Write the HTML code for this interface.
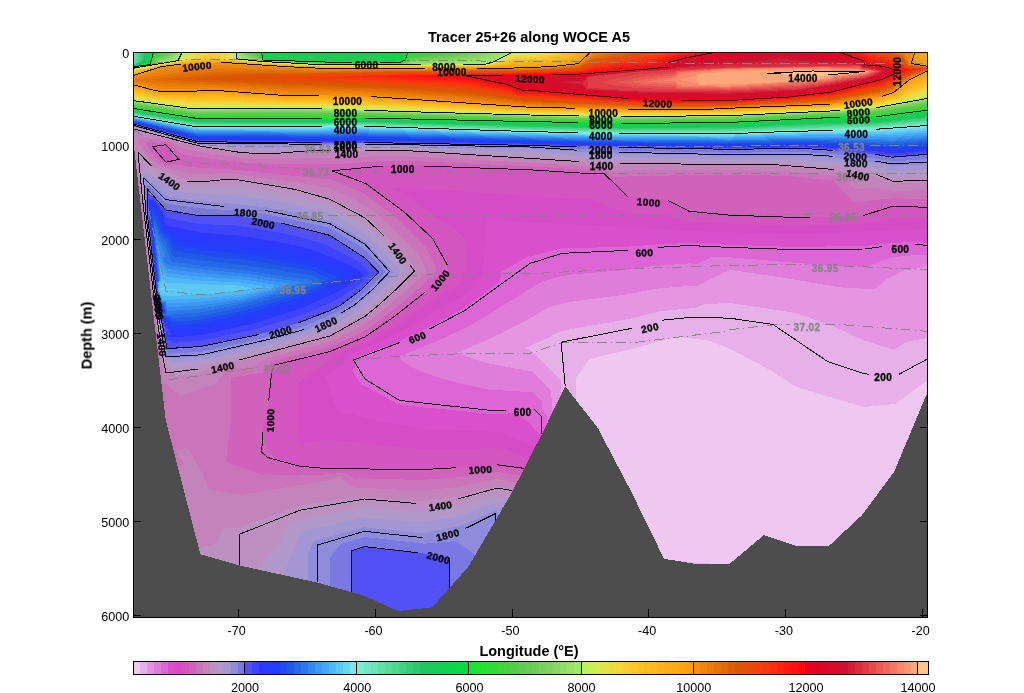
<!DOCTYPE html>
<html><head><meta charset="utf-8"><title>Tracer 25+26 along WOCE A5</title>
<style>html,body{margin:0;padding:0;background:#fff;width:1024px;height:693px;overflow:hidden}
text{font-family:"Liberation Sans",sans-serif}</style></head>
<body><svg width="1024" height="693" viewBox="0 0 1024 693" style="position:absolute;left:0;top:0;will-change:transform"><g shape-rendering="crispEdges" fill="none" stroke-width="1">
<rect x="134" y="53" width="793" height="564" fill="#4d4d4d"/>
<path stroke="#000" d="M238.5 617v-8M375.5 617v-8M512.5 617v-8M648.5 617v-8M785.5 617v-8M922.5 617v-8M134 146.5h7M927 146.5h-7M134 239.5h7M927 239.5h-7M134 333.5h7M927 333.5h-7M134 427.5h7M927 427.5h-7M134 521.5h7M927 521.5h-7M134 615.5h7M927 615.5h-7"/>
<path stroke="#eec8f0" d="M678 337.5h6M671 338.5h21M666 339.5h34M662 340.5h46M658 341.5h54M655 342.5h59M651 343.5h66M648 344.5h71M644 345.5h78M641 346.5h83M637 347.5h89M634 348.5h95M630 349.5h101M626 350.5h107M621 351.5h114M617 352.5h120M612 353.5h127M608 354.5h133M604 355.5h139M599 356.5h145M596 357.5h150M593 358.5h155M590 359.5h160M588 360.5h164M588 361.5h166M587 362.5h169M586 363.5h172M585 364.5h175M585 365.5h177M584 366.5h179M583 367.5h182M583 368.5h184M582 369.5h187M581 370.5h190M581 371.5h191M580 372.5h194M579 373.5h196M578 374.5h199M578 375.5h200M577 376.5h203M576 377.5h206M576 378.5h207M576 379.5h209M576 380.5h210M576 381.5h212M926 381.5h1M576 382.5h213M925 382.5h2M576 383.5h215M923 383.5h4M576 384.5h216M922 384.5h5M576 385.5h218M921 385.5h6M576 386.5h220M919 386.5h8M576 387.5h222M918 387.5h9M576 388.5h225M916 388.5h11M576 389.5h229M915 389.5h12M576 390.5h232M914 390.5h13M576 391.5h236M912 391.5h15M576 392.5h239M911 392.5h16M576 393.5h242M909 393.5h18M576 394.5h246M908 394.5h19M576 395.5h249M907 395.5h19M576 396.5h252M905 396.5h21M576 397.5h256M904 397.5h21M576 398.5h259M903 398.5h22M576 399.5h262M901 399.5h23M576 400.5h266M900 400.5h24M577 401.5h268M898 401.5h26M578 402.5h270M897 402.5h26M579 403.5h273M896 403.5h27M579 404.5h276M890 404.5h32M580 405.5h279M879 405.5h43M581 406.5h281M869 406.5h52M582 407.5h339M583 408.5h338M583 409.5h337M584 410.5h336M585 411.5h334M586 412.5h333M587 413.5h332M587 414.5h331M588 415.5h330M589 416.5h328M590 417.5h327M590 418.5h326M591 419.5h325M592 420.5h324M593 421.5h322M594 422.5h321M594 423.5h320M595 424.5h319M596 425.5h318M597 426.5h316M597 427.5h316M598 428.5h314M599 429.5h313M599 430.5h312M600 431.5h311M600 432.5h311M601 433.5h309M601 434.5h309M602 435.5h307M602 436.5h307M603 437.5h306M603 438.5h305M604 439.5h304M604 440.5h303M605 441.5h302M605 442.5h301M606 443.5h300M606 444.5h300M607 445.5h298M607 446.5h298M608 447.5h296M609 448.5h295M609 449.5h294M610 450.5h293M610 451.5h293M611 452.5h291M611 453.5h291M612 454.5h289M612 455.5h289M613 456.5h288M613 457.5h287M614 458.5h286M614 459.5h285M615 460.5h284M615 461.5h283M616 462.5h282M616 463.5h282M617 464.5h280M617 465.5h280M618 466.5h278M619 467.5h277M619 468.5h277M620 469.5h275M620 470.5h275M621 471.5h273M621 472.5h273M622 473.5h271M622 474.5h270M623 475.5h268M623 476.5h268M624 477.5h266M624 478.5h265M625 479.5h263M625 480.5h263M626 481.5h261M626 482.5h260M627 483.5h258M627 484.5h258M628 485.5h256M629 486.5h254M629 487.5h253M630 488.5h252M630 489.5h251M631 490.5h249M631 491.5h248M632 492.5h247M632 493.5h246M633 494.5h244M633 495.5h244M634 496.5h242M634 497.5h241M635 498.5h239M635 499.5h239M636 500.5h237M636 501.5h236M637 502.5h234M637 503.5h234M637 504.5h233M638 505.5h231M638 506.5h230M639 507.5h229M639 508.5h228M640 509.5h226M640 510.5h225M641 511.5h224M641 512.5h223M642 513.5h221M642 514.5h220M643 515.5h219M643 516.5h218M644 517.5h215M644 518.5h214M645 519.5h212M645 520.5h211M646 521.5h209M646 522.5h208M647 523.5h206M647 524.5h205M648 525.5h203M648 526.5h202M649 527.5h200M649 528.5h199M650 529.5h197M650 530.5h195M651 531.5h193M651 532.5h192M652 533.5h190M652 534.5h189M653 535.5h110M765 535.5h75M653 536.5h109M768 536.5h71M654 537.5h107M771 537.5h67M654 538.5h106M774 538.5h63M655 539.5h104M777 539.5h59M655 540.5h102M780 540.5h55M656 541.5h100M783 541.5h51M656 542.5h99M786 542.5h47M657 543.5h97M789 543.5h43M657 544.5h96M792 544.5h38M658 545.5h93M795 545.5h34M658 546.5h92M658 547.5h91M659 548.5h89M659 549.5h88M660 550.5h86M660 551.5h84M661 552.5h82M661 553.5h81M662 554.5h79M662 555.5h78M663 556.5h75M663 557.5h74M664 558.5h72M668 559.5h67M675 560.5h59M682 561.5h50M695 562.5h36M709 563.5h21"/>
<path stroke="#e8b0e8" d="M718 303.5h15M703 304.5h37M701 305.5h46M699 306.5h54M697 307.5h63M689 308.5h78M678 309.5h95M668 310.5h112M659 311.5h127M655 312.5h138M651 313.5h146M647 314.5h153M643 315.5h160M639 316.5h167M635 317.5h174M631 318.5h180M626 319.5h188M620 320.5h197M614 321.5h206M609 322.5h214M603 323.5h223M598 324.5h231M592 325.5h240M586 326.5h248M580 327.5h256M575 328.5h263M570 329.5h270M565 330.5h277M561 331.5h284M558 332.5h289M556 333.5h293M554 334.5h297M552 335.5h301M551 336.5h304M549 337.5h129M684 337.5h173M547 338.5h124M692 338.5h168M924 338.5h3M544 339.5h122M700 339.5h162M919 339.5h8M542 340.5h120M708 340.5h156M914 340.5h13M540 341.5h118M712 341.5h156M909 341.5h18M538 342.5h117M714 342.5h157M906 342.5h21M535 343.5h116M717 343.5h157M904 343.5h23M533 344.5h115M719 344.5h158M902 344.5h25M531 345.5h113M722 345.5h158M901 345.5h26M529 346.5h112M724 346.5h159M899 346.5h28M526 347.5h111M726 347.5h161M897 347.5h30M525 348.5h109M729 348.5h161M896 348.5h31M529 349.5h101M731 349.5h162M894 349.5h33M531 350.5h95M733 350.5h194M532 351.5h89M735 351.5h192M533 352.5h84M737 352.5h190M534 353.5h78M739 353.5h188M535 354.5h73M741 354.5h186M536 355.5h68M743 355.5h184M537 356.5h62M744 356.5h183M538 357.5h58M746 357.5h181M539 358.5h54M748 358.5h179M540 359.5h50M750 359.5h177M541 360.5h47M752 360.5h175M542 361.5h46M754 361.5h173M543 362.5h44M756 362.5h171M544 363.5h42M758 363.5h169M545 364.5h40M760 364.5h167M546 365.5h39M762 365.5h165M547 366.5h37M763 366.5h164M548 367.5h35M765 367.5h162M549 368.5h34M767 368.5h160M550 369.5h32M769 369.5h158M551 370.5h30M771 370.5h156M552 371.5h29M772 371.5h155M553 372.5h27M774 372.5h153M554 373.5h25M775 373.5h152M555 374.5h23M777 374.5h150M556 375.5h22M778 375.5h149M557 376.5h20M780 376.5h147M558 377.5h18M782 377.5h145M559 378.5h17M783 378.5h144M560 379.5h16M785 379.5h142M561 380.5h15M786 380.5h141M561 381.5h15M788 381.5h138M561 382.5h15M789 382.5h136M561 383.5h15M791 383.5h132M561 384.5h15M792 384.5h130M561 385.5h15M794 385.5h127M561 386.5h15M796 386.5h123M561 387.5h4M566 387.5h10M798 387.5h120M561 388.5h3M567 388.5h9M801 388.5h115M561 389.5h3M568 389.5h8M805 389.5h110M561 390.5h2M569 390.5h7M808 390.5h106M561 391.5h2M569 391.5h7M812 391.5h100M561 392.5h1M570 392.5h6M815 392.5h96M561 393.5h1M571 393.5h5M818 393.5h91M572 394.5h4M822 394.5h86M572 395.5h4M825 395.5h82M573 396.5h3M828 396.5h77M574 397.5h2M832 397.5h72M575 398.5h1M835 398.5h68M838 399.5h63M842 400.5h58M845 401.5h53M848 402.5h49M852 403.5h44M855 404.5h35M859 405.5h20M862 406.5h7M681 561.5h1M687 562.5h8M693 563.5h16"/>
<path stroke="#e496e2" d="M923 267.5h4M916 268.5h11M910 269.5h17M729 270.5h6M904 270.5h23M727 271.5h14M902 271.5h25M724 272.5h24M900 272.5h27M722 273.5h33M898 273.5h29M720 274.5h41M896 274.5h31M718 275.5h50M894 275.5h33M716 276.5h59M892 276.5h35M714 277.5h67M890 277.5h37M712 278.5h76M888 278.5h39M710 279.5h84M886 279.5h41M708 280.5h92M885 280.5h42M706 281.5h100M884 281.5h43M704 282.5h107M883 282.5h44M702 283.5h115M882 283.5h45M700 284.5h123M880 284.5h47M698 285.5h131M879 285.5h48M682 286.5h153M878 286.5h49M670 287.5h173M877 287.5h50M659 288.5h201M875 288.5h52M652 289.5h275M647 290.5h280M642 291.5h285M637 292.5h290M632 293.5h295M626 294.5h301M619 295.5h308M611 296.5h316M603 297.5h324M596 298.5h331M588 299.5h339M580 300.5h347M573 301.5h354M567 302.5h360M563 303.5h155M733 303.5h194M559 304.5h144M740 304.5h187M555 305.5h146M747 305.5h180M552 306.5h147M753 306.5h174M549 307.5h148M760 307.5h167M547 308.5h142M767 308.5h160M545 309.5h133M773 309.5h154M544 310.5h124M780 310.5h147M542 311.5h117M786 311.5h141M540 312.5h115M793 312.5h134M538 313.5h113M797 313.5h130M537 314.5h110M800 314.5h127M535 315.5h108M803 315.5h124M533 316.5h106M806 316.5h121M531 317.5h104M809 317.5h118M529 318.5h102M811 318.5h116M528 319.5h98M814 319.5h113M526 320.5h94M817 320.5h110M524 321.5h90M820 321.5h107M522 322.5h87M823 322.5h104M520 323.5h83M826 323.5h101M518 324.5h80M829 324.5h98M516 325.5h76M832 325.5h95M514 326.5h72M834 326.5h93M512 327.5h68M836 327.5h91M510 328.5h65M838 328.5h89M508 329.5h62M840 329.5h87M506 330.5h59M842 330.5h85M504 331.5h57M845 331.5h82M503 332.5h55M847 332.5h80M501 333.5h55M849 333.5h78M499 334.5h55M851 334.5h76M496 335.5h56M853 335.5h74M494 336.5h57M855 336.5h72M492 337.5h57M857 337.5h70M490 338.5h57M860 338.5h64M488 339.5h56M862 339.5h57M486 340.5h56M864 340.5h50M484 341.5h56M868 341.5h41M481 342.5h57M871 342.5h35M479 343.5h56M874 343.5h30M477 344.5h56M877 344.5h25M474 345.5h57M880 345.5h21M472 346.5h57M883 346.5h16M470 347.5h56M887 347.5h10M467 348.5h58M890 348.5h6M465 349.5h64M893 349.5h1M462 350.5h69M460 351.5h72M458 352.5h75M460 353.5h74M462 354.5h73M465 355.5h71M468 356.5h69M471 357.5h67M473 358.5h66M476 359.5h64M479 360.5h62M483 361.5h59M486 362.5h57M490 363.5h54M495 364.5h50M500 365.5h46M505 366.5h42M510 367.5h38M515 368.5h34M522 369.5h28M528 370.5h23M532 371.5h20M533 372.5h20M534 373.5h20M535 374.5h20M536 375.5h20M537 376.5h20M538 377.5h20M539 378.5h20M540 379.5h20M541 380.5h20M542 381.5h19M543 382.5h18M544 383.5h17M545 384.5h16M546 385.5h15M547 386.5h14M548 387.5h13M549 388.5h12M550 389.5h11M551 390.5h10M551 391.5h10M551 392.5h10M551 393.5h10M551 394.5h10M551 395.5h10M551 396.5h9M551 397.5h9M552 398.5h7M552 399.5h7M552 400.5h6M552 401.5h6M552 402.5h5M552 403.5h5M552 404.5h4M552 405.5h4M552 406.5h3M552 407.5h3M552 408.5h2M552 409.5h2"/>
<path stroke="#e07ddb" d="M910 255.5h17M901 256.5h26M711 257.5h21M891 257.5h36M709 258.5h35M888 258.5h39M707 259.5h49M885 259.5h42M705 260.5h62M882 260.5h45M702 261.5h77M880 261.5h47M700 262.5h92M877 262.5h50M688 263.5h3M698 263.5h107M875 263.5h52M674 264.5h146M872 264.5h55M660 265.5h173M870 265.5h57M651 266.5h207M867 266.5h60M644 267.5h279M637 268.5h279M629 269.5h281M620 270.5h109M735 270.5h169M607 271.5h120M741 271.5h161M595 272.5h129M748 272.5h152M583 273.5h139M755 273.5h143M571 274.5h149M761 274.5h135M565 275.5h153M768 275.5h126M560 276.5h156M775 276.5h117M557 277.5h157M781 277.5h109M553 278.5h159M788 278.5h100M550 279.5h160M794 279.5h92M546 280.5h162M800 280.5h85M543 281.5h163M806 281.5h78M541 282.5h163M811 282.5h72M539 283.5h163M817 283.5h65M537 284.5h163M823 284.5h57M535 285.5h163M829 285.5h50M533 286.5h149M835 286.5h43M532 287.5h138M843 287.5h34M530 288.5h129M860 288.5h15M528 289.5h124M527 290.5h120M525 291.5h117M524 292.5h113M522 293.5h110M521 294.5h105M519 295.5h100M518 296.5h93M516 297.5h87M514 298.5h82M513 299.5h75M511 300.5h69M509 301.5h64M508 302.5h59M506 303.5h57M505 304.5h54M503 305.5h52M501 306.5h51M500 307.5h49M498 308.5h49M497 309.5h48M495 310.5h49M493 311.5h49M492 312.5h48M490 313.5h48M489 314.5h48M487 315.5h48M485 316.5h48M484 317.5h47M482 318.5h47M480 319.5h48M479 320.5h47M477 321.5h47M475 322.5h47M474 323.5h46M472 324.5h46M470 325.5h46M468 326.5h46M466 327.5h46M464 328.5h46M462 329.5h46M460 330.5h46M458 331.5h46M456 332.5h47M453 333.5h48M451 334.5h48M449 335.5h47M447 336.5h47M445 337.5h47M443 338.5h47M440 339.5h48M438 340.5h48M436 341.5h48M434 342.5h47M431 343.5h48M429 344.5h48M426 345.5h48M424 346.5h48M421 347.5h49M418 348.5h49M416 349.5h49M414 350.5h48M411 351.5h49M409 352.5h49M406 353.5h54M404 354.5h58M401 355.5h64M398 356.5h70M399 357.5h72M400 358.5h73M401 359.5h75M402 360.5h77M403 361.5h80M405 362.5h81M407 363.5h83M408 364.5h87M410 365.5h90M411 366.5h94M413 367.5h97M415 368.5h100M417 369.5h105M419 370.5h109M421 371.5h111M424 372.5h109M426 373.5h108M429 374.5h106M432 375.5h104M435 376.5h102M438 377.5h100M442 378.5h97M445 379.5h95M449 380.5h92M453 381.5h89M457 382.5h86M461 383.5h83M465 384.5h80M469 385.5h77M474 386.5h73M479 387.5h69M484 388.5h65M489 389.5h61M503 390.5h1M505 390.5h46M520 391.5h31M533 392.5h18M534 393.5h17M535 394.5h16M536 395.5h15M537 396.5h14M538 397.5h13M539 398.5h13M540 399.5h12M541 400.5h11M542 401.5h10M542 402.5h10M542 403.5h10M542 404.5h10M542 405.5h10M542 406.5h10M542 407.5h10M542 408.5h10M543 409.5h9M544 410.5h9M544 411.5h9M545 412.5h7M545 413.5h7M546 414.5h5M546 415.5h5M547 416.5h3M547 417.5h3M547 418.5h2M547 419.5h2M547 420.5h1M547 421.5h1M547 422.5h1"/>
<path stroke="#dc66d4" d="M902 242.5h22M677 243.5h22M888 243.5h39M656 244.5h67M877 244.5h50M643 245.5h108M869 245.5h58M629 246.5h152M826 246.5h101M597 247.5h330M561 248.5h366M557 249.5h370M553 250.5h374M549 251.5h378M545 252.5h382M541 253.5h386M537 254.5h390M534 255.5h376M528 256.5h1M530 256.5h371M526 257.5h185M732 257.5h159M525 258.5h184M744 258.5h144M523 259.5h184M756 259.5h129M521 260.5h184M767 260.5h115M519 261.5h183M779 261.5h101M517 262.5h183M792 262.5h85M516 263.5h172M691 263.5h7M805 263.5h70M514 264.5h160M820 264.5h52M512 265.5h148M833 265.5h37M510 266.5h141M858 266.5h9M509 267.5h135M507 268.5h130M505 269.5h124M503 270.5h117M501 271.5h106M501 272.5h94M501 273.5h82M501 274.5h70M501 275.5h64M501 276.5h59M500 277.5h57M500 278.5h53M500 279.5h50M500 280.5h46M500 281.5h43M498 282.5h43M497 283.5h42M496 284.5h41M494 285.5h41M493 286.5h40M491 287.5h41M490 288.5h40M490 289.5h38M488 290.5h39M487 291.5h38M486 292.5h38M484 293.5h38M483 294.5h38M482 295.5h37M480 296.5h38M479 297.5h37M477 298.5h37M476 299.5h37M475 300.5h36M473 301.5h36M472 302.5h36M471 303.5h35M469 304.5h36M468 305.5h35M466 306.5h35M465 307.5h35M463 308.5h35M462 309.5h35M460 310.5h35M458 311.5h35M456 312.5h36M454 313.5h36M452 314.5h37M450 315.5h37M449 316.5h36M447 317.5h37M445 318.5h37M443 319.5h37M441 320.5h38M439 321.5h38M437 322.5h38M436 323.5h38M434 324.5h38M432 325.5h38M430 326.5h38M428 327.5h38M426 328.5h38M424 329.5h38M422 330.5h38M420 331.5h38M418 332.5h38M415 333.5h38M413 334.5h38M411 335.5h38M409 336.5h38M407 337.5h38M405 338.5h38M403 339.5h37M401 340.5h37M398 341.5h38M396 342.5h38M393 343.5h38M391 344.5h38M388 345.5h38M385 346.5h39M383 347.5h38M380 348.5h38M378 349.5h38M375 350.5h39M373 351.5h38M370 352.5h39M368 353.5h38M365 354.5h39M362 355.5h39M360 356.5h38M357 357.5h42M354 358.5h46M352 359.5h49M353 360.5h49M353 361.5h50M354 362.5h51M354 363.5h53M355 364.5h53M355 365.5h55M356 366.5h55M355 367.5h58M353 368.5h62M353 369.5h64M353 370.5h66M354 371.5h67M354 372.5h70M354 373.5h72M355 374.5h74M355 375.5h77M356 376.5h79M356 377.5h82M357 378.5h85M358 379.5h87M358 380.5h91M359 381.5h94M360 382.5h97M361 383.5h100M361 384.5h104M364 385.5h105M366 386.5h108M368 387.5h111M370 388.5h114M371 389.5h118M373 390.5h130M504 390.5h1M375 391.5h145M377 392.5h156M379 393.5h155M380 394.5h155M382 395.5h154M384 396.5h153M386 397.5h152M387 398.5h152M389 399.5h151M391 400.5h150M393 401.5h149M395 402.5h147M397 403.5h145M400 404.5h142M408 405.5h134M416 406.5h126M425 407.5h117M436 408.5h106M446 409.5h97M456 410.5h88M466 411.5h78M476 412.5h69M486 413.5h22M517 413.5h28M518 414.5h28M519 415.5h27M521 416.5h26M522 417.5h25M523 418.5h24M524 419.5h23M526 420.5h21M527 421.5h20M529 422.5h18M530 423.5h17M531 424.5h16M531 425.5h15M532 426.5h14M533 427.5h12M534 428.5h11M535 429.5h9M536 430.5h8M537 431.5h6M538 432.5h5M540 433.5h2M541 434.5h1"/>
<path stroke="#da50cc" d="M487 220.5h12M500 220.5h1M487 221.5h31M487 222.5h42M487 223.5h69M487 224.5h87M486 225.5h105M486 226.5h116M486 227.5h133M486 228.5h157M486 229.5h179M914 229.5h13M486 230.5h197M889 230.5h38M486 231.5h222M864 231.5h63M486 232.5h253M841 232.5h86M486 233.5h286M819 233.5h108M486 234.5h441M486 235.5h441M486 236.5h441M486 237.5h441M485 238.5h442M485 239.5h442M485 240.5h442M485 241.5h442M485 242.5h417M924 242.5h3M485 243.5h192M699 243.5h189M485 244.5h171M723 244.5h154M485 245.5h158M751 245.5h118M485 246.5h144M781 246.5h45M485 247.5h112M485 248.5h76M485 249.5h72M485 250.5h68M484 251.5h65M484 252.5h61M484 253.5h57M484 254.5h53M484 255.5h50M484 256.5h44M529 256.5h1M484 257.5h42M484 258.5h41M484 259.5h39M484 260.5h37M484 261.5h35M484 262.5h33M483 263.5h33M483 264.5h31M483 265.5h29M483 266.5h27M483 267.5h26M483 268.5h24M483 269.5h22M483 270.5h20M483 271.5h18M483 272.5h18M483 273.5h18M483 274.5h18M483 275.5h18M481 276.5h20M480 277.5h20M479 278.5h21M477 279.5h23M476 280.5h24M476 281.5h24M476 282.5h22M476 283.5h21M476 284.5h20M476 285.5h18M475 286.5h18M473 287.5h18M472 288.5h18M470 289.5h20M469 290.5h19M468 291.5h19M466 292.5h20M465 293.5h19M464 294.5h19M462 295.5h20M461 296.5h19M459 297.5h20M458 298.5h19M456 299.5h20M454 300.5h21M452 301.5h21M449 302.5h23M447 303.5h24M445 304.5h24M444 305.5h24M443 306.5h23M442 307.5h23M440 308.5h23M439 309.5h23M437 310.5h23M435 311.5h23M434 312.5h22M432 313.5h22M430 314.5h22M429 315.5h21M427 316.5h22M426 317.5h21M424 318.5h21M422 319.5h21M420 320.5h21M419 321.5h20M417 322.5h20M415 323.5h21M413 324.5h21M411 325.5h21M410 326.5h20M408 327.5h20M406 328.5h20M405 329.5h19M403 330.5h19M401 331.5h19M399 332.5h19M397 333.5h18M395 334.5h18M393 335.5h18M391 336.5h18M389 337.5h18M387 338.5h18M385 339.5h18M383 340.5h18M381 341.5h17M379 342.5h17M377 343.5h16M375 344.5h16M372 345.5h16M371 346.5h14M368 347.5h15M365 348.5h15M363 349.5h15M360 350.5h15M358 351.5h15M355 352.5h15M353 353.5h15M350 354.5h15M348 355.5h14M345 356.5h15M345 357.5h12M345 358.5h9M345 359.5h7M345 360.5h8M345 361.5h8M344 362.5h10M343 363.5h11M342 364.5h13M340 365.5h15M339 366.5h17M337 367.5h18M336 368.5h17M335 369.5h18M333 370.5h20M332 371.5h22M330 372.5h24M329 373.5h25M328 374.5h27M326 375.5h29M325 376.5h31M325 377.5h31M326 378.5h31M326 379.5h32M326 380.5h32M327 381.5h32M327 382.5h33M327 383.5h34M328 384.5h33M328 385.5h36M328 386.5h38M329 387.5h39M329 388.5h41M329 389.5h42M330 390.5h43M330 391.5h45M330 392.5h47M331 393.5h48M331 394.5h49M331 395.5h51M332 396.5h52M332 397.5h54M332 398.5h55M333 399.5h56M333 400.5h58M333 401.5h60M334 402.5h61M334 403.5h63M334 404.5h66M335 405.5h73M335 406.5h81M335 407.5h90M336 408.5h100M336 409.5h110M338 410.5h118M340 411.5h126M343 412.5h133M348 413.5h138M508 413.5h9M354 414.5h164M357 415.5h162M361 416.5h160M365 417.5h157M369 418.5h154M373 419.5h151M378 420.5h148M382 421.5h145M386 422.5h143M391 423.5h139M397 424.5h134M403 425.5h128M409 426.5h123M415 427.5h118M425 428.5h109M450 429.5h85M471 430.5h65M492 431.5h45M504 432.5h34M506 433.5h34M507 434.5h34M508 435.5h33M509 436.5h32M512 437.5h28M514 438.5h26M517 439.5h22M519 440.5h20M522 441.5h16M524 442.5h14M527 443.5h10M529 444.5h7M532 445.5h4M534 446.5h1"/>
<path stroke="#d64bc6" d="M398 187.5h3M395 188.5h26M396 189.5h46M398 190.5h57M399 191.5h69M401 192.5h81M403 193.5h92M404 194.5h106M406 195.5h119M407 196.5h132M409 197.5h147M410 198.5h163M412 199.5h181M413 200.5h182M415 201.5h182M416 202.5h184M418 203.5h184M419 204.5h185M421 205.5h184M422 206.5h186M423 207.5h188M425 208.5h188M426 209.5h190M427 210.5h191M429 211.5h192M430 212.5h202M431 213.5h215M432 214.5h230M434 215.5h233M435 216.5h235M437 217.5h237M439 218.5h239M893 218.5h34M441 219.5h240M887 219.5h40M442 220.5h45M499 220.5h1M501 220.5h184M882 220.5h45M445 221.5h42M518 221.5h177M876 221.5h51M446 222.5h41M529 222.5h182M870 222.5h57M448 223.5h39M556 223.5h170M864 223.5h63M449 224.5h38M574 224.5h181M838 224.5h89M450 225.5h36M591 225.5h195M808 225.5h119M451 226.5h35M602 226.5h325M452 227.5h34M619 227.5h308M454 228.5h32M643 228.5h284M455 229.5h31M665 229.5h249M456 230.5h30M683 230.5h206M457 231.5h29M708 231.5h156M458 232.5h28M739 232.5h102M459 233.5h27M772 233.5h47M461 234.5h25M462 235.5h24M463 236.5h23M464 237.5h22M464 238.5h21M467 239.5h18M467 240.5h18M467 241.5h18M467 242.5h18M467 243.5h18M467 244.5h18M467 245.5h18M467 246.5h18M467 247.5h18M467 248.5h18M466 249.5h19M466 250.5h19M466 251.5h18M466 252.5h18M466 253.5h18M466 254.5h18M466 255.5h18M466 256.5h18M466 257.5h18M466 258.5h18M466 259.5h18M466 260.5h18M466 261.5h18M465 262.5h19M465 263.5h18M465 264.5h18M465 265.5h18M465 266.5h18M465 267.5h18M465 268.5h18M465 269.5h18M464 270.5h19M463 271.5h20M462 272.5h21M462 273.5h21M462 274.5h21M462 275.5h21M462 276.5h19M462 277.5h18M462 278.5h17M463 279.5h14M463 280.5h13M462 281.5h14M461 282.5h15M459 283.5h17M458 284.5h18M457 285.5h19M455 286.5h20M454 287.5h19M452 288.5h20M450 289.5h20M447 290.5h22M445 291.5h23M443 292.5h23M440 293.5h25M439 294.5h25M437 295.5h25M436 296.5h25M435 297.5h24M434 298.5h24M433 299.5h23M432 300.5h22M431 301.5h21M429 302.5h20M428 303.5h19M426 304.5h19M425 305.5h19M424 306.5h19M422 307.5h20M421 308.5h19M419 309.5h20M418 310.5h19M416 311.5h19M415 312.5h19M413 313.5h19M412 314.5h18M411 315.5h18M409 316.5h18M407 317.5h19M406 318.5h18M404 319.5h18M403 320.5h17M402 321.5h17M400 322.5h17M399 323.5h16M397 324.5h16M395 325.5h16M394 326.5h16M392 327.5h16M390 328.5h16M389 329.5h16M387 330.5h16M385 331.5h16M383 332.5h16M382 333.5h15M380 334.5h15M378 335.5h15M377 336.5h14M375 337.5h14M373 338.5h14M371 339.5h14M370 340.5h13M368 341.5h13M366 342.5h13M363 343.5h14M361 344.5h14M358 345.5h14M356 346.5h15M353 347.5h15M351 348.5h14M348 349.5h15M346 350.5h14M344 351.5h14M341 352.5h14M339 353.5h14M338 354.5h12M337 355.5h11M335 356.5h10M335 357.5h10M333 358.5h12M331 359.5h14M330 360.5h15M329 361.5h16M327 362.5h17M326 363.5h17M324 364.5h18M323 365.5h17M322 366.5h17M320 367.5h17M319 368.5h17M317 369.5h18M316 370.5h17M315 371.5h17M313 372.5h17M312 373.5h17M310 374.5h18M309 375.5h17M308 376.5h17M306 377.5h19M305 378.5h21M303 379.5h23M302 380.5h24M301 381.5h26M299 382.5h28M298 383.5h29M298 384.5h30M298 385.5h30M298 386.5h30M298 387.5h31M298 388.5h31M298 389.5h31M298 390.5h32M298 391.5h32M298 392.5h32M298 393.5h33M298 394.5h33M298 395.5h33M297 396.5h35M297 397.5h35M297 398.5h35M297 399.5h36M297 400.5h36M297 401.5h36M297 402.5h37M297 403.5h37M297 404.5h37M297 405.5h38M297 406.5h38M297 407.5h38M297 408.5h39M297 409.5h39M297 410.5h41M297 411.5h43M297 412.5h46M297 413.5h51M297 414.5h57M297 415.5h60M297 416.5h64M297 417.5h68M297 418.5h72M297 419.5h76M297 420.5h81M297 421.5h85M297 422.5h89M297 423.5h94M298 424.5h99M298 425.5h105M298 426.5h111M298 427.5h117M298 428.5h127M298 429.5h152M298 430.5h173M299 431.5h193M299 432.5h205M299 433.5h207M299 434.5h208M299 435.5h209M299 436.5h210M299 437.5h213M300 438.5h214M300 439.5h217M300 440.5h21M337 440.5h182M300 441.5h16M346 441.5h176M300 442.5h10M355 442.5h169M300 443.5h5M363 443.5h164M373 444.5h156M382 445.5h150M393 446.5h141M404 447.5h131M416 448.5h61M478 448.5h4M483 448.5h1M499 448.5h35M506 449.5h28M509 450.5h24M511 451.5h22M514 452.5h18M517 453.5h15M520 454.5h11M523 455.5h8M526 456.5h4M529 457.5h1"/>
<path stroke="#d455c0" d="M161 145.5h4M160 146.5h8M160 147.5h8M160 148.5h9M159 149.5h11M159 150.5h12M159 151.5h13M159 152.5h14M158 153.5h15M159 154.5h13M160 155.5h12M161 156.5h11M162 157.5h9M163 158.5h8M164 159.5h7M165 160.5h6M168 161.5h1M377 166.5h61M367 167.5h99M356 168.5h138M347 169.5h175M347 170.5h194M347 171.5h209M346 172.5h226M346 173.5h248M346 174.5h251M346 175.5h253M347 176.5h254M350 177.5h254M352 178.5h254M355 179.5h253M358 180.5h253M360 181.5h252M363 182.5h250M365 183.5h249M367 184.5h248M368 185.5h248M370 186.5h247M371 187.5h27M401 187.5h217M372 188.5h23M421 188.5h198M374 189.5h22M442 189.5h178M375 190.5h23M455 190.5h166M377 191.5h22M468 191.5h154M378 192.5h23M482 192.5h142M379 193.5h24M495 193.5h130M381 194.5h23M510 194.5h116M382 195.5h24M525 195.5h102M383 196.5h24M539 196.5h89M385 197.5h24M556 197.5h82M386 198.5h24M573 198.5h76M387 199.5h25M593 199.5h67M389 200.5h24M595 200.5h72M390 201.5h25M597 201.5h73M391 202.5h25M600 202.5h72M393 203.5h25M602 203.5h72M394 204.5h25M604 204.5h72M395 205.5h26M605 205.5h73M397 206.5h25M608 206.5h72M891 206.5h14M398 207.5h25M611 207.5h71M888 207.5h39M399 208.5h26M613 208.5h71M885 208.5h42M401 209.5h25M616 209.5h70M882 209.5h45M402 210.5h25M618 210.5h70M879 210.5h48M404 211.5h25M621 211.5h70M876 211.5h51M405 212.5h25M632 212.5h70M873 212.5h54M406 213.5h25M646 213.5h66M870 213.5h57M407 214.5h25M662 214.5h61M867 214.5h60M408 215.5h26M667 215.5h72M864 215.5h63M409 216.5h26M670 216.5h98M833 216.5h94M410 217.5h27M674 217.5h253M411 218.5h28M678 218.5h215M412 219.5h29M681 219.5h206M413 220.5h29M685 220.5h197M414 221.5h31M695 221.5h181M415 222.5h31M711 222.5h159M417 223.5h31M726 223.5h138M418 224.5h31M755 224.5h83M419 225.5h31M786 225.5h22M420 226.5h31M421 227.5h31M422 228.5h32M423 229.5h32M424 230.5h32M425 231.5h32M426 232.5h32M427 233.5h32M428 234.5h33M429 235.5h33M430 236.5h33M432 237.5h32M433 238.5h31M433 239.5h34M434 240.5h33M434 241.5h33M435 242.5h32M435 243.5h32M436 244.5h31M436 245.5h31M437 246.5h30M438 247.5h29M438 248.5h29M439 249.5h27M439 250.5h27M440 251.5h26M440 252.5h26M441 253.5h25M442 254.5h24M442 255.5h24M443 256.5h23M443 257.5h23M444 258.5h22M444 259.5h22M445 260.5h21M445 261.5h21M446 262.5h19M447 263.5h18M447 264.5h18M447 265.5h18M447 266.5h18M448 267.5h17M448 268.5h17M448 269.5h17M448 270.5h16M448 271.5h15M448 272.5h14M448 273.5h14M449 274.5h13M449 275.5h13M449 276.5h13M448 277.5h14M445 278.5h17M443 279.5h20M441 280.5h22M438 281.5h24M436 282.5h25M433 283.5h26M431 284.5h27M430 285.5h27M430 286.5h25M429 287.5h25M428 288.5h24M427 289.5h23M426 290.5h21M426 291.5h19M425 292.5h18M423 293.5h17M422 294.5h17M421 295.5h16M420 296.5h16M418 297.5h17M417 298.5h17M416 299.5h17M415 300.5h17M413 301.5h18M412 302.5h17M411 303.5h17M410 304.5h16M408 305.5h17M407 306.5h17M406 307.5h16M404 308.5h17M403 309.5h16M402 310.5h16M401 311.5h15M399 312.5h16M398 313.5h15M397 314.5h15M396 315.5h15M394 316.5h15M393 317.5h14M391 318.5h15M390 319.5h14M389 320.5h14M387 321.5h15M386 322.5h14M384 323.5h15M383 324.5h14M381 325.5h14M380 326.5h14M379 327.5h13M377 328.5h13M376 329.5h13M374 330.5h13M373 331.5h12M371 332.5h12M370 333.5h12M368 334.5h12M367 335.5h11M366 336.5h11M364 337.5h11M361 338.5h12M359 339.5h12M356 340.5h14M354 341.5h14M352 342.5h14M349 343.5h14M347 344.5h14M344 345.5h14M342 346.5h14M340 347.5h13M337 348.5h14M335 349.5h13M332 350.5h14M330 351.5h14M326 352.5h15M322 353.5h17M318 354.5h20M314 355.5h23M310 356.5h25M306 357.5h29M302 358.5h31M298 359.5h33M294 360.5h36M289 361.5h40M285 362.5h42M282 363.5h44M281 364.5h43M280 365.5h43M279 366.5h43M278 367.5h42M277 368.5h42M276 369.5h41M275 370.5h41M274 371.5h41M273 372.5h40M273 373.5h39M272 374.5h38M271 375.5h38M271 376.5h37M271 377.5h35M271 378.5h34M271 379.5h32M271 380.5h31M271 381.5h30M271 382.5h28M270 383.5h28M270 384.5h28M270 385.5h28M270 386.5h28M270 387.5h28M270 388.5h28M270 389.5h28M270 390.5h28M270 391.5h28M270 392.5h28M269 393.5h29M269 394.5h29M269 395.5h29M269 396.5h28M269 397.5h28M269 398.5h28M269 399.5h28M269 400.5h28M269 401.5h28M268 402.5h29M268 403.5h29M268 404.5h29M268 405.5h29M268 406.5h29M267 407.5h30M267 408.5h30M267 409.5h30M267 410.5h30M267 411.5h30M266 412.5h31M266 413.5h31M266 414.5h31M266 415.5h31M266 416.5h31M265 417.5h32M265 418.5h32M265 419.5h32M265 420.5h32M265 421.5h32M264 422.5h33M264 423.5h33M264 424.5h34M264 425.5h34M264 426.5h34M263 427.5h35M263 428.5h35M263 429.5h35M263 430.5h35M263 431.5h36M263 432.5h36M262 433.5h37M262 434.5h37M262 435.5h37M262 436.5h37M262 437.5h37M262 438.5h38M262 439.5h38M262 440.5h38M321 440.5h16M263 441.5h37M316 441.5h30M264 442.5h36M310 442.5h45M264 443.5h36M305 443.5h58M265 444.5h108M266 445.5h116M266 446.5h127M267 447.5h137M268 448.5h148M477 448.5h1M482 448.5h1M484 448.5h15M269 449.5h237M269 450.5h240M270 451.5h241M271 452.5h243M272 453.5h245M272 454.5h248M273 455.5h250M274 456.5h252M274 457.5h255M275 458.5h254M276 459.5h253M279 460.5h249M282 461.5h246M286 462.5h241M289 463.5h238M293 464.5h233M297 465.5h190M503 465.5h23M304 466.5h169M510 466.5h15M315 467.5h144M518 467.5h7M337 468.5h105"/>
<path stroke="#d062bc" d="M146 142.5h4M161 142.5h5M147 143.5h21M147 144.5h23M147 145.5h14M165 145.5h6M148 146.5h12M168 146.5h4M148 147.5h12M168 147.5h5M149 148.5h11M169 148.5h6M149 149.5h10M170 149.5h6M150 150.5h9M171 150.5h6M151 151.5h8M172 151.5h6M152 152.5h7M173 152.5h7M153 153.5h5M173 153.5h9M154 154.5h5M172 154.5h12M154 155.5h6M172 155.5h17M155 156.5h6M172 156.5h23M156 157.5h6M171 157.5h31M157 158.5h6M171 158.5h39M158 159.5h6M171 159.5h47M159 160.5h6M171 160.5h56M161 161.5h7M169 161.5h67M376 161.5h46M162 162.5h83M359 162.5h86M163 163.5h99M345 163.5h123M164 164.5h327M183 165.5h330M187 166.5h190M438 166.5h96M197 167.5h170M466 167.5h84M214 168.5h142M494 168.5h71M232 169.5h115M522 169.5h59M243 170.5h104M541 170.5h65M252 171.5h95M556 171.5h51M261 172.5h85M572 172.5h36M270 173.5h76M594 173.5h15M280 174.5h66M597 174.5h13M289 175.5h57M599 175.5h12M670 175.5h100M301 176.5h46M601 176.5h11M626 176.5h168M310 177.5h40M604 177.5h199M321 178.5h31M606 178.5h206M330 179.5h25M608 179.5h213M333 180.5h25M611 180.5h219M336 181.5h24M612 181.5h222M339 182.5h24M613 182.5h222M341 183.5h24M614 183.5h222M343 184.5h24M615 184.5h222M346 185.5h22M616 185.5h222M348 186.5h22M617 186.5h222M350 187.5h21M618 187.5h222M353 188.5h19M619 188.5h222M355 189.5h19M620 189.5h222M357 190.5h18M621 190.5h222M360 191.5h17M622 191.5h221M362 192.5h16M624 192.5h220M363 193.5h16M625 193.5h220M365 194.5h16M626 194.5h220M366 195.5h16M627 195.5h220M368 196.5h15M628 196.5h220M369 197.5h16M638 197.5h211M371 198.5h15M649 198.5h201M891 198.5h14M372 199.5h15M660 199.5h191M876 199.5h1M881 199.5h46M374 200.5h15M667 200.5h185M871 200.5h56M375 201.5h15M670 201.5h182M865 201.5h62M140 202.5h1M377 202.5h14M672 202.5h255M378 203.5h15M674 203.5h253M379 204.5h15M676 204.5h251M380 205.5h15M678 205.5h249M382 206.5h15M680 206.5h211M905 206.5h22M383 207.5h15M682 207.5h206M384 208.5h15M684 208.5h201M385 209.5h16M686 209.5h196M387 210.5h15M688 210.5h191M141 211.5h1M388 211.5h16M691 211.5h185M389 212.5h16M702 212.5h171M390 213.5h16M712 213.5h158M392 214.5h15M723 214.5h144M393 215.5h15M739 215.5h125M394 216.5h15M768 216.5h65M396 217.5h14M397 218.5h14M398 219.5h14M399 220.5h14M400 221.5h14M401 222.5h14M402 223.5h15M403 224.5h15M404 225.5h15M405 226.5h15M406 227.5h15M407 228.5h15M408 229.5h15M409 230.5h15M410 231.5h15M411 232.5h15M412 233.5h15M413 234.5h15M414 235.5h15M415 236.5h15M416 237.5h16M417 238.5h16M418 239.5h15M419 240.5h15M420 241.5h14M421 242.5h14M422 243.5h13M423 244.5h13M424 245.5h12M425 246.5h12M426 247.5h12M426 248.5h12M427 249.5h12M427 250.5h12M428 251.5h12M429 252.5h11M429 253.5h12M430 254.5h12M430 255.5h12M431 256.5h12M431 257.5h12M432 258.5h12M432 259.5h12M433 260.5h12M433 261.5h12M434 262.5h12M434 263.5h13M435 264.5h12M435 265.5h12M436 266.5h11M436 267.5h12M436 268.5h12M436 269.5h12M436 270.5h12M436 271.5h12M436 272.5h12M436 273.5h12M436 274.5h13M436 275.5h13M433 276.5h16M431 277.5h17M430 278.5h15M428 279.5h15M427 280.5h14M426 281.5h12M425 282.5h11M424 283.5h9M423 284.5h8M422 285.5h8M421 286.5h9M420 287.5h9M419 288.5h9M417 289.5h10M416 290.5h10M415 291.5h11M414 292.5h11M413 293.5h10M412 294.5h10M410 295.5h11M409 296.5h11M408 297.5h10M407 298.5h10M406 299.5h10M404 300.5h11M403 301.5h10M402 302.5h10M401 303.5h10M400 304.5h10M398 305.5h10M397 306.5h10M396 307.5h10M395 308.5h9M394 309.5h9M392 310.5h10M391 311.5h10M390 312.5h9M388 313.5h10M387 314.5h10M386 315.5h10M384 316.5h10M383 317.5h10M382 318.5h9M380 319.5h10M379 320.5h10M378 321.5h9M376 322.5h10M375 323.5h9M374 324.5h9M372 325.5h9M371 326.5h9M369 327.5h10M368 328.5h9M366 329.5h10M365 330.5h9M363 331.5h10M361 332.5h10M359 333.5h11M357 334.5h11M355 335.5h12M352 336.5h14M350 337.5h14M348 338.5h13M346 339.5h13M344 340.5h12M342 341.5h12M339 342.5h13M337 343.5h12M335 344.5h12M333 345.5h11M330 346.5h12M327 347.5h13M323 348.5h14M319 349.5h16M315 350.5h17M311 351.5h19M307 352.5h19M303 353.5h19M299 354.5h19M295 355.5h19M291 356.5h19M287 357.5h19M283 358.5h19M279 359.5h19M275 360.5h19M271 361.5h18M271 362.5h14M270 363.5h12M269 364.5h12M268 365.5h12M267 366.5h12M266 367.5h12M265 368.5h12M264 369.5h12M264 370.5h11M264 371.5h10M263 372.5h10M258 373.5h15M252 374.5h20M246 375.5h25M239 376.5h32M233 377.5h38M231 378.5h40M231 379.5h40M231 380.5h40M231 381.5h40M231 382.5h40M231 383.5h39M231 384.5h39M231 385.5h39M231 386.5h39M231 387.5h39M231 388.5h39M231 389.5h39M231 390.5h39M231 391.5h39M231 392.5h39M231 393.5h38M231 394.5h38M231 395.5h38M231 396.5h38M231 397.5h38M231 398.5h38M231 399.5h38M231 400.5h38M231 401.5h38M231 402.5h37M231 403.5h37M231 404.5h37M231 405.5h37M231 406.5h37M231 407.5h36M231 408.5h36M231 409.5h36M231 410.5h36M231 411.5h36M231 412.5h35M231 413.5h35M231 414.5h35M231 415.5h35M231 416.5h35M231 417.5h34M231 418.5h34M231 419.5h34M231 420.5h34M231 421.5h34M231 422.5h33M231 423.5h33M230 424.5h34M230 425.5h34M230 426.5h34M230 427.5h33M230 428.5h33M230 429.5h33M230 430.5h33M230 431.5h33M230 432.5h33M229 433.5h33M229 434.5h33M229 435.5h33M229 436.5h33M229 437.5h33M229 438.5h33M229 439.5h33M229 440.5h33M228 441.5h35M228 442.5h36M228 443.5h36M228 444.5h37M228 445.5h38M228 446.5h38M228 447.5h39M228 448.5h40M227 449.5h42M227 450.5h42M227 451.5h43M227 452.5h44M227 453.5h45M227 454.5h45M227 455.5h46M227 456.5h47M227 457.5h47M226 458.5h49M226 459.5h50M226 460.5h53M226 461.5h56M227 462.5h59M230 463.5h59M233 464.5h60M236 465.5h61M487 465.5h16M239 466.5h65M473 466.5h37M242 467.5h73M459 467.5h59M244 468.5h93M442 468.5h82M247 469.5h277M250 470.5h273M253 471.5h270M256 472.5h237M501 472.5h21M259 473.5h77M347 473.5h138M507 473.5h15M262 474.5h2M273 474.5h1M276 474.5h48M349 474.5h129M512 474.5h9M293 475.5h1M295 475.5h5M350 475.5h120M520 475.5h1M352 476.5h111M353 477.5h103M355 478.5h3M370 478.5h72M403 479.5h23"/>
<path stroke="#ca74ba" d="M140 138.5h10M140 139.5h20M139 140.5h29M139 141.5h31M139 142.5h7M150 142.5h11M166 142.5h6M138 143.5h9M168 143.5h6M138 144.5h9M170 144.5h6M142 145.5h5M171 145.5h7M142 146.5h6M172 146.5h8M143 147.5h5M173 147.5h9M143 148.5h6M175 148.5h9M144 149.5h5M176 149.5h11M145 150.5h5M177 150.5h15M145 151.5h6M178 151.5h18M146 152.5h6M180 152.5h23M147 153.5h6M182 153.5h28M148 154.5h6M184 154.5h33M149 155.5h5M189 155.5h35M150 156.5h5M195 156.5h36M370 156.5h39M150 157.5h6M202 157.5h37M344 157.5h88M151 158.5h6M210 158.5h43M299 158.5h152M152 159.5h6M218 159.5h252M153 160.5h6M227 160.5h262M154 161.5h7M236 161.5h140M422 161.5h86M156 162.5h6M245 162.5h114M445 162.5h82M157 163.5h6M262 163.5h83M468 163.5h75M158 164.5h6M491 164.5h68M160 165.5h23M513 165.5h61M136 166.5h1M162 166.5h25M534 166.5h63M136 167.5h1M163 167.5h34M550 167.5h59M136 168.5h1M166 168.5h48M565 168.5h45M171 169.5h61M581 169.5h30M178 170.5h65M606 170.5h5M631 170.5h129M182 171.5h70M607 171.5h184M137 172.5h1M185 172.5h76M608 172.5h193M137 173.5h1M190 173.5h80M609 173.5h202M137 174.5h1M238 174.5h42M610 174.5h211M137 175.5h1M246 175.5h43M611 175.5h59M770 175.5h61M137 176.5h1M253 176.5h48M612 176.5h14M794 176.5h46M261 177.5h49M803 177.5h41M268 178.5h53M812 178.5h33M138 179.5h1M275 179.5h55M821 179.5h25M138 180.5h1M283 180.5h50M830 180.5h17M138 181.5h1M290 181.5h46M834 181.5h14M138 182.5h1M298 182.5h41M835 182.5h14M138 183.5h1M304 183.5h37M836 183.5h13M138 184.5h1M309 184.5h34M837 184.5h13M138 185.5h1M315 185.5h31M838 185.5h13M139 186.5h1M320 186.5h28M839 186.5h13M139 187.5h1M326 187.5h24M840 187.5h13M139 188.5h1M330 188.5h23M841 188.5h14M863 188.5h15M139 189.5h1M333 189.5h22M842 189.5h43M139 190.5h1M335 190.5h22M843 190.5h49M908 190.5h1M911 190.5h16M139 191.5h1M338 191.5h22M843 191.5h84M139 192.5h1M340 192.5h22M844 192.5h83M139 193.5h2M342 193.5h21M845 193.5h82M140 194.5h1M344 194.5h21M846 194.5h81M140 195.5h1M346 195.5h20M847 195.5h80M140 196.5h1M348 196.5h20M848 196.5h79M140 197.5h1M350 197.5h19M849 197.5h78M140 198.5h1M352 198.5h19M850 198.5h41M905 198.5h22M140 199.5h1M355 199.5h17M851 199.5h25M877 199.5h4M140 200.5h1M357 200.5h17M852 200.5h19M140 201.5h1M358 201.5h17M852 201.5h13M141 202.5h1M360 202.5h17M141 203.5h1M362 203.5h16M141 204.5h1M363 204.5h16M141 205.5h1M365 205.5h15M141 206.5h1M367 206.5h15M141 207.5h1M368 207.5h15M141 208.5h1M370 208.5h14M141 209.5h1M371 209.5h14M141 210.5h2M373 210.5h14M142 211.5h1M374 211.5h14M142 212.5h1M375 212.5h14M142 213.5h1M376 213.5h14M142 214.5h1M377 214.5h15M142 215.5h1M378 215.5h15M142 216.5h1M380 216.5h14M142 217.5h1M381 217.5h15M142 218.5h1M382 218.5h15M142 219.5h2M383 219.5h15M143 220.5h1M384 220.5h15M143 221.5h1M385 221.5h15M143 222.5h1M387 222.5h14M143 223.5h1M388 223.5h14M143 224.5h1M389 224.5h14M143 225.5h1M390 225.5h14M143 226.5h1M391 226.5h14M143 227.5h1M392 227.5h14M143 228.5h2M393 228.5h14M144 229.5h1M394 229.5h14M144 230.5h1M395 230.5h14M144 231.5h1M396 231.5h14M144 232.5h1M397 232.5h14M144 233.5h1M398 233.5h14M144 234.5h1M399 234.5h14M144 235.5h1M400 235.5h14M144 236.5h2M401 236.5h14M145 237.5h1M402 237.5h14M145 238.5h1M403 238.5h14M145 239.5h1M404 239.5h14M145 240.5h1M405 240.5h14M145 241.5h1M406 241.5h14M145 242.5h1M407 242.5h14M145 243.5h1M408 243.5h14M145 244.5h1M409 244.5h14M145 245.5h2M409 245.5h15M146 246.5h1M410 246.5h15M146 247.5h1M411 247.5h15M146 248.5h1M412 248.5h14M146 249.5h1M413 249.5h14M146 250.5h1M414 250.5h13M146 251.5h1M415 251.5h13M146 252.5h1M416 252.5h13M146 253.5h1M417 253.5h12M146 254.5h2M417 254.5h13M147 255.5h1M418 255.5h12M147 256.5h1M419 256.5h12M147 257.5h1M420 257.5h11M147 258.5h1M420 258.5h12M147 259.5h1M421 259.5h11M147 260.5h1M422 260.5h11M147 261.5h1M422 261.5h11M147 262.5h1M423 262.5h11M148 263.5h1M423 263.5h11M148 264.5h1M424 264.5h11M148 265.5h1M424 265.5h11M148 266.5h1M425 266.5h11M148 267.5h1M425 267.5h11M148 268.5h1M426 268.5h10M148 269.5h1M426 269.5h10M148 270.5h1M426 270.5h10M148 271.5h2M427 271.5h9M149 272.5h1M427 272.5h9M149 273.5h1M427 273.5h9M149 274.5h1M425 274.5h11M149 275.5h1M423 275.5h13M149 276.5h1M422 276.5h11M149 277.5h1M421 277.5h10M149 278.5h1M419 278.5h11M149 279.5h1M418 279.5h10M150 280.5h1M417 280.5h10M150 281.5h1M416 281.5h10M150 282.5h1M415 282.5h10M150 283.5h1M414 283.5h10M150 284.5h1M413 284.5h10M150 285.5h1M412 285.5h10M150 286.5h1M411 286.5h10M150 287.5h1M409 287.5h11M150 288.5h1M408 288.5h11M151 289.5h1M407 289.5h10M151 290.5h1M406 290.5h10M151 291.5h1M405 291.5h10M151 292.5h1M404 292.5h10M151 293.5h1M403 293.5h10M151 294.5h1M402 294.5h10M151 295.5h1M401 295.5h9M151 296.5h1M399 296.5h10M151 297.5h2M398 297.5h10M152 298.5h1M397 298.5h10M152 299.5h1M396 299.5h10M152 300.5h1M395 300.5h9M152 301.5h1M394 301.5h9M152 302.5h1M392 302.5h10M152 303.5h1M391 303.5h10M152 304.5h1M390 304.5h10M152 305.5h2M389 305.5h9M153 306.5h1M388 306.5h9M153 307.5h1M387 307.5h9M153 308.5h1M385 308.5h10M153 309.5h1M384 309.5h10M153 310.5h1M383 310.5h9M153 311.5h1M382 311.5h9M153 312.5h1M380 312.5h10M153 313.5h2M379 313.5h9M153 314.5h2M378 314.5h9M154 315.5h1M376 315.5h10M154 316.5h1M375 316.5h9M154 317.5h1M374 317.5h9M154 318.5h1M373 318.5h9M154 319.5h1M371 319.5h9M154 320.5h1M370 320.5h9M154 321.5h2M369 321.5h9M154 322.5h2M367 322.5h9M154 323.5h2M365 323.5h10M155 324.5h1M364 324.5h10M155 325.5h1M362 325.5h10M155 326.5h1M361 326.5h10M155 327.5h1M359 327.5h10M155 328.5h1M357 328.5h11M155 329.5h2M355 329.5h11M155 330.5h2M353 330.5h12M155 331.5h2M351 331.5h12M156 332.5h1M349 332.5h12M156 333.5h1M347 333.5h12M156 334.5h1M345 334.5h12M156 335.5h1M343 335.5h12M156 336.5h1M341 336.5h11M156 337.5h2M339 337.5h11M156 338.5h2M337 338.5h11M156 339.5h2M335 339.5h11M156 340.5h2M333 340.5h11M157 341.5h1M330 341.5h12M157 342.5h1M327 342.5h12M157 343.5h1M324 343.5h13M157 344.5h1M320 344.5h15M157 345.5h2M316 345.5h17M157 346.5h2M312 346.5h18M157 347.5h2M308 347.5h19M157 348.5h2M304 348.5h19M158 349.5h1M300 349.5h19M158 350.5h1M296 350.5h19M158 351.5h1M293 351.5h18M158 352.5h1M289 352.5h18M158 353.5h1M285 353.5h18M158 354.5h2M281 354.5h18M158 355.5h2M277 355.5h18M158 356.5h2M273 356.5h18M158 357.5h2M269 357.5h18M159 358.5h1M267 358.5h16M159 359.5h1M266 359.5h13M159 360.5h1M264 360.5h11M159 361.5h1M263 361.5h8M159 362.5h2M260 362.5h11M159 363.5h2M259 363.5h11M159 364.5h2M258 364.5h11M159 365.5h2M256 365.5h12M159 366.5h2M235 366.5h1M253 366.5h14M160 367.5h1M231 367.5h6M247 367.5h19M160 368.5h1M226 368.5h12M240 368.5h25M160 369.5h2M226 369.5h38M160 370.5h2M226 370.5h38M160 371.5h2M225 371.5h39M160 372.5h2M224 372.5h39M160 373.5h2M223 373.5h35M160 374.5h2M223 374.5h29M161 375.5h1M222 375.5h24M161 376.5h1M221 376.5h18M161 377.5h1M220 377.5h13M161 378.5h2M220 378.5h11M161 379.5h2M219 379.5h12M161 380.5h3M219 380.5h12M161 381.5h4M218 381.5h13M161 382.5h4M217 382.5h14M161 383.5h5M216 383.5h15M162 384.5h5M213 384.5h18M162 385.5h6M210 385.5h21M162 386.5h7M207 386.5h24M162 387.5h8M204 387.5h27M162 388.5h9M201 388.5h30M162 389.5h11M198 389.5h33M162 390.5h12M196 390.5h35M162 391.5h13M193 391.5h38M163 392.5h13M190 392.5h41M163 393.5h14M187 393.5h44M163 394.5h15M184 394.5h47M163 395.5h68M163 396.5h68M163 397.5h68M163 398.5h68M163 399.5h68M163 400.5h68M164 401.5h67M164 402.5h67M164 403.5h67M164 404.5h67M164 405.5h67M164 406.5h67M164 407.5h67M164 408.5h67M164 409.5h67M165 410.5h66M165 411.5h66M165 412.5h66M165 413.5h66M165 414.5h66M165 415.5h66M165 416.5h66M165 417.5h66M166 418.5h65M166 419.5h65M166 420.5h65M166 421.5h65M166 422.5h65M167 423.5h64M167 424.5h63M167 425.5h63M167 426.5h63M168 427.5h62M168 428.5h62M168 429.5h62M168 430.5h62M169 431.5h61M169 432.5h61M169 433.5h60M169 434.5h60M170 435.5h59M170 436.5h59M170 437.5h59M170 438.5h59M171 439.5h58M171 440.5h58M171 441.5h57M172 442.5h56M172 443.5h56M172 444.5h56M172 445.5h56M173 446.5h55M173 447.5h55M173 448.5h11M188 448.5h40M173 449.5h8M189 449.5h38M174 450.5h4M189 450.5h38M174 451.5h2M190 451.5h37M174 452.5h3M191 452.5h36M174 453.5h4M191 453.5h36M175 454.5h3M192 454.5h35M175 455.5h4M192 455.5h35M175 456.5h4M193 456.5h34M175 457.5h5M193 457.5h34M176 458.5h5M194 458.5h32M176 459.5h5M195 459.5h31M176 460.5h6M195 460.5h31M176 461.5h7M196 461.5h30M177 462.5h6M196 462.5h31M177 463.5h7M197 463.5h33M177 464.5h8M197 464.5h36M177 465.5h6M198 465.5h38M178 466.5h3M198 466.5h41M178 467.5h1M199 467.5h43M200 468.5h44M200 469.5h47M201 470.5h49M201 471.5h52M202 472.5h54M493 472.5h8M203 473.5h56M336 473.5h11M485 473.5h22M203 474.5h59M264 474.5h9M274 474.5h2M324 474.5h25M478 474.5h34M203 475.5h90M294 475.5h1M300 475.5h50M470 475.5h50M204 476.5h148M463 476.5h57M204 477.5h149M456 477.5h64M204 478.5h133M341 478.5h14M358 478.5h12M442 478.5h77M205 479.5h126M342 479.5h61M426 479.5h69M499 479.5h20M205 480.5h121M344 480.5h147M505 480.5h13M206 481.5h114M345 481.5h140M510 481.5h7M206 482.5h108M347 482.5h133M515 482.5h2M206 483.5h103M348 483.5h127M207 484.5h96M350 484.5h120M207 485.5h90M351 485.5h114M207 486.5h84M353 486.5h107M208 487.5h77M355 487.5h99M208 488.5h71M378 488.5h65M209 489.5h64M396 489.5h35M214 490.5h53M220 491.5h41M226 492.5h29M231 493.5h18M238 494.5h5"/>
<path stroke="#c483bb" d="M134 131.5h4M134 132.5h9M134 133.5h13M134 134.5h18M134 135.5h22M134 136.5h26M134 137.5h31M134 138.5h6M150 138.5h19M134 139.5h6M160 139.5h12M134 140.5h5M168 140.5h8M134 141.5h5M170 141.5h9M134 142.5h5M172 142.5h10M134 143.5h4M174 143.5h12M134 144.5h4M176 144.5h13M134 145.5h8M178 145.5h15M134 146.5h8M180 146.5h17M134 147.5h9M182 147.5h21M134 148.5h9M184 148.5h25M134 149.5h10M187 149.5h29M134 150.5h11M192 150.5h30M135 151.5h2M139 151.5h6M196 151.5h32M341 151.5h56M135 152.5h2M140 152.5h6M203 152.5h32M301 152.5h121M135 153.5h2M141 153.5h6M210 153.5h32M288 153.5h151M135 154.5h3M142 154.5h6M217 154.5h238M135 155.5h3M143 155.5h6M224 155.5h247M135 156.5h3M143 156.5h7M231 156.5h139M409 156.5h78M135 157.5h3M144 157.5h6M239 157.5h105M432 157.5h72M135 158.5h3M145 158.5h6M253 158.5h46M451 158.5h69M135 159.5h3M146 159.5h6M470 159.5h66M136 160.5h2M147 160.5h6M489 160.5h63M136 161.5h2M148 161.5h6M508 161.5h60M136 162.5h2M149 162.5h7M527 162.5h58M136 163.5h3M150 163.5h7M543 163.5h64M136 164.5h3M151 164.5h7M559 164.5h58M136 165.5h3M152 165.5h8M574 165.5h164M137 166.5h2M154 166.5h8M597 166.5h189M137 167.5h2M156 167.5h7M609 167.5h189M137 168.5h2M159 168.5h7M610 168.5h200M137 169.5h2M161 169.5h10M611 169.5h211M137 170.5h2M163 170.5h15M611 170.5h20M760 170.5h74M137 171.5h2M165 171.5h17M791 171.5h52M138 172.5h2M168 172.5h17M801 172.5h50M138 173.5h2M171 173.5h19M811 173.5h43M138 174.5h2M173 174.5h65M821 174.5h34M138 175.5h2M176 175.5h70M831 175.5h33M138 176.5h2M179 176.5h74M840 176.5h34M138 177.5h2M181 177.5h80M844 177.5h34M138 178.5h2M183 178.5h85M845 178.5h36M139 179.5h1M186 179.5h28M242 179.5h33M846 179.5h38M139 180.5h1M248 180.5h35M847 180.5h40M139 181.5h2M254 181.5h36M848 181.5h41M139 182.5h2M260 182.5h38M849 182.5h43M907 182.5h20M139 183.5h2M266 183.5h38M849 183.5h78M139 184.5h2M272 184.5h37M850 184.5h77M139 185.5h2M278 185.5h37M851 185.5h76M140 186.5h1M285 186.5h35M852 186.5h75M140 187.5h1M291 187.5h35M853 187.5h74M140 188.5h1M297 188.5h33M855 188.5h8M878 188.5h49M140 189.5h1M300 189.5h33M885 189.5h42M140 190.5h1M304 190.5h31M892 190.5h16M909 190.5h2M140 191.5h2M308 191.5h30M140 192.5h2M312 192.5h28M141 193.5h1M315 193.5h27M141 194.5h1M319 194.5h25M141 195.5h1M323 195.5h23M141 196.5h1M327 196.5h21M141 197.5h1M330 197.5h20M141 198.5h1M332 198.5h20M141 199.5h1M334 199.5h21M141 200.5h1M336 200.5h21M141 201.5h2M338 201.5h20M142 202.5h1M340 202.5h20M142 203.5h1M342 203.5h20M142 204.5h1M344 204.5h19M142 205.5h1M346 205.5h19M142 206.5h1M347 206.5h20M142 207.5h1M349 207.5h19M142 208.5h1M351 208.5h19M142 209.5h1M353 209.5h18M143 210.5h1M355 210.5h18M143 211.5h1M357 211.5h17M143 212.5h1M359 212.5h16M143 213.5h1M361 213.5h15M143 214.5h1M362 214.5h15M143 215.5h1M364 215.5h14M143 216.5h1M366 216.5h14M143 217.5h1M367 217.5h14M143 218.5h2M368 218.5h14M144 219.5h1M369 219.5h14M144 220.5h1M370 220.5h14M144 221.5h1M372 221.5h13M144 222.5h1M373 222.5h14M144 223.5h1M374 223.5h14M144 224.5h1M375 224.5h14M144 225.5h1M376 225.5h14M144 226.5h1M377 226.5h14M144 227.5h2M378 227.5h14M145 228.5h1M379 228.5h14M145 229.5h1M380 229.5h14M145 230.5h1M381 230.5h14M145 231.5h1M382 231.5h14M145 232.5h1M383 232.5h14M145 233.5h1M384 233.5h14M145 234.5h1M386 234.5h13M145 235.5h1M386 235.5h14M146 236.5h1M387 236.5h14M146 237.5h1M388 237.5h14M146 238.5h1M389 238.5h14M146 239.5h1M390 239.5h14M146 240.5h1M391 240.5h14M146 241.5h1M392 241.5h14M146 242.5h1M393 242.5h14M146 243.5h1M394 243.5h14M146 244.5h2M394 244.5h15M147 245.5h1M395 245.5h14M147 246.5h1M396 246.5h14M147 247.5h1M397 247.5h14M147 248.5h1M398 248.5h14M147 249.5h1M399 249.5h14M147 250.5h1M400 250.5h14M147 251.5h1M401 251.5h14M147 252.5h1M402 252.5h14M147 253.5h2M403 253.5h14M148 254.5h1M403 254.5h14M148 255.5h1M404 255.5h14M148 256.5h1M405 256.5h14M148 257.5h1M406 257.5h14M148 258.5h1M407 258.5h13M148 259.5h1M408 259.5h13M148 260.5h1M409 260.5h13M148 261.5h2M410 261.5h12M148 262.5h2M411 262.5h12M149 263.5h1M411 263.5h12M149 264.5h1M412 264.5h12M149 265.5h1M413 265.5h11M149 266.5h1M413 266.5h12M149 267.5h1M414 267.5h11M149 268.5h1M414 268.5h12M149 269.5h1M415 269.5h11M149 270.5h2M416 270.5h10M150 271.5h1M417 271.5h10M150 272.5h1M416 272.5h11M150 273.5h1M415 273.5h12M150 274.5h1M414 274.5h11M150 275.5h1M412 275.5h11M150 276.5h1M411 276.5h11M150 277.5h1M410 277.5h11M150 278.5h1M409 278.5h10M150 279.5h2M408 279.5h10M151 280.5h1M407 280.5h10M151 281.5h1M406 281.5h10M151 282.5h1M405 282.5h10M151 283.5h1M404 283.5h10M151 284.5h1M403 284.5h10M151 285.5h1M402 285.5h10M151 286.5h1M401 286.5h10M151 287.5h2M400 287.5h9M151 288.5h2M399 288.5h9M152 289.5h1M398 289.5h9M152 290.5h1M397 290.5h9M152 291.5h1M396 291.5h9M152 292.5h1M394 292.5h10M152 293.5h1M393 293.5h10M152 294.5h1M392 294.5h10M152 295.5h1M391 295.5h10M152 296.5h2M390 296.5h9M153 297.5h1M389 297.5h9M153 298.5h1M388 298.5h9M153 299.5h1M387 299.5h9M153 300.5h1M386 300.5h9M153 301.5h1M384 301.5h10M153 302.5h1M383 302.5h9M153 303.5h1M382 303.5h9M153 304.5h2M381 304.5h9M154 305.5h1M380 305.5h9M154 306.5h1M379 306.5h9M154 307.5h1M378 307.5h9M154 308.5h1M376 308.5h9M154 309.5h1M375 309.5h9M154 310.5h2M374 310.5h9M154 311.5h2M373 311.5h9M154 312.5h2M371 312.5h9M155 313.5h1M370 313.5h9M155 314.5h1M369 314.5h9M155 315.5h1M368 315.5h8M155 316.5h1M367 316.5h8M155 317.5h2M365 317.5h9M155 318.5h2M363 318.5h10M155 319.5h2M362 319.5h9M155 320.5h2M360 320.5h10M156 321.5h1M358 321.5h11M156 322.5h1M356 322.5h11M156 323.5h1M355 323.5h10M156 324.5h2M353 324.5h11M156 325.5h2M351 325.5h11M156 326.5h2M349 326.5h12M156 327.5h2M347 327.5h12M156 328.5h2M345 328.5h12M157 329.5h1M344 329.5h11M157 330.5h1M342 330.5h11M157 331.5h2M340 331.5h11M157 332.5h2M338 332.5h11M157 333.5h2M336 333.5h11M157 334.5h2M335 334.5h10M157 335.5h2M333 335.5h10M157 336.5h2M331 336.5h10M158 337.5h2M328 337.5h11M158 338.5h2M324 338.5h13M158 339.5h2M320 339.5h15M158 340.5h2M317 340.5h16M158 341.5h2M313 341.5h17M158 342.5h2M309 342.5h18M158 343.5h2M305 343.5h19M158 344.5h3M301 344.5h19M159 345.5h2M298 345.5h18M159 346.5h2M294 346.5h18M159 347.5h2M290 347.5h18M159 348.5h2M286 348.5h18M159 349.5h2M283 349.5h17M159 350.5h2M279 350.5h17M159 351.5h3M275 351.5h18M159 352.5h3M271 352.5h18M159 353.5h3M267 353.5h18M160 354.5h2M264 354.5h17M160 355.5h2M261 355.5h16M160 356.5h2M257 356.5h16M160 357.5h2M254 357.5h15M160 358.5h3M251 358.5h16M160 359.5h3M248 359.5h18M160 360.5h3M242 360.5h22M160 361.5h3M237 361.5h26M161 362.5h2M232 362.5h28M161 363.5h3M228 363.5h31M161 364.5h3M223 364.5h35M161 365.5h3M220 365.5h36M161 366.5h3M216 366.5h19M236 366.5h17M161 367.5h3M213 367.5h18M237 367.5h10M161 368.5h3M210 368.5h16M238 368.5h2M162 369.5h3M208 369.5h18M162 370.5h3M204 370.5h22M162 371.5h3M202 371.5h23M162 372.5h3M199 372.5h25M162 373.5h3M194 373.5h29M162 374.5h12M186 374.5h37M162 375.5h13M178 375.5h44M162 376.5h59M162 377.5h58M163 378.5h57M163 379.5h56M164 380.5h55M165 381.5h53M165 382.5h52M166 383.5h50M167 384.5h46M168 385.5h42M169 386.5h38M170 387.5h34M171 388.5h30M173 389.5h25M174 390.5h22M175 391.5h18M176 392.5h14M177 393.5h10M178 394.5h6M184 448.5h4M181 449.5h8M178 450.5h11M176 451.5h14M177 452.5h14M178 453.5h13M178 454.5h14M179 455.5h13M179 456.5h14M180 457.5h13M181 458.5h13M181 459.5h14M182 460.5h13M183 461.5h13M183 462.5h13M184 463.5h13M185 464.5h12M183 465.5h15M181 466.5h17M179 467.5h20M178 468.5h22M178 469.5h22M179 470.5h22M179 471.5h22M179 472.5h23M179 473.5h24M180 474.5h23M180 475.5h23M180 476.5h24M181 477.5h23M181 478.5h23M337 478.5h4M181 479.5h24M331 479.5h11M495 479.5h4M181 480.5h24M326 480.5h18M491 480.5h14M182 481.5h24M320 481.5h25M485 481.5h25M182 482.5h24M314 482.5h33M480 482.5h35M182 483.5h24M309 483.5h39M475 483.5h41M182 484.5h25M303 484.5h47M470 484.5h46M183 485.5h24M297 485.5h54M465 485.5h50M183 486.5h24M291 486.5h62M460 486.5h55M183 487.5h25M285 487.5h70M454 487.5h40M503 487.5h11M183 488.5h25M279 488.5h99M443 488.5h47M508 488.5h6M184 489.5h25M273 489.5h123M431 489.5h55M512 489.5h1M184 490.5h30M267 490.5h215M184 491.5h36M261 491.5h217M184 492.5h42M255 492.5h220M185 493.5h46M249 493.5h222M185 494.5h53M243 494.5h224M185 495.5h278M185 496.5h274M186 497.5h163M356 497.5h6M369 497.5h84M186 498.5h157M381 498.5h62M186 499.5h151M394 499.5h40M186 500.5h146M407 500.5h17M187 501.5h139M187 502.5h133M187 503.5h127M187 504.5h122M188 505.5h115M188 506.5h110M188 507.5h107M189 508.5h103M189 509.5h101M189 510.5h98M189 511.5h95M190 512.5h91M190 513.5h88M190 514.5h86M190 515.5h83M191 516.5h79M191 517.5h76M191 518.5h73M191 519.5h71M192 520.5h67M192 521.5h64M192 522.5h61M192 523.5h58M193 524.5h55M193 525.5h52M193 526.5h49M193 527.5h46M194 528.5h30M194 529.5h29M194 530.5h28M194 531.5h28M195 532.5h26M195 533.5h26M195 534.5h25M195 535.5h25M196 536.5h24M196 537.5h24M196 538.5h24M197 539.5h22M197 540.5h22M197 541.5h22M197 542.5h21M198 543.5h17M198 544.5h15M198 545.5h12M198 546.5h8M199 547.5h4M199 548.5h1"/>
<path stroke="#bc91c1" d="M134 128.5h1M134 129.5h5M134 130.5h9M138 131.5h9M143 132.5h8M147 133.5h7M152 134.5h6M156 135.5h6M160 136.5h6M165 137.5h4M169 138.5h4M172 139.5h5M176 140.5h5M179 141.5h6M182 142.5h6M186 143.5h6M189 144.5h7M193 145.5h8M197 146.5h13M203 147.5h14M209 148.5h17M216 149.5h18M301 149.5h112M222 150.5h21M284 150.5h149M137 151.5h2M228 151.5h113M397 151.5h55M137 152.5h3M235 152.5h66M422 152.5h49M137 153.5h4M242 153.5h46M439 153.5h52M138 154.5h4M455 154.5h55M138 155.5h5M471 155.5h58M138 156.5h5M487 156.5h58M138 157.5h6M504 157.5h56M138 158.5h7M520 158.5h56M138 159.5h8M536 159.5h60M138 160.5h9M552 160.5h65M138 161.5h10M568 161.5h119M138 162.5h11M585 162.5h196M139 163.5h11M607 163.5h191M139 164.5h12M617 164.5h195M139 165.5h13M738 165.5h87M139 166.5h15M786 166.5h51M139 167.5h17M798 167.5h48M139 168.5h20M810 168.5h44M139 169.5h10M150 169.5h11M822 169.5h41M139 170.5h8M152 170.5h11M834 170.5h38M139 171.5h6M154 171.5h11M843 171.5h35M140 172.5h3M156 172.5h12M851 172.5h30M140 173.5h1M157 173.5h14M854 173.5h30M140 174.5h1M159 174.5h14M855 174.5h31M140 175.5h1M161 175.5h15M864 175.5h25M140 176.5h1M163 176.5h16M874 176.5h18M906 176.5h21M140 177.5h1M165 177.5h16M878 177.5h49M140 178.5h1M167 178.5h16M881 178.5h46M140 179.5h1M169 179.5h17M214 179.5h28M884 179.5h43M140 180.5h1M171 180.5h77M887 180.5h40M141 181.5h1M172 181.5h82M889 181.5h38M141 182.5h1M174 182.5h86M892 182.5h15M141 183.5h1M177 183.5h89M141 184.5h1M180 184.5h92M141 185.5h1M183 185.5h95M141 186.5h1M190 186.5h32M230 186.5h55M141 187.5h1M242 187.5h49M141 188.5h1M249 188.5h48M141 189.5h1M256 189.5h44M141 190.5h1M262 190.5h42M269 191.5h39M142 192.5h1M274 192.5h38M142 193.5h1M280 193.5h35M142 194.5h1M286 194.5h33M142 195.5h1M291 195.5h32M142 196.5h1M296 196.5h31M142 197.5h1M300 197.5h30M142 198.5h1M304 198.5h28M142 199.5h1M307 199.5h27M142 200.5h1M311 200.5h25M315 201.5h23M319 202.5h21M143 203.5h1M323 203.5h19M143 204.5h1M326 204.5h18M143 205.5h1M329 205.5h17M143 206.5h1M331 206.5h16M143 207.5h1M334 207.5h15M143 208.5h1M336 208.5h15M143 209.5h1M338 209.5h15M340 210.5h15M341 211.5h16M144 212.5h1M343 212.5h16M144 213.5h1M345 213.5h16M144 214.5h1M347 214.5h15M144 215.5h1M349 215.5h15M144 216.5h1M351 216.5h15M144 217.5h1M352 217.5h15M354 218.5h14M356 219.5h13M358 220.5h12M145 221.5h1M360 221.5h12M145 222.5h1M361 222.5h12M145 223.5h1M363 223.5h11M145 224.5h1M364 224.5h11M145 225.5h1M365 225.5h11M145 226.5h1M366 226.5h11M368 227.5h10M369 228.5h10M370 229.5h10M146 230.5h1M371 230.5h10M146 231.5h1M372 231.5h10M146 232.5h1M374 232.5h9M146 233.5h1M375 233.5h9M146 234.5h1M376 234.5h10M146 235.5h1M377 235.5h9M378 236.5h9M379 237.5h9M380 238.5h9M147 239.5h1M381 239.5h9M147 240.5h1M382 240.5h9M147 241.5h1M383 241.5h9M147 242.5h1M383 242.5h10M147 243.5h1M384 243.5h10M385 244.5h9M386 245.5h9M387 246.5h9M148 247.5h1M388 247.5h9M148 248.5h1M389 248.5h9M148 249.5h1M390 249.5h9M148 250.5h1M391 250.5h9M148 251.5h1M391 251.5h10M148 252.5h1M392 252.5h10M393 253.5h10M394 254.5h9M395 255.5h9M149 256.5h1M396 256.5h9M149 257.5h1M397 257.5h9M149 258.5h1M398 258.5h9M149 259.5h1M399 259.5h9M149 260.5h1M399 260.5h10M400 261.5h10M401 262.5h10M402 263.5h9M403 264.5h9M150 265.5h1M404 265.5h9M150 266.5h1M404 266.5h9M150 267.5h1M405 267.5h9M150 268.5h1M406 268.5h8M150 269.5h1M407 269.5h8M408 270.5h8M408 271.5h9M407 272.5h9M151 273.5h1M406 273.5h9M151 274.5h1M405 274.5h9M151 275.5h1M404 275.5h8M151 276.5h1M403 276.5h8M151 277.5h1M402 277.5h8M151 278.5h1M401 278.5h8M400 279.5h8M399 280.5h8M398 281.5h8M152 282.5h1M397 282.5h8M152 283.5h1M396 283.5h8M152 284.5h1M395 284.5h8M152 285.5h1M394 285.5h8M152 286.5h1M393 286.5h8M392 287.5h8M391 288.5h8M390 289.5h8M389 290.5h8M153 291.5h1M388 291.5h8M153 292.5h1M387 292.5h7M153 293.5h1M385 293.5h8M153 294.5h1M384 294.5h8M153 295.5h1M383 295.5h8M382 296.5h8M381 297.5h8M380 298.5h8M154 299.5h1M379 299.5h8M154 300.5h1M378 300.5h8M154 301.5h1M377 301.5h7M154 302.5h1M376 302.5h7M154 303.5h1M374 303.5h8M373 304.5h8M372 305.5h8M155 306.5h1M371 306.5h8M155 307.5h1M370 307.5h8M155 308.5h1M368 308.5h8M155 309.5h1M367 309.5h8M366 310.5h8M365 311.5h8M156 312.5h1M364 312.5h7M156 313.5h1M362 313.5h8M156 314.5h1M361 314.5h8M156 315.5h1M359 315.5h9M156 316.5h1M357 316.5h10M355 317.5h10M157 318.5h1M354 318.5h9M157 319.5h1M352 319.5h10M157 320.5h1M350 320.5h10M157 321.5h1M348 321.5h10M157 322.5h1M347 322.5h9M157 323.5h1M345 323.5h10M343 324.5h10M158 325.5h1M341 325.5h10M158 326.5h1M339 326.5h10M158 327.5h1M337 327.5h10M158 328.5h1M335 328.5h10M158 329.5h1M334 329.5h10M158 330.5h1M332 330.5h10M159 331.5h1M330 331.5h10M159 332.5h1M327 332.5h11M159 333.5h1M324 333.5h12M159 334.5h1M321 334.5h14M159 335.5h1M318 335.5h15M159 336.5h1M314 336.5h17M311 337.5h17M160 338.5h1M308 338.5h16M160 339.5h1M304 339.5h16M160 340.5h1M300 340.5h17M160 341.5h1M297 341.5h16M160 342.5h1M293 342.5h16M160 343.5h1M289 343.5h16M161 344.5h1M286 344.5h15M161 345.5h1M282 345.5h16M161 346.5h1M278 346.5h16M161 347.5h1M274 347.5h16M161 348.5h1M271 348.5h15M161 349.5h1M267 349.5h16M161 350.5h2M263 350.5h16M162 351.5h1M259 351.5h16M162 352.5h1M255 352.5h16M162 353.5h1M251 353.5h16M162 354.5h1M247 354.5h17M162 355.5h1M243 355.5h18M162 356.5h2M239 356.5h18M162 357.5h2M235 357.5h19M163 358.5h1M231 358.5h20M163 359.5h1M226 359.5h22M163 360.5h2M222 360.5h20M163 361.5h2M217 361.5h20M163 362.5h3M213 362.5h19M164 363.5h2M208 363.5h20M164 364.5h4M204 364.5h19M164 365.5h5M198 365.5h22M164 366.5h6M189 366.5h27M164 367.5h8M180 367.5h33M164 368.5h46M165 369.5h43M165 370.5h39M165 371.5h37M165 372.5h34M165 373.5h29M174 374.5h12M175 375.5h3M494 487.5h9M490 488.5h18M486 489.5h26M482 490.5h31M478 491.5h34M475 492.5h37M471 493.5h40M467 494.5h44M463 495.5h47M459 496.5h30M493 496.5h17M349 497.5h7M362 497.5h7M453 497.5h33M495 497.5h14M343 498.5h38M443 498.5h40M337 499.5h57M434 499.5h46M332 500.5h75M424 500.5h53M326 501.5h148M320 502.5h151M314 503.5h154M309 504.5h156M303 505.5h159M298 506.5h161M295 507.5h67M369 507.5h83M292 508.5h65M380 508.5h64M290 509.5h62M391 509.5h46M287 510.5h60M402 510.5h27M284 511.5h58M413 511.5h8M281 512.5h56M278 513.5h54M276 514.5h51M273 515.5h49M270 516.5h47M267 517.5h45M264 518.5h43M262 519.5h41M259 520.5h41M256 521.5h42M253 522.5h42M250 523.5h43M248 524.5h42M245 525.5h43M242 526.5h46M239 527.5h48M224 528.5h63M223 529.5h63M222 530.5h64M222 531.5h63M221 532.5h64M221 533.5h64M220 534.5h64M220 535.5h64M220 536.5h63M220 537.5h63M220 538.5h63M219 539.5h63M219 540.5h63M219 541.5h62M218 542.5h63M215 543.5h65M213 544.5h67M210 545.5h69M206 546.5h71M203 547.5h73M200 548.5h75M199 549.5h75M199 550.5h74M200 551.5h72M200 552.5h71M200 553.5h70M201 554.5h68M205 555.5h63M208 556.5h59M212 557.5h55M215 558.5h51M219 559.5h46M222 560.5h43M226 561.5h38M229 562.5h34M233 563.5h29M236 564.5h26M240 565.5h21M244 566.5h17M249 567.5h11M253 568.5h7M258 569.5h2"/>
<path stroke="#b098c9" d="M134 127.5h2M135 128.5h4M139 129.5h4M143 130.5h4M147 131.5h3M151 132.5h3M154 133.5h4M158 134.5h4M162 135.5h3M166 136.5h3M169 137.5h4M173 138.5h3M177 139.5h3M181 140.5h3M185 141.5h2M188 142.5h3M192 143.5h3M196 144.5h3M201 145.5h12M210 146.5h16M217 147.5h23M293 147.5h118M226 148.5h212M234 149.5h67M413 149.5h51M243 150.5h41M433 150.5h58M452 151.5h65M471 152.5h67M491 153.5h62M510 154.5h58M529 155.5h56M545 156.5h61M560 157.5h80M576 158.5h125M596 159.5h197M617 160.5h195M687 161.5h139M781 162.5h57M798 163.5h48M812 164.5h43M825 165.5h39M837 166.5h36M846 167.5h33M854 168.5h29M149 169.5h1M863 169.5h23M147 170.5h5M872 170.5h18M916 170.5h11M145 171.5h9M878 171.5h49M143 172.5h13M881 172.5h46M141 173.5h5M148 173.5h9M884 173.5h43M141 174.5h3M149 174.5h10M886 174.5h41M141 175.5h1M151 175.5h10M889 175.5h38M141 176.5h1M152 176.5h11M892 176.5h14M141 177.5h1M154 177.5h11M141 178.5h1M155 178.5h12M141 179.5h1M157 179.5h12M141 180.5h1M158 180.5h13M160 181.5h12M142 182.5h1M161 182.5h13M142 183.5h1M162 183.5h15M142 184.5h1M164 184.5h16M142 185.5h1M165 185.5h18M142 186.5h1M167 186.5h23M222 186.5h8M142 187.5h1M168 187.5h74M142 188.5h1M170 188.5h79M142 189.5h1M172 189.5h84M142 190.5h1M175 190.5h87M142 191.5h1M179 191.5h90M183 192.5h91M195 193.5h85M143 194.5h1M211 194.5h75M143 195.5h1M236 195.5h55M143 196.5h1M245 196.5h51M143 197.5h1M253 197.5h47M143 198.5h1M260 198.5h44M143 199.5h1M268 199.5h39M143 200.5h1M273 200.5h38M143 201.5h1M278 201.5h37M143 202.5h1M284 202.5h35M289 203.5h34M294 204.5h32M298 205.5h31M144 206.5h1M302 206.5h29M144 207.5h1M306 207.5h28M144 208.5h1M311 208.5h25M144 209.5h1M315 209.5h23M144 210.5h1M319 210.5h21M144 211.5h1M323 211.5h18M327 212.5h16M330 213.5h15M333 214.5h14M335 215.5h14M336 216.5h15M145 217.5h1M338 217.5h14M145 218.5h1M340 218.5h14M145 219.5h1M342 219.5h14M145 220.5h1M344 220.5h14M345 221.5h15M347 222.5h14M349 223.5h14M351 224.5h13M352 225.5h13M146 226.5h1M354 226.5h12M146 227.5h1M356 227.5h12M146 228.5h1M358 228.5h11M146 229.5h1M359 229.5h11M361 230.5h10M362 231.5h10M363 232.5h11M365 233.5h10M147 234.5h1M366 234.5h10M147 235.5h1M367 235.5h10M147 236.5h1M369 236.5h9M147 237.5h1M370 237.5h9M147 238.5h1M371 238.5h9M372 239.5h9M373 240.5h9M374 241.5h9M375 242.5h8M148 243.5h1M376 243.5h8M148 244.5h1M377 244.5h8M148 245.5h1M378 245.5h8M148 246.5h1M379 246.5h8M380 247.5h8M380 248.5h9M381 249.5h9M382 250.5h9M383 251.5h8M149 252.5h1M384 252.5h8M149 253.5h1M385 253.5h8M149 254.5h1M386 254.5h8M149 255.5h1M387 255.5h8M388 256.5h8M389 257.5h8M389 258.5h9M390 259.5h9M150 260.5h1M391 260.5h8M150 261.5h1M392 261.5h8M150 262.5h1M393 262.5h8M150 263.5h1M394 263.5h8M150 264.5h1M395 264.5h8M396 265.5h8M396 266.5h8M397 267.5h8M398 268.5h8M151 269.5h1M399 269.5h8M151 270.5h1M400 270.5h8M151 271.5h1M400 271.5h8M151 272.5h1M399 272.5h8M398 273.5h8M397 274.5h8M396 275.5h8M395 276.5h8M394 277.5h8M152 278.5h1M393 278.5h8M152 279.5h1M392 279.5h8M152 280.5h1M391 280.5h8M152 281.5h1M390 281.5h8M389 282.5h8M388 283.5h8M387 284.5h8M386 285.5h8M153 286.5h1M385 286.5h8M153 287.5h1M384 287.5h8M153 288.5h1M383 288.5h8M153 289.5h1M382 289.5h8M153 290.5h1M381 290.5h8M380 291.5h8M379 292.5h8M378 293.5h7M377 294.5h7M154 295.5h1M376 295.5h7M154 296.5h1M375 296.5h7M154 297.5h1M374 297.5h7M154 298.5h1M373 298.5h7M372 299.5h7M370 300.5h8M369 301.5h8M155 302.5h1M368 302.5h8M155 303.5h1M367 303.5h7M155 304.5h1M366 304.5h7M155 305.5h1M364 305.5h8M363 306.5h8M362 307.5h8M361 308.5h7M156 309.5h1M360 309.5h7M156 310.5h1M358 310.5h8M156 311.5h1M356 311.5h9M355 312.5h9M353 313.5h9M351 314.5h10M157 315.5h1M350 315.5h9M157 316.5h1M348 316.5h9M157 317.5h1M346 317.5h9M345 318.5h9M343 319.5h9M341 320.5h9M158 321.5h1M339 321.5h9M158 322.5h1M337 322.5h10M158 323.5h1M334 323.5h11M158 324.5h1M332 324.5h11M330 325.5h11M328 326.5h11M159 327.5h1M326 327.5h11M159 328.5h1M323 328.5h12M159 329.5h1M321 329.5h13M159 330.5h1M318 330.5h14M315 331.5h15M312 332.5h15M160 333.5h1M310 333.5h14M160 334.5h1M307 334.5h14M160 335.5h1M304 335.5h14M160 336.5h1M300 336.5h14M160 337.5h1M296 337.5h15M293 338.5h15M161 339.5h1M289 339.5h15M161 340.5h1M285 340.5h15M161 341.5h1M281 341.5h16M161 342.5h1M278 342.5h15M161 343.5h1M274 343.5h15M270 344.5h16M162 345.5h1M266 345.5h16M162 346.5h1M262 346.5h16M162 347.5h1M258 347.5h16M162 348.5h1M254 348.5h17M162 349.5h1M250 349.5h17M246 350.5h17M163 351.5h1M242 351.5h17M163 352.5h1M238 352.5h17M163 353.5h1M234 353.5h17M163 354.5h1M229 354.5h18M163 355.5h1M225 355.5h18M164 356.5h1M220 356.5h19M164 357.5h1M216 357.5h19M164 358.5h2M212 358.5h19M164 359.5h3M207 359.5h19M165 360.5h4M203 360.5h19M165 361.5h5M194 361.5h23M166 362.5h5M182 362.5h31M166 363.5h42M168 364.5h36M169 365.5h29M170 366.5h19M172 367.5h8M489 496.5h4M486 497.5h9M483 498.5h25M480 499.5h28M477 500.5h30M474 501.5h33M471 502.5h35M468 503.5h24M494 503.5h11M465 504.5h25M496 504.5h9M462 505.5h25M498 505.5h6M459 506.5h25M500 506.5h4M362 507.5h7M452 507.5h30M502 507.5h1M357 508.5h23M444 508.5h36M352 509.5h39M437 509.5h40M347 510.5h55M429 510.5h45M342 511.5h71M421 511.5h51M337 512.5h132M332 513.5h135M327 514.5h137M322 515.5h140M317 516.5h140M312 517.5h50M368 517.5h84M307 518.5h51M378 518.5h67M303 519.5h51M388 519.5h52M300 520.5h50M399 520.5h35M298 521.5h47M409 521.5h19M295 522.5h46M293 523.5h44M290 524.5h43M288 525.5h41M288 526.5h37M287 527.5h33M287 528.5h29M286 529.5h25M286 530.5h22M285 531.5h20M285 532.5h18M285 533.5h15M284 534.5h16M284 535.5h16M283 536.5h16M283 537.5h16M283 538.5h15M282 539.5h16M282 540.5h16M281 541.5h16M281 542.5h16M280 543.5h16M280 544.5h16M279 545.5h17M277 546.5h18M276 547.5h19M275 548.5h19M274 549.5h20M273 550.5h20M272 551.5h21M271 552.5h22M270 553.5h22M269 554.5h23M268 555.5h23M267 556.5h24M267 557.5h24M266 558.5h24M265 559.5h25M265 560.5h24M264 561.5h25M263 562.5h25M262 563.5h26M262 564.5h26M261 565.5h26M261 566.5h26M260 567.5h26M260 568.5h26M260 569.5h26M262 570.5h23M267 571.5h18M271 572.5h13M276 573.5h8M281 574.5h3"/>
<path stroke="#a296d3" d="M134 126.5h2M136 127.5h4M139 128.5h4M143 129.5h4M147 130.5h3M150 131.5h4M154 132.5h4M158 133.5h3M162 134.5h3M165 135.5h4M169 136.5h3M173 137.5h3M176 138.5h3M180 139.5h3M184 140.5h3M187 141.5h3M191 142.5h3M195 143.5h2M199 144.5h29M213 145.5h193M226 146.5h223M240 147.5h53M411 147.5h80M438 148.5h93M464 149.5h82M491 150.5h70M517 151.5h59M538 152.5h57M553 153.5h62M568 154.5h91M585 155.5h124M606 156.5h206M640 157.5h187M701 158.5h138M793 159.5h54M812 160.5h44M826 161.5h39M838 162.5h36M846 163.5h34M855 164.5h30M923 164.5h4M864 165.5h26M904 165.5h23M873 166.5h54M879 167.5h48M883 168.5h44M886 169.5h41M890 170.5h26M146 173.5h2M144 174.5h5M142 175.5h9M142 176.5h2M145 176.5h7M142 177.5h1M146 177.5h8M142 178.5h1M147 178.5h8M142 179.5h1M148 179.5h9M142 180.5h1M149 180.5h9M142 181.5h1M150 181.5h10M151 182.5h10M143 183.5h1M153 183.5h9M143 184.5h1M154 184.5h10M143 185.5h1M155 185.5h10M143 186.5h1M156 186.5h11M143 187.5h1M157 187.5h11M143 188.5h1M158 188.5h12M143 189.5h1M159 189.5h13M143 190.5h1M160 190.5h15M143 191.5h1M162 191.5h17M143 192.5h1M163 192.5h20M143 193.5h1M164 193.5h31M165 194.5h46M167 195.5h69M169 196.5h76M144 197.5h1M173 197.5h80M144 198.5h1M179 198.5h81M144 199.5h1M187 199.5h81M144 200.5h1M196 200.5h77M144 201.5h1M206 201.5h72M144 202.5h1M217 202.5h67M144 203.5h1M228 203.5h61M144 204.5h1M239 204.5h55M144 205.5h1M249 205.5h49M258 206.5h44M267 207.5h39M272 208.5h39M277 209.5h38M282 210.5h37M145 211.5h1M287 211.5h36M145 212.5h1M292 212.5h35M145 213.5h1M296 213.5h34M145 214.5h1M301 214.5h32M145 215.5h1M306 215.5h29M145 216.5h1M310 216.5h26M315 217.5h23M320 218.5h20M324 219.5h18M328 220.5h16M146 221.5h1M332 221.5h13M146 222.5h1M333 222.5h14M146 223.5h1M335 223.5h14M146 224.5h1M337 224.5h14M146 225.5h1M338 225.5h14M340 226.5h14M342 227.5h14M344 228.5h14M345 229.5h14M147 230.5h1M347 230.5h14M147 231.5h1M349 231.5h13M147 232.5h1M351 232.5h12M147 233.5h1M352 233.5h13M354 234.5h12M356 235.5h11M357 236.5h12M359 237.5h11M148 238.5h1M360 238.5h11M148 239.5h1M362 239.5h10M148 240.5h1M364 240.5h9M148 241.5h1M365 241.5h9M148 242.5h1M367 242.5h8M368 243.5h8M369 244.5h8M369 245.5h9M370 246.5h9M149 247.5h1M371 247.5h9M149 248.5h1M372 248.5h8M149 249.5h1M373 249.5h8M149 250.5h1M374 250.5h8M149 251.5h1M375 251.5h8M376 252.5h8M377 253.5h8M378 254.5h8M378 255.5h9M150 256.5h1M379 256.5h9M150 257.5h1M380 257.5h9M150 258.5h1M381 258.5h8M150 259.5h1M382 259.5h8M383 260.5h8M384 261.5h8M385 262.5h8M386 263.5h8M151 264.5h1M387 264.5h8M151 265.5h1M387 265.5h9M151 266.5h1M388 266.5h8M151 267.5h1M389 267.5h8M151 268.5h1M390 268.5h8M391 269.5h8M392 270.5h8M393 271.5h7M392 272.5h7M152 273.5h1M391 273.5h7M152 274.5h1M390 274.5h7M152 275.5h1M389 275.5h7M152 276.5h1M388 276.5h7M152 277.5h1M387 277.5h7M386 278.5h7M385 279.5h7M384 280.5h7M383 281.5h7M153 282.5h1M382 282.5h7M153 283.5h1M381 283.5h7M153 284.5h1M380 284.5h7M153 285.5h1M379 285.5h7M378 286.5h7M377 287.5h7M376 288.5h7M375 289.5h7M154 290.5h1M374 290.5h7M154 291.5h1M373 291.5h7M154 292.5h1M372 292.5h7M154 293.5h1M371 293.5h7M154 294.5h1M370 294.5h7M369 295.5h7M367 296.5h8M366 297.5h8M365 298.5h8M155 299.5h1M364 299.5h8M155 300.5h1M363 300.5h7M155 301.5h1M362 301.5h7M360 302.5h8M359 303.5h8M358 304.5h8M156 305.5h1M357 305.5h7M156 306.5h1M356 306.5h7M156 307.5h1M354 307.5h8M156 308.5h1M352 308.5h9M351 309.5h9M349 310.5h9M157 311.5h1M347 311.5h9M157 312.5h1M346 312.5h9M157 313.5h1M344 313.5h9M157 314.5h1M342 314.5h9M340 315.5h10M338 316.5h10M158 317.5h1M336 317.5h10M158 318.5h1M334 318.5h11M158 319.5h1M332 319.5h11M158 320.5h1M329 320.5h12M327 321.5h12M325 322.5h12M159 323.5h1M323 323.5h11M159 324.5h1M320 324.5h12M159 325.5h1M318 325.5h12M159 326.5h1M315 326.5h13M313 327.5h13M311 328.5h12M160 329.5h1M308 329.5h13M160 330.5h1M306 330.5h12M160 331.5h1M303 331.5h12M160 332.5h1M299 332.5h13M296 333.5h14M161 334.5h1M292 334.5h15M161 335.5h1M288 335.5h16M161 336.5h1M285 336.5h15M161 337.5h1M281 337.5h15M161 338.5h1M277 338.5h16M274 339.5h15M162 340.5h1M270 340.5h15M162 341.5h1M266 341.5h15M162 342.5h1M262 342.5h16M162 343.5h1M258 343.5h16M162 344.5h1M254 344.5h16M249 345.5h17M163 346.5h1M245 346.5h17M163 347.5h1M241 347.5h17M163 348.5h1M237 348.5h17M163 349.5h1M232 349.5h18M163 350.5h1M228 350.5h18M224 351.5h18M164 352.5h1M219 352.5h19M164 353.5h1M215 353.5h19M164 354.5h1M211 354.5h18M164 355.5h1M206 355.5h19M165 356.5h1M201 356.5h19M165 357.5h5M186 357.5h30M166 358.5h46M167 359.5h40M169 360.5h34M170 361.5h24M171 362.5h11M492 503.5h2M490 504.5h6M487 505.5h11M484 506.5h16M482 507.5h20M480 508.5h22M477 509.5h25M474 510.5h27M472 511.5h21M497 511.5h4M469 512.5h22M498 512.5h2M467 513.5h21M498 513.5h2M464 514.5h22M498 514.5h1M462 515.5h22M457 516.5h25M362 517.5h6M452 517.5h28M358 518.5h20M445 518.5h33M354 519.5h34M440 519.5h36M350 520.5h49M434 520.5h40M345 521.5h64M428 521.5h43M341 522.5h128M337 523.5h130M333 524.5h132M329 525.5h133M325 526.5h132M320 527.5h43M367 527.5h85M316 528.5h44M376 528.5h71M311 529.5h45M386 529.5h56M308 530.5h44M395 530.5h42M305 531.5h44M405 531.5h27M303 532.5h42M414 532.5h13M300 533.5h42M300 534.5h38M300 535.5h34M299 536.5h32M299 537.5h28M298 538.5h25M298 539.5h22M298 540.5h18M297 541.5h16M297 542.5h16M296 543.5h16M296 544.5h16M296 545.5h16M295 546.5h16M295 547.5h16M294 548.5h16M294 549.5h16M293 550.5h16M293 551.5h16M293 552.5h16M292 553.5h16M292 554.5h16M291 555.5h17M291 556.5h17M291 557.5h17M290 558.5h18M290 559.5h18M289 560.5h19M289 561.5h19M288 562.5h20M288 563.5h20M288 564.5h20M287 565.5h21M287 566.5h21M286 567.5h22M286 568.5h22M286 569.5h22M285 570.5h23M285 571.5h23M284 572.5h24M284 573.5h24M284 574.5h24M285 575.5h23M290 576.5h18M294 577.5h14M299 578.5h9M303 579.5h5"/>
<path stroke="#8f8cdc" d="M134 125.5h2M136 126.5h3M140 127.5h3M143 128.5h4M147 129.5h3M150 130.5h4M154 131.5h3M158 132.5h3M161 133.5h4M165 134.5h3M169 135.5h3M172 136.5h3M176 137.5h3M179 138.5h4M183 139.5h3M187 140.5h3M190 141.5h3M194 142.5h3M197 143.5h103M351 143.5h17M228 144.5h196M406 145.5h74M449 146.5h83M491 147.5h59M531 148.5h38M546 149.5h47M561 150.5h60M576 151.5h95M595 152.5h126M752 152.5h57M615 153.5h209M659 154.5h178M709 155.5h138M812 156.5h45M827 157.5h39M839 158.5h37M847 159.5h34M921 159.5h6M856 160.5h31M906 160.5h21M865 161.5h62M874 162.5h53M880 163.5h47M885 164.5h38M890 165.5h14M144 176.5h1M143 177.5h3M143 178.5h4M143 179.5h5M143 180.5h6M143 181.5h7M143 182.5h8M144 183.5h9M144 184.5h10M144 185.5h3M149 185.5h6M144 186.5h1M150 186.5h6M144 187.5h1M151 187.5h6M144 188.5h1M152 188.5h6M144 189.5h1M153 189.5h6M144 190.5h1M154 190.5h6M144 191.5h1M154 191.5h8M144 192.5h1M155 192.5h8M144 193.5h2M156 193.5h8M144 194.5h2M157 194.5h8M144 195.5h2M158 195.5h9M144 196.5h2M159 196.5h10M145 197.5h1M160 197.5h13M145 198.5h1M161 198.5h18M145 199.5h1M162 199.5h25M145 200.5h1M163 200.5h33M145 201.5h1M164 201.5h42M145 202.5h1M166 202.5h51M145 203.5h1M168 203.5h60M145 204.5h1M173 204.5h66M145 205.5h1M180 205.5h69M145 206.5h1M187 206.5h71M145 207.5h1M194 207.5h73M145 208.5h1M206 208.5h66M145 209.5h1M219 209.5h58M145 210.5h1M234 210.5h48M146 211.5h1M243 211.5h44M146 212.5h1M252 212.5h40M146 213.5h1M260 213.5h36M146 214.5h1M267 214.5h34M146 215.5h1M272 215.5h34M146 216.5h1M277 216.5h33M146 217.5h1M283 217.5h32M146 218.5h1M287 218.5h33M146 219.5h1M292 219.5h32M146 220.5h1M296 220.5h32M301 221.5h31M305 222.5h28M147 223.5h1M310 223.5h25M147 224.5h1M314 224.5h23M147 225.5h1M319 225.5h19M147 226.5h1M323 226.5h17M147 227.5h1M328 227.5h14M147 228.5h1M330 228.5h14M147 229.5h1M332 229.5h13M334 230.5h13M336 231.5h13M148 232.5h1M337 232.5h14M148 233.5h1M339 233.5h13M148 234.5h1M341 234.5h13M148 235.5h1M342 235.5h14M148 236.5h1M344 236.5h13M148 237.5h1M346 237.5h13M347 238.5h13M349 239.5h13M351 240.5h13M149 241.5h1M352 241.5h13M149 242.5h1M354 242.5h13M149 243.5h1M355 243.5h13M149 244.5h1M357 244.5h12M149 245.5h1M359 245.5h10M149 246.5h1M360 246.5h10M362 247.5h9M363 248.5h9M150 249.5h1M364 249.5h9M150 250.5h1M365 250.5h9M150 251.5h1M367 251.5h8M150 252.5h1M368 252.5h8M150 253.5h1M369 253.5h8M150 254.5h1M370 254.5h8M150 255.5h1M371 255.5h7M371 256.5h8M372 257.5h8M151 258.5h1M373 258.5h8M151 259.5h1M374 259.5h8M151 260.5h1M375 260.5h8M151 261.5h1M376 261.5h8M151 262.5h1M377 262.5h8M151 263.5h1M378 263.5h8M379 264.5h8M380 265.5h7M381 266.5h7M152 267.5h1M382 267.5h7M152 268.5h1M382 268.5h8M152 269.5h1M383 269.5h8M152 270.5h1M384 270.5h8M152 271.5h1M385 271.5h8M152 272.5h1M385 272.5h7M384 273.5h7M383 274.5h7M153 275.5h1M382 275.5h7M153 276.5h1M381 276.5h7M153 277.5h1M380 277.5h7M153 278.5h1M379 278.5h7M153 279.5h1M378 279.5h7M153 280.5h1M377 280.5h7M153 281.5h1M376 281.5h7M375 282.5h7M374 283.5h7M154 284.5h1M373 284.5h7M154 285.5h1M372 285.5h7M154 286.5h1M371 286.5h7M154 287.5h1M370 287.5h7M154 288.5h1M369 288.5h7M154 289.5h1M368 289.5h7M367 290.5h7M366 291.5h7M365 292.5h7M155 293.5h1M364 293.5h7M155 294.5h1M363 294.5h7M155 295.5h1M361 295.5h8M155 296.5h1M360 296.5h7M155 297.5h1M359 297.5h7M155 298.5h1M358 298.5h7M356 299.5h8M355 300.5h8M156 301.5h1M354 301.5h8M156 302.5h1M353 302.5h7M156 303.5h1M351 303.5h8M156 304.5h1M350 304.5h8M348 305.5h9M157 306.5h1M347 306.5h9M157 307.5h1M345 307.5h9M157 308.5h1M344 308.5h8M157 309.5h1M342 309.5h9M157 310.5h1M340 310.5h9M338 311.5h9M158 312.5h1M336 312.5h10M158 313.5h1M334 313.5h10M158 314.5h1M332 314.5h10M158 315.5h1M329 315.5h11M158 316.5h1M327 316.5h11M159 317.5h1M325 317.5h11M159 318.5h1M322 318.5h12M159 319.5h1M320 319.5h12M159 320.5h1M317 320.5h12M159 321.5h1M315 321.5h12M159 322.5h2M313 322.5h12M160 323.5h1M310 323.5h13M160 324.5h1M308 324.5h12M160 325.5h1M306 325.5h12M160 326.5h1M303 326.5h12M160 327.5h1M300 327.5h13M160 328.5h2M297 328.5h14M161 329.5h1M293 329.5h15M161 330.5h1M290 330.5h16M161 331.5h1M286 331.5h17M161 332.5h1M283 332.5h16M161 333.5h2M279 333.5h17M162 334.5h1M275 334.5h17M162 335.5h1M272 335.5h16M162 336.5h1M268 336.5h17M162 337.5h1M265 337.5h16M162 338.5h1M261 338.5h16M162 339.5h2M256 339.5h18M163 340.5h1M252 340.5h18M163 341.5h1M247 341.5h19M163 342.5h1M243 342.5h19M163 343.5h1M238 343.5h20M163 344.5h2M234 344.5h20M163 345.5h2M229 345.5h20M164 346.5h1M225 346.5h20M164 347.5h1M220 347.5h21M164 348.5h1M216 348.5h21M164 349.5h1M211 349.5h21M164 350.5h2M207 350.5h21M164 351.5h3M202 351.5h22M165 352.5h3M188 352.5h31M165 353.5h4M170 353.5h45M165 354.5h46M165 355.5h41M166 356.5h35M170 357.5h16M493 511.5h4M491 512.5h7M488 513.5h10M486 514.5h12M484 515.5h14M482 516.5h16M480 517.5h17M478 518.5h19M476 519.5h20M474 520.5h21M471 521.5h24M469 522.5h25M467 523.5h27M465 524.5h28M462 525.5h31M457 526.5h35M363 527.5h4M452 527.5h39M360 528.5h16M447 528.5h44M356 529.5h30M442 529.5h48M352 530.5h43M437 530.5h53M349 531.5h56M432 531.5h57M345 532.5h69M427 532.5h61M342 533.5h146M338 534.5h149M334 535.5h153M331 536.5h155M327 537.5h36M369 537.5h116M323 538.5h37M378 538.5h107M320 539.5h36M387 539.5h97M316 540.5h37M396 540.5h88M313 541.5h37M405 541.5h45M456 541.5h27M313 542.5h33M414 542.5h25M458 542.5h25M312 543.5h31M422 543.5h4M459 543.5h23M312 544.5h29M460 544.5h21M312 545.5h28M462 545.5h19M311 546.5h28M463 546.5h17M311 547.5h27M465 547.5h15M310 548.5h27M466 548.5h13M310 549.5h26M468 549.5h10M309 550.5h27M469 550.5h9M309 551.5h26M471 551.5h6M309 552.5h25M472 552.5h5M308 553.5h25M473 553.5h3M308 554.5h25M475 554.5h1M308 555.5h24M308 556.5h23M308 557.5h22M308 558.5h22M308 559.5h22M308 560.5h22M308 561.5h22M308 562.5h22M308 563.5h22M308 564.5h22M308 565.5h22M308 566.5h22M308 567.5h22M308 568.5h22M308 569.5h22M308 570.5h22M308 571.5h22M308 572.5h22M308 573.5h22M308 574.5h22M308 575.5h22M308 576.5h22M308 577.5h22M308 578.5h22M308 579.5h22M308 580.5h22M312 581.5h18M317 582.5h13M321 583.5h9M324 584.5h6M328 585.5h2"/>
<path stroke="#7a79e4" d="M134 124.5h1M136 125.5h3M139 126.5h3M143 127.5h3M147 128.5h3M150 129.5h3M154 130.5h3M157 131.5h4M161 132.5h3M165 133.5h3M168 134.5h4M172 135.5h3M175 136.5h4M179 137.5h4M183 138.5h3M186 139.5h4M190 140.5h4M193 141.5h4M197 142.5h98M300 143.5h51M368 143.5h53M424 144.5h54M480 145.5h53M532 146.5h35M550 147.5h75M569 148.5h114M794 148.5h10M593 149.5h226M621 150.5h214M671 151.5h174M721 152.5h31M809 152.5h47M824 153.5h43M837 154.5h40M925 154.5h2M847 155.5h35M913 155.5h14M857 156.5h31M900 156.5h27M866 157.5h61M876 158.5h51M881 159.5h40M887 160.5h19M147 185.5h2M145 186.5h5M145 187.5h6M145 188.5h7M145 189.5h2M148 189.5h5M145 190.5h2M149 190.5h5M145 191.5h2M150 191.5h4M145 192.5h2M151 192.5h4M146 193.5h1M151 193.5h5M146 194.5h1M152 194.5h5M146 195.5h1M153 195.5h5M146 196.5h1M154 196.5h5M146 197.5h1M155 197.5h5M146 198.5h1M156 198.5h5M146 199.5h1M157 199.5h5M146 200.5h1M158 200.5h5M146 201.5h1M158 201.5h6M146 202.5h1M159 202.5h7M146 203.5h1M160 203.5h8M146 204.5h2M161 204.5h12M146 205.5h2M162 205.5h18M146 206.5h2M163 206.5h24M146 207.5h2M164 207.5h30M146 208.5h2M165 208.5h41M146 209.5h2M166 209.5h53M146 210.5h2M169 210.5h65M147 211.5h1M175 211.5h68M147 212.5h1M180 212.5h72M147 213.5h1M186 213.5h74M147 214.5h1M192 214.5h75M147 215.5h1M236 215.5h36M147 216.5h1M242 216.5h35M147 217.5h1M248 217.5h35M147 218.5h1M254 218.5h33M147 219.5h1M260 219.5h32M147 220.5h1M266 220.5h30M147 221.5h1M272 221.5h29M147 222.5h1M278 222.5h27M283 223.5h27M148 224.5h1M287 224.5h27M148 225.5h1M291 225.5h28M148 226.5h1M295 226.5h28M148 227.5h1M299 227.5h29M148 228.5h1M303 228.5h27M148 229.5h1M307 229.5h25M148 230.5h1M311 230.5h23M148 231.5h1M315 231.5h21M319 232.5h18M149 233.5h1M323 233.5h16M149 234.5h1M326 234.5h15M149 235.5h1M330 235.5h12M149 236.5h1M332 236.5h12M149 237.5h1M333 237.5h13M149 238.5h1M335 238.5h12M149 239.5h1M336 239.5h13M149 240.5h1M338 240.5h13M339 241.5h13M150 242.5h1M341 242.5h13M150 243.5h1M343 243.5h12M150 244.5h1M344 244.5h13M150 245.5h1M346 245.5h13M150 246.5h1M347 246.5h13M150 247.5h1M349 247.5h13M150 248.5h1M350 248.5h13M352 249.5h12M151 250.5h1M353 250.5h12M151 251.5h1M355 251.5h12M151 252.5h1M356 252.5h12M151 253.5h1M358 253.5h11M151 254.5h1M360 254.5h10M151 255.5h1M361 255.5h10M151 256.5h1M363 256.5h8M151 257.5h1M364 257.5h8M365 258.5h8M152 259.5h1M366 259.5h8M152 260.5h1M367 260.5h8M152 261.5h1M368 261.5h8M152 262.5h1M369 262.5h8M152 263.5h1M370 263.5h8M152 264.5h1M371 264.5h8M152 265.5h1M372 265.5h8M152 266.5h1M373 266.5h8M153 267.5h1M374 267.5h8M153 268.5h1M375 268.5h7M153 269.5h1M376 269.5h7M153 270.5h1M377 270.5h7M153 271.5h1M378 271.5h7M153 272.5h1M379 272.5h6M153 273.5h1M378 273.5h6M153 274.5h1M377 274.5h6M376 275.5h6M154 276.5h1M375 276.5h6M154 277.5h1M374 277.5h6M154 278.5h1M373 278.5h6M154 279.5h1M372 279.5h6M154 280.5h1M371 280.5h6M154 281.5h1M370 281.5h6M154 282.5h1M369 282.5h6M154 283.5h1M368 283.5h6M367 284.5h6M155 285.5h1M366 285.5h6M155 286.5h1M365 286.5h6M155 287.5h1M364 287.5h6M155 288.5h1M363 288.5h6M155 289.5h1M362 289.5h6M155 290.5h1M360 290.5h7M155 291.5h1M359 291.5h7M155 292.5h1M358 292.5h7M156 293.5h1M356 293.5h8M156 294.5h1M355 294.5h8M156 295.5h1M354 295.5h7M156 296.5h1M352 296.5h8M156 297.5h1M351 297.5h8M156 298.5h1M349 298.5h9M156 299.5h1M348 299.5h8M156 300.5h1M347 300.5h8M157 301.5h1M345 301.5h9M157 302.5h1M344 302.5h9M157 303.5h1M343 303.5h8M157 304.5h1M341 304.5h9M157 305.5h1M340 305.5h8M158 306.5h1M338 306.5h9M158 307.5h1M336 307.5h9M158 308.5h1M334 308.5h10M158 309.5h1M332 309.5h10M158 310.5h1M330 310.5h10M158 311.5h2M327 311.5h11M159 312.5h1M325 312.5h11M159 313.5h1M322 313.5h12M159 314.5h1M320 314.5h12M159 315.5h1M317 315.5h12M159 316.5h2M315 316.5h12M160 317.5h1M312 317.5h13M160 318.5h1M310 318.5h12M160 319.5h1M307 319.5h13M160 320.5h1M304 320.5h13M160 321.5h2M302 321.5h13M161 322.5h1M299 322.5h14M161 323.5h1M296 323.5h14M161 324.5h1M293 324.5h15M161 325.5h1M290 325.5h16M161 326.5h2M286 326.5h17M161 327.5h2M283 327.5h17M162 328.5h1M279 328.5h18M162 329.5h1M276 329.5h17M162 330.5h1M273 330.5h17M162 331.5h2M269 331.5h17M162 332.5h2M266 332.5h17M163 333.5h1M262 333.5h17M163 334.5h1M259 334.5h16M163 335.5h1M254 335.5h18M163 336.5h2M249 336.5h19M163 337.5h2M244 337.5h21M163 338.5h2M240 338.5h21M164 339.5h1M235 339.5h21M164 340.5h1M230 340.5h22M164 341.5h2M225 341.5h22M164 342.5h2M220 342.5h23M164 343.5h2M215 343.5h23M165 344.5h1M210 344.5h24M165 345.5h1M206 345.5h23M165 346.5h1M201 346.5h24M165 347.5h1M185 347.5h35M165 348.5h1M168 348.5h48M165 349.5h46M166 350.5h41M167 351.5h35M168 352.5h20M169 353.5h1M363 537.5h6M360 538.5h18M356 539.5h31M353 540.5h43M350 541.5h55M450 541.5h6M346 542.5h68M439 542.5h19M343 543.5h79M426 543.5h33M341 544.5h119M340 545.5h122M339 546.5h124M338 547.5h24M372 547.5h93M337 548.5h22M381 548.5h85M336 549.5h20M389 549.5h79M336 550.5h17M398 550.5h71M335 551.5h16M407 551.5h64M334 552.5h17M415 552.5h57M333 553.5h18M423 553.5h50M333 554.5h18M429 554.5h46M332 555.5h19M436 555.5h39M331 556.5h20M443 556.5h31M330 557.5h21M449 557.5h25M330 558.5h21M449 558.5h24M330 559.5h21M449 559.5h24M330 560.5h21M449 560.5h23M330 561.5h21M449 561.5h22M330 562.5h21M449 562.5h22M330 563.5h21M449 563.5h21M330 564.5h21M449 564.5h21M330 565.5h21M449 565.5h20M330 566.5h21M449 566.5h19M330 567.5h21M449 567.5h19M330 568.5h21M449 568.5h18M330 569.5h21M449 569.5h17M330 570.5h21M449 570.5h16M330 571.5h21M449 571.5h15M330 572.5h21M449 572.5h14M330 573.5h21M449 573.5h13M330 574.5h21M449 574.5h12M330 575.5h21M449 575.5h12M330 576.5h21M449 576.5h11M330 577.5h21M449 577.5h10M330 578.5h21M449 578.5h9M330 579.5h21M449 579.5h8M330 580.5h21M449 580.5h7M330 581.5h21M449 581.5h6M330 582.5h21M449 582.5h5M330 583.5h21M449 583.5h4M330 584.5h21M449 584.5h4M330 585.5h21M449 585.5h3M331 586.5h20M449 586.5h2M335 587.5h16M449 587.5h1M338 588.5h13M342 589.5h9M346 590.5h5M349 591.5h2"/>
<path stroke="#5251f6" d="M135 124.5h2M139 125.5h2M142 126.5h3M146 127.5h2M150 128.5h2M153 129.5h3M157 130.5h3M161 131.5h2M164 132.5h3M168 133.5h3M172 134.5h3M175 135.5h3M179 136.5h3M183 137.5h3M186 138.5h4M190 139.5h3M194 140.5h3M197 141.5h97M361 141.5h4M295 142.5h124M421 143.5h52M478 144.5h50M533 145.5h30M567 146.5h49M625 147.5h54M789 147.5h16M683 148.5h111M804 148.5h19M819 149.5h19M835 150.5h14M845 151.5h16M856 152.5h17M867 153.5h13M915 153.5h12M877 154.5h10M903 154.5h22M882 155.5h31M888 156.5h12M147 189.5h1M147 190.5h2M147 191.5h3M147 192.5h4M147 193.5h4M147 194.5h5M147 195.5h6M147 196.5h7M147 197.5h8M147 198.5h4M154 198.5h2M147 199.5h2M155 199.5h2M147 200.5h1M156 200.5h2M147 201.5h1M156 201.5h2M147 202.5h1M157 202.5h2M147 203.5h1M158 203.5h2M159 204.5h2M148 205.5h1M160 205.5h2M148 206.5h1M160 206.5h3M148 207.5h1M161 207.5h3M148 208.5h1M162 208.5h3M148 209.5h1M163 209.5h3M148 210.5h1M164 210.5h5M148 211.5h1M164 211.5h11M148 212.5h1M165 212.5h15M148 213.5h1M165 213.5h21M148 214.5h1M165 214.5h27M148 215.5h1M165 215.5h71M148 216.5h1M166 216.5h76M148 217.5h1M166 217.5h82M148 218.5h1M171 218.5h83M148 219.5h1M176 219.5h84M148 220.5h1M181 220.5h85M148 221.5h1M186 221.5h86M148 222.5h1M191 222.5h87M148 223.5h1M197 223.5h86M213 224.5h74M235 225.5h56M242 226.5h53M149 227.5h1M249 227.5h50M149 228.5h1M256 228.5h47M149 229.5h1M262 229.5h45M149 230.5h1M268 230.5h43M149 231.5h1M274 231.5h41M149 232.5h1M279 232.5h40M284 233.5h39M288 234.5h38M293 235.5h37M150 236.5h1M297 236.5h35M150 237.5h1M302 237.5h31M150 238.5h1M306 238.5h29M150 239.5h1M309 239.5h27M150 240.5h1M312 240.5h26M150 241.5h1M316 241.5h23M319 242.5h22M323 243.5h20M326 244.5h18M151 245.5h1M328 245.5h18M151 246.5h1M330 246.5h17M151 247.5h1M332 247.5h17M151 248.5h1M334 248.5h16M151 249.5h1M336 249.5h16M338 250.5h15M340 251.5h15M342 252.5h14M343 253.5h15M152 254.5h1M345 254.5h15M152 255.5h1M347 255.5h14M152 256.5h1M349 256.5h14M152 257.5h1M351 257.5h13M152 258.5h1M352 258.5h13M354 259.5h12M356 260.5h11M358 261.5h10M153 262.5h1M359 262.5h10M153 263.5h1M361 263.5h9M153 264.5h1M362 264.5h9M153 265.5h1M363 265.5h9M153 266.5h1M365 266.5h8M365 267.5h9M366 268.5h9M367 269.5h9M368 270.5h9M154 271.5h1M368 271.5h10M154 272.5h1M369 272.5h10M154 273.5h1M370 273.5h8M154 274.5h1M369 274.5h8M154 275.5h1M368 275.5h8M367 276.5h8M366 277.5h8M366 278.5h7M365 279.5h7M155 280.5h1M364 280.5h7M363 281.5h7M362 282.5h7M155 283.5h1M361 283.5h7M155 284.5h1M359 284.5h8M358 285.5h8M357 286.5h8M355 287.5h9M354 288.5h9M352 289.5h10M351 290.5h9M156 291.5h1M349 291.5h10M156 292.5h1M348 292.5h10M347 293.5h9M345 294.5h10M344 295.5h10M342 296.5h10M340 297.5h11M339 298.5h10M157 299.5h1M337 299.5h11M157 300.5h1M335 300.5h12M333 301.5h12M331 302.5h13M329 303.5h14M158 304.5h1M327 304.5h14M158 305.5h1M324 305.5h16M322 306.5h16M319 307.5h17M159 308.5h1M317 308.5h17M159 309.5h1M315 309.5h17M159 310.5h1M312 310.5h18M310 311.5h17M307 312.5h18M305 313.5h17M160 314.5h1M302 314.5h18M160 315.5h1M300 315.5h17M297 316.5h18M294 317.5h18M161 318.5h1M291 318.5h19M161 319.5h1M287 319.5h20M161 320.5h1M284 320.5h20M162 321.5h1M281 321.5h21M162 322.5h1M277 322.5h22M162 323.5h1M274 323.5h22M162 324.5h2M271 324.5h22M162 325.5h2M268 325.5h22M163 326.5h2M264 326.5h22M163 327.5h2M261 327.5h22M163 328.5h3M258 328.5h21M163 329.5h4M254 329.5h22M163 330.5h4M249 330.5h24M164 331.5h2M245 331.5h24M164 332.5h2M240 332.5h26M164 333.5h1M235 333.5h27M164 334.5h1M231 334.5h28M164 335.5h1M226 335.5h28M221 336.5h28M165 337.5h1M216 337.5h28M165 338.5h2M212 338.5h28M165 339.5h3M207 339.5h28M165 340.5h4M202 340.5h28M166 341.5h5M192 341.5h33M166 342.5h6M178 342.5h42M166 343.5h49M166 344.5h44M166 345.5h40M166 346.5h35M166 347.5h19M166 348.5h2M362 547.5h10M359 548.5h22M356 549.5h33M353 550.5h45M351 551.5h56M351 552.5h64M351 553.5h72M351 554.5h78M351 555.5h85M351 556.5h92M351 557.5h98M351 558.5h98M351 559.5h98M351 560.5h98M351 561.5h98M351 562.5h98M351 563.5h98M351 564.5h98M351 565.5h98M351 566.5h98M351 567.5h98M351 568.5h98M351 569.5h98M351 570.5h98M351 571.5h98M351 572.5h98M351 573.5h98M351 574.5h98M351 575.5h98M351 576.5h98M351 577.5h98M351 578.5h98M351 579.5h98M351 580.5h98M351 581.5h98M351 582.5h98M351 583.5h98M351 584.5h98M351 585.5h98M351 586.5h98M351 587.5h98M351 588.5h98M351 589.5h97M351 590.5h96M351 591.5h95M353 592.5h93M356 593.5h89M360 594.5h84M363 595.5h80M366 596.5h76M368 597.5h73M370 598.5h70M373 599.5h66M375 600.5h63M377 601.5h61M379 602.5h58M381 603.5h55M384 604.5h51M386 605.5h48M388 606.5h45M390 607.5h41M392 608.5h29M395 609.5h17M397 610.5h6"/>
<path stroke="#3e44fb" d="M134 123.5h1M137 124.5h2M141 125.5h2M145 126.5h2M148 127.5h3M152 128.5h2M156 129.5h2M160 130.5h2M163 131.5h3M167 132.5h3M171 133.5h3M175 134.5h3M178 135.5h3M182 136.5h3M186 137.5h3M190 138.5h3M193 139.5h4M197 140.5h97M359 140.5h6M294 141.5h67M365 141.5h52M419 142.5h50M473 143.5h48M528 144.5h31M563 145.5h44M616 146.5h58M785 146.5h22M679 147.5h110M805 147.5h21M823 148.5h18M838 149.5h16M849 150.5h18M861 151.5h17M917 151.5h10M873 152.5h12M905 152.5h22M880 153.5h35M887 154.5h16M151 198.5h3M149 199.5h6M148 200.5h2M153 200.5h3M148 201.5h1M154 201.5h2M148 202.5h1M155 202.5h2M148 203.5h1M156 203.5h2M148 204.5h1M156 204.5h3M157 205.5h3M158 206.5h2M159 207.5h2M160 208.5h2M160 209.5h3M161 210.5h3M162 211.5h2M163 212.5h2M163 213.5h2M163 214.5h2M149 215.5h1M163 215.5h2M149 216.5h1M164 216.5h2M149 217.5h1M164 217.5h2M149 218.5h1M164 218.5h7M149 219.5h1M165 219.5h11M149 220.5h1M165 220.5h16M149 221.5h1M165 221.5h21M149 222.5h1M165 222.5h26M149 223.5h1M166 223.5h31M149 224.5h1M166 224.5h47M149 225.5h1M168 225.5h67M149 226.5h1M173 226.5h69M177 227.5h72M182 228.5h74M186 229.5h76M150 230.5h1M191 230.5h77M150 231.5h1M195 231.5h79M150 232.5h1M200 232.5h79M150 233.5h1M211 233.5h73M150 234.5h1M223 234.5h65M150 235.5h1M235 235.5h58M244 236.5h53M252 237.5h50M258 238.5h48M151 239.5h1M263 239.5h46M151 240.5h1M269 240.5h43M151 241.5h1M275 241.5h41M151 242.5h1M280 242.5h39M151 243.5h1M285 243.5h38M151 244.5h1M290 244.5h36M296 245.5h32M301 246.5h29M304 247.5h28M152 248.5h1M307 248.5h27M152 249.5h1M310 249.5h26M152 250.5h1M313 250.5h25M152 251.5h1M316 251.5h24M152 252.5h1M319 252.5h23M152 253.5h1M322 253.5h21M324 254.5h21M327 255.5h20M329 256.5h20M153 257.5h1M332 257.5h19M153 258.5h1M335 258.5h17M153 259.5h1M337 259.5h17M153 260.5h1M340 260.5h16M153 261.5h1M342 261.5h16M344 262.5h15M346 263.5h15M348 264.5h14M350 265.5h13M352 266.5h13M154 267.5h1M354 267.5h11M154 268.5h1M356 268.5h10M154 269.5h1M358 269.5h9M154 270.5h1M359 270.5h9M361 271.5h7M361 272.5h8M362 273.5h8M363 274.5h6M363 275.5h5M155 276.5h1M362 276.5h5M155 277.5h1M361 277.5h5M155 278.5h1M359 278.5h7M155 279.5h1M358 279.5h7M356 280.5h8M155 281.5h1M355 281.5h8M155 282.5h1M353 282.5h9M351 283.5h10M350 284.5h9M348 285.5h10M347 286.5h10M345 287.5h10M344 288.5h10M342 289.5h10M340 290.5h11M338 291.5h11M336 292.5h12M334 293.5h13M332 294.5h13M330 295.5h14M157 296.5h1M328 296.5h14M157 297.5h1M326 297.5h14M157 298.5h1M323 298.5h16M321 299.5h16M319 300.5h16M316 301.5h17M158 302.5h1M314 302.5h17M158 303.5h1M312 303.5h17M310 304.5h17M307 305.5h17M159 306.5h1M305 306.5h17M159 307.5h1M303 307.5h16M160 308.5h1M300 308.5h17M160 309.5h1M297 309.5h18M160 310.5h1M294 310.5h18M160 311.5h1M291 311.5h19M288 312.5h19M160 313.5h1M285 313.5h20M282 314.5h20M279 315.5h21M275 316.5h22M161 317.5h1M272 317.5h22M269 318.5h22M162 319.5h1M266 319.5h21M162 320.5h1M263 320.5h21M163 321.5h1M260 321.5h21M163 322.5h1M256 322.5h21M163 323.5h2M253 323.5h21M164 324.5h1M250 324.5h21M164 325.5h2M245 325.5h23M165 326.5h2M240 326.5h24M165 327.5h2M236 327.5h25M166 328.5h2M231 328.5h27M167 329.5h2M227 329.5h27M167 330.5h3M222 330.5h27M166 331.5h4M217 331.5h28M166 332.5h5M213 332.5h27M165 333.5h7M208 333.5h27M165 334.5h5M204 334.5h27M165 335.5h1M197 335.5h29M165 336.5h4M185 336.5h36M166 337.5h6M173 337.5h43M167 338.5h45M168 339.5h39M169 340.5h33M171 341.5h21M172 342.5h6"/>
<path stroke="#2c38ff" d="M135 123.5h2M139 124.5h2M143 125.5h2M147 126.5h2M151 127.5h2M154 128.5h3M158 129.5h3M162 130.5h3M166 131.5h3M170 132.5h3M174 133.5h3M178 134.5h3M181 135.5h4M185 136.5h4M189 137.5h4M193 138.5h4M197 139.5h96M356 139.5h10M294 140.5h65M365 140.5h50M417 141.5h48M469 142.5h45M521 143.5h33M559 144.5h40M607 145.5h61M780 145.5h30M674 146.5h111M807 146.5h24M826 147.5h20M841 148.5h19M854 149.5h20M920 149.5h7M867 150.5h16M907 150.5h20M878 151.5h13M895 151.5h22M885 152.5h20M150 200.5h3M149 201.5h2M152 201.5h2M149 202.5h1M153 202.5h2M149 203.5h1M154 203.5h2M149 204.5h1M154 204.5h2M149 205.5h1M155 205.5h2M149 206.5h1M156 206.5h2M149 207.5h1M156 207.5h3M149 208.5h1M157 208.5h3M149 209.5h1M158 209.5h2M149 210.5h1M159 210.5h2M149 211.5h1M159 211.5h3M149 212.5h1M160 212.5h3M149 213.5h1M161 213.5h2M149 214.5h1M161 214.5h2M161 215.5h2M162 216.5h2M162 217.5h2M162 218.5h2M162 219.5h3M163 220.5h2M163 221.5h2M150 222.5h1M163 222.5h2M150 223.5h1M164 223.5h2M150 224.5h1M164 224.5h2M150 225.5h1M164 225.5h4M150 226.5h1M164 226.5h9M150 227.5h1M165 227.5h12M150 228.5h1M165 228.5h17M150 229.5h1M168 229.5h18M170 230.5h21M174 231.5h21M176 232.5h24M151 233.5h1M177 233.5h34M151 234.5h1M179 234.5h44M151 235.5h1M183 235.5h52M151 236.5h1M188 236.5h56M151 237.5h1M192 237.5h60M151 238.5h1M197 238.5h61M203 239.5h60M213 240.5h56M223 241.5h52M152 242.5h1M233 242.5h47M152 243.5h1M243 243.5h42M152 244.5h1M252 244.5h38M152 245.5h1M257 245.5h39M152 246.5h1M263 246.5h38M152 247.5h1M268 247.5h36M274 248.5h33M280 249.5h30M285 250.5h28M291 251.5h25M153 252.5h1M297 252.5h22M153 253.5h1M301 253.5h21M153 254.5h1M304 254.5h20M153 255.5h1M307 255.5h20M153 256.5h1M310 256.5h19M313 257.5h19M316 258.5h19M319 259.5h18M322 260.5h18M154 261.5h1M324 261.5h18M154 262.5h1M327 262.5h17M154 263.5h1M330 263.5h16M154 264.5h1M333 264.5h15M154 265.5h1M335 265.5h15M154 266.5h1M338 266.5h14M340 267.5h14M342 268.5h14M344 269.5h14M346 270.5h13M155 271.5h1M348 271.5h13M155 272.5h1M350 272.5h11M155 273.5h1M351 273.5h11M155 274.5h1M353 274.5h10M155 275.5h1M353 275.5h10M352 276.5h10M351 277.5h10M350 278.5h9M349 279.5h9M156 280.5h1M347 280.5h9M346 281.5h9M344 282.5h9M343 283.5h8M341 284.5h9M340 285.5h8M156 286.5h1M338 286.5h9M336 287.5h9M156 288.5h1M334 288.5h10M332 289.5h10M329 290.5h11M327 291.5h11M325 292.5h11M157 293.5h1M324 293.5h10M157 294.5h1M321 294.5h11M157 295.5h1M319 295.5h11M317 296.5h11M315 297.5h11M312 298.5h11M310 299.5h11M158 300.5h1M308 300.5h11M158 301.5h1M305 301.5h11M303 302.5h11M301 303.5h11M159 304.5h1M298 304.5h12M159 305.5h1M295 305.5h12M160 306.5h1M292 306.5h13M160 307.5h1M289 307.5h14M286 308.5h14M161 309.5h1M283 309.5h14M161 310.5h1M280 310.5h14M161 311.5h1M276 311.5h15M160 312.5h1M273 312.5h15M270 313.5h15M267 314.5h15M264 315.5h15M161 316.5h1M261 316.5h14M257 317.5h15M162 318.5h1M254 318.5h15M163 319.5h1M251 319.5h15M163 320.5h2M247 320.5h16M164 321.5h1M242 321.5h18M164 322.5h2M238 322.5h18M165 323.5h2M233 323.5h20M165 324.5h3M229 324.5h21M166 325.5h2M224 325.5h21M167 326.5h2M220 326.5h20M167 327.5h3M215 327.5h21M168 328.5h2M211 328.5h20M169 329.5h2M206 329.5h21M170 330.5h2M201 330.5h21M170 331.5h2M192 331.5h25M171 332.5h2M180 332.5h33M172 333.5h36M170 334.5h34M166 335.5h31M169 336.5h16M172 337.5h1"/>
<path stroke="#263cfc" d="M134 122.5h1M137 123.5h2M141 124.5h2M145 125.5h2M149 126.5h2M153 127.5h3M157 128.5h3M161 129.5h3M165 130.5h3M169 131.5h3M173 132.5h3M177 133.5h3M181 134.5h3M185 135.5h3M189 136.5h3M193 137.5h3M197 138.5h96M354 138.5h12M293 139.5h63M366 139.5h48M415 140.5h46M465 141.5h44M514 142.5h36M554 143.5h37M599 144.5h62M777 144.5h35M668 145.5h112M810 145.5h26M831 146.5h21M846 147.5h21M922 147.5h5M860 148.5h20M910 148.5h17M874 149.5h15M897 149.5h23M883 150.5h24M891 151.5h4M151 201.5h1M150 202.5h3M150 203.5h1M152 203.5h2M150 204.5h1M152 204.5h2M150 205.5h1M153 205.5h2M150 206.5h1M153 206.5h3M150 207.5h1M154 207.5h2M150 208.5h1M155 208.5h2M150 209.5h1M155 209.5h3M150 210.5h1M156 210.5h3M150 211.5h1M157 211.5h2M150 212.5h1M157 212.5h3M150 213.5h1M158 213.5h3M150 214.5h1M159 214.5h2M150 215.5h1M159 215.5h2M150 216.5h1M160 216.5h2M150 217.5h1M160 217.5h2M150 218.5h1M160 218.5h2M150 219.5h1M160 219.5h2M150 220.5h1M161 220.5h2M150 221.5h1M161 221.5h2M161 222.5h2M162 223.5h2M162 224.5h2M162 225.5h2M151 226.5h1M163 226.5h1M151 227.5h1M163 227.5h2M151 228.5h1M163 228.5h2M151 229.5h1M164 229.5h4M151 230.5h1M164 230.5h6M151 231.5h1M167 231.5h7M151 232.5h1M169 232.5h7M172 233.5h5M173 234.5h6M174 235.5h9M152 236.5h1M174 236.5h14M152 237.5h1M175 237.5h17M152 238.5h1M175 238.5h22M152 239.5h1M176 239.5h27M152 240.5h1M180 240.5h33M152 241.5h1M185 241.5h38M190 242.5h43M195 243.5h48M201 244.5h51M211 245.5h46M153 246.5h1M220 246.5h43M153 247.5h1M230 247.5h38M153 248.5h1M240 248.5h34M153 249.5h1M249 249.5h31M153 250.5h1M255 250.5h30M153 251.5h1M261 251.5h30M267 252.5h30M272 253.5h29M278 254.5h26M284 255.5h23M154 256.5h1M289 256.5h21M154 257.5h1M295 257.5h18M154 258.5h1M300 258.5h16M154 259.5h1M304 259.5h15M154 260.5h1M307 260.5h15M311 261.5h13M315 262.5h12M318 263.5h12M319 264.5h14M322 265.5h13M155 266.5h1M325 266.5h13M155 267.5h1M327 267.5h13M155 268.5h1M330 268.5h12M155 269.5h1M332 269.5h12M155 270.5h1M335 270.5h11M337 271.5h11M339 272.5h11M341 273.5h10M343 274.5h10M156 275.5h1M344 275.5h9M156 276.5h1M345 276.5h7M156 277.5h1M344 277.5h7M156 278.5h1M343 278.5h7M156 279.5h1M342 279.5h7M340 280.5h7M339 281.5h7M337 282.5h7M335 283.5h8M334 284.5h7M332 285.5h8M330 286.5h8M156 287.5h1M328 287.5h8M326 288.5h8M324 289.5h8M323 290.5h6M321 291.5h6M319 292.5h6M316 293.5h8M314 294.5h7M312 295.5h7M309 296.5h8M307 297.5h8M158 298.5h1M305 298.5h7M158 299.5h1M302 299.5h8M300 300.5h8M297 301.5h8M294 302.5h9M159 303.5h1M291 303.5h10M288 304.5h10M160 305.5h1M285 305.5h10M161 306.5h1M282 306.5h10M161 307.5h1M278 307.5h11M161 308.5h1M275 308.5h11M162 309.5h1M272 309.5h11M162 310.5h1M269 310.5h11M162 311.5h1M265 311.5h11M161 312.5h1M262 312.5h11M259 313.5h11M161 314.5h1M256 314.5h11M161 315.5h1M252 315.5h12M249 316.5h12M162 317.5h2M244 317.5h13M163 318.5h2M240 318.5h14M164 319.5h2M235 319.5h16M165 320.5h2M231 320.5h16M165 321.5h3M226 321.5h16M166 322.5h3M221 322.5h17M167 323.5h2M217 323.5h16M168 324.5h2M212 324.5h17M168 325.5h3M208 325.5h16M169 326.5h2M203 326.5h17M170 327.5h2M195 327.5h20M170 328.5h3M183 328.5h28M171 329.5h35M172 330.5h29M172 331.5h20M173 332.5h7"/>
<path stroke="#223ff9" d="M135 122.5h2M139 123.5h2M143 124.5h3M147 125.5h3M151 126.5h3M156 127.5h2M160 128.5h2M164 129.5h3M168 130.5h3M172 131.5h3M176 132.5h3M180 133.5h3M184 134.5h3M188 135.5h4M192 136.5h4M196 137.5h96M351 137.5h16M293 138.5h61M366 138.5h46M414 139.5h44M461 140.5h42M509 141.5h36M550 142.5h34M591 143.5h63M775 143.5h42M661 144.5h116M812 144.5h28M836 145.5h23M924 145.5h3M852 146.5h24M912 146.5h15M867 147.5h19M899 147.5h23M880 148.5h30M889 149.5h8M151 203.5h1M151 204.5h1M151 205.5h2M151 206.5h2M151 207.5h3M151 208.5h4M151 209.5h1M153 209.5h2M151 210.5h1M154 210.5h2M151 211.5h1M154 211.5h3M151 212.5h1M155 212.5h2M151 213.5h1M156 213.5h2M151 214.5h1M156 214.5h3M151 215.5h1M157 215.5h2M151 216.5h1M158 216.5h2M151 217.5h1M158 217.5h2M151 218.5h1M158 218.5h2M151 219.5h1M158 219.5h2M151 220.5h1M159 220.5h2M151 221.5h1M159 221.5h2M151 222.5h1M159 222.5h2M151 223.5h1M160 223.5h2M151 224.5h1M160 224.5h2M151 225.5h1M160 225.5h2M161 226.5h2M161 227.5h2M162 228.5h1M152 229.5h1M162 229.5h2M152 230.5h1M162 230.5h2M152 231.5h1M162 231.5h5M152 232.5h1M164 232.5h5M152 233.5h1M165 233.5h7M152 234.5h1M167 234.5h6M152 235.5h1M169 235.5h5M171 236.5h3M171 237.5h4M172 238.5h3M153 239.5h1M172 239.5h4M153 240.5h1M173 240.5h7M153 241.5h1M173 241.5h12M153 242.5h1M174 242.5h16M153 243.5h1M174 243.5h21M153 244.5h1M175 244.5h26M153 245.5h1M177 245.5h34M182 246.5h38M188 247.5h42M193 248.5h47M199 249.5h50M154 250.5h1M208 250.5h47M154 251.5h1M217 251.5h44M154 252.5h1M227 252.5h40M154 253.5h1M236 253.5h36M154 254.5h1M246 254.5h32M154 255.5h1M253 255.5h31M259 256.5h30M265 257.5h30M270 258.5h30M276 259.5h28M155 260.5h1M282 260.5h25M155 261.5h1M288 261.5h23M155 262.5h1M294 262.5h21M155 263.5h1M300 263.5h18M155 264.5h1M304 264.5h15M155 265.5h1M308 265.5h14M312 266.5h13M317 267.5h10M318 268.5h12M320 269.5h12M156 270.5h1M322 270.5h13M156 271.5h1M325 271.5h12M156 272.5h1M328 272.5h11M156 273.5h1M330 273.5h11M156 274.5h1M332 274.5h11M334 275.5h10M336 276.5h9M338 277.5h6M336 278.5h7M335 279.5h7M157 280.5h1M333 280.5h7M156 281.5h1M332 281.5h7M330 282.5h7M328 283.5h7M326 284.5h8M156 285.5h1M324 285.5h8M323 286.5h7M322 287.5h6M321 288.5h5M318 289.5h6M156 290.5h1M316 290.5h7M314 291.5h7M157 292.5h1M311 292.5h8M309 293.5h7M306 294.5h8M304 295.5h8M301 296.5h8M158 297.5h1M299 297.5h8M296 298.5h9M293 299.5h9M290 300.5h10M159 301.5h1M287 301.5h10M159 302.5h1M284 302.5h10M160 303.5h1M280 303.5h11M160 304.5h1M277 304.5h11M161 305.5h1M274 305.5h11M162 306.5h1M271 306.5h11M162 307.5h1M267 307.5h11M162 308.5h1M264 308.5h11M261 309.5h11M163 310.5h1M257 310.5h12M163 311.5h1M254 311.5h11M162 312.5h1M250 312.5h12M161 313.5h2M246 313.5h13M242 314.5h14M237 315.5h15M162 316.5h1M232 316.5h17M164 317.5h1M228 317.5h16M165 318.5h2M223 318.5h17M166 319.5h3M218 319.5h17M167 320.5h2M214 320.5h17M168 321.5h2M209 321.5h17M169 322.5h2M205 322.5h16M169 323.5h2M199 323.5h18M170 324.5h2M187 324.5h25M171 325.5h2M174 325.5h34M171 326.5h32M172 327.5h23M173 328.5h10"/>
<path stroke="#204bf1" d="M134 121.5h1M137 122.5h3M141 123.5h3M146 124.5h2M150 125.5h2M154 126.5h3M158 127.5h3M162 128.5h3M167 129.5h3M171 130.5h3M175 131.5h3M179 132.5h4M183 133.5h4M187 134.5h4M192 135.5h3M196 136.5h94M348 136.5h19M292 137.5h59M367 137.5h44M412 138.5h42M458 139.5h40M503 140.5h37M545 141.5h32M584 142.5h60M773 142.5h49M654 143.5h121M817 143.5h30M840 144.5h28M914 144.5h13M859 145.5h24M902 145.5h22M876 146.5h36M886 147.5h13M152 209.5h1M152 210.5h2M152 211.5h2M152 212.5h3M152 213.5h4M152 214.5h1M154 214.5h2M152 215.5h1M154 215.5h3M152 216.5h1M155 216.5h3M152 217.5h1M156 217.5h2M152 218.5h1M156 218.5h2M152 219.5h1M156 219.5h2M152 220.5h1M157 220.5h2M152 221.5h1M157 221.5h2M152 222.5h1M157 222.5h2M152 223.5h1M158 223.5h2M152 224.5h1M158 224.5h2M152 225.5h1M159 225.5h1M152 226.5h1M159 226.5h2M152 227.5h1M159 227.5h2M152 228.5h1M160 228.5h2M160 229.5h2M160 230.5h2M161 231.5h1M161 232.5h3M153 233.5h1M162 233.5h3M153 234.5h1M163 234.5h4M153 235.5h1M164 235.5h5M153 236.5h1M165 236.5h6M153 237.5h1M166 237.5h5M153 238.5h1M168 238.5h4M169 239.5h3M169 240.5h4M170 241.5h3M170 242.5h4M154 243.5h1M171 243.5h3M154 244.5h1M171 244.5h4M154 245.5h1M171 245.5h6M154 246.5h1M172 246.5h10M154 247.5h1M172 247.5h16M154 248.5h1M173 248.5h20M154 249.5h1M173 249.5h26M174 250.5h34M179 251.5h38M185 252.5h42M191 253.5h45M155 254.5h1M196 254.5h50M155 255.5h1M205 255.5h48M155 256.5h1M215 256.5h44M155 257.5h1M224 257.5h41M155 258.5h1M233 258.5h37M155 259.5h1M243 259.5h33M251 260.5h31M257 261.5h31M263 262.5h31M269 263.5h31M274 264.5h30M156 265.5h1M280 265.5h28M156 266.5h1M286 266.5h26M156 267.5h1M293 267.5h24M156 268.5h1M299 268.5h19M156 269.5h1M304 269.5h16M310 270.5h12M315 271.5h10M316 272.5h12M318 273.5h12M320 274.5h12M157 275.5h1M323 275.5h11M157 276.5h1M325 276.5h11M157 277.5h1M328 277.5h10M157 278.5h1M330 278.5h6M157 279.5h1M328 279.5h7M326 280.5h7M324 281.5h8M322 282.5h8M156 283.5h1M321 283.5h7M156 284.5h1M321 284.5h5M321 285.5h3M318 286.5h5M316 287.5h6M313 288.5h8M311 289.5h7M308 290.5h8M157 291.5h1M305 291.5h9M303 292.5h8M300 293.5h9M158 294.5h1M298 294.5h8M158 295.5h1M295 295.5h9M158 296.5h1M292 296.5h9M289 297.5h10M286 298.5h10M159 299.5h1M283 299.5h10M159 300.5h1M279 300.5h11M276 301.5h11M273 302.5h11M269 303.5h11M161 304.5h2M266 304.5h11M162 305.5h1M262 305.5h12M259 306.5h12M163 307.5h1M255 307.5h12M163 308.5h1M252 308.5h12M163 309.5h1M248 309.5h13M164 310.5h1M244 310.5h13M164 311.5h1M239 311.5h15M163 312.5h2M234 312.5h16M163 313.5h1M230 313.5h16M225 314.5h17M220 315.5h17M163 316.5h3M216 316.5h16M165 317.5h5M211 317.5h17M167 318.5h3M206 318.5h17M169 319.5h2M201 319.5h17M169 320.5h3M191 320.5h23M170 321.5h2M177 321.5h32M171 322.5h34M171 323.5h28M172 324.5h15M173 325.5h1"/>
<path stroke="#205be7" d="M135 121.5h2M140 122.5h2M144 123.5h2M148 124.5h3M152 125.5h3M157 126.5h3M161 127.5h3M165 128.5h4M170 129.5h3M174 130.5h3M178 131.5h4M183 132.5h3M187 133.5h4M191 134.5h4M195 135.5h94M346 135.5h21M290 136.5h58M367 136.5h42M411 137.5h41M454 138.5h40M498 139.5h37M540 140.5h32M577 141.5h56M771 141.5h59M644 142.5h129M822 142.5h33M917 142.5h10M847 143.5h31M904 143.5h23M868 144.5h46M883 145.5h19M153 214.5h1M153 215.5h1M153 216.5h2M153 217.5h3M153 218.5h3M153 219.5h3M153 220.5h1M155 220.5h2M153 221.5h1M155 221.5h2M156 222.5h1M153 223.5h1M156 223.5h2M153 224.5h1M157 224.5h1M153 225.5h1M157 225.5h2M153 226.5h1M157 226.5h2M153 227.5h1M158 227.5h1M153 228.5h1M158 228.5h2M153 229.5h1M158 229.5h2M153 230.5h1M159 230.5h1M153 231.5h1M159 231.5h2M153 232.5h1M159 232.5h2M159 233.5h3M160 234.5h3M161 235.5h3M162 236.5h3M154 237.5h1M162 237.5h4M154 238.5h1M163 238.5h5M154 239.5h1M164 239.5h5M154 240.5h1M165 240.5h4M154 241.5h1M166 241.5h4M154 242.5h1M166 242.5h4M167 243.5h4M167 244.5h4M168 245.5h3M168 246.5h4M155 247.5h1M169 247.5h3M155 248.5h1M169 248.5h4M155 249.5h1M170 249.5h3M155 250.5h1M170 250.5h4M155 251.5h1M171 251.5h8M155 252.5h1M171 252.5h14M155 253.5h1M172 253.5h19M172 254.5h24M173 255.5h32M175 256.5h40M181 257.5h43M188 258.5h45M156 259.5h1M195 259.5h48M156 260.5h1M203 260.5h48M156 261.5h1M212 261.5h45M156 262.5h1M221 262.5h42M156 263.5h1M230 263.5h39M156 264.5h1M239 264.5h35M249 265.5h31M255 266.5h31M261 267.5h32M267 268.5h32M273 269.5h31M157 270.5h1M279 270.5h31M157 271.5h1M285 271.5h30M157 272.5h1M292 272.5h24M157 273.5h1M299 273.5h19M157 274.5h1M306 274.5h14M312 275.5h11M315 276.5h10M316 277.5h12M318 278.5h12M320 279.5h8M158 280.5h1M320 280.5h6M320 281.5h4M156 282.5h1M320 282.5h2M318 283.5h3M315 284.5h6M157 285.5h1M313 285.5h8M157 286.5h1M310 286.5h8M307 287.5h9M305 288.5h8M156 289.5h1M302 289.5h9M299 290.5h9M297 291.5h8M294 292.5h9M158 293.5h1M291 293.5h9M288 294.5h10M285 295.5h10M282 296.5h10M278 297.5h11M159 298.5h1M275 298.5h11M271 299.5h12M268 300.5h11M264 301.5h12M160 302.5h1M261 302.5h12M161 303.5h1M257 303.5h12M163 304.5h1M254 304.5h12M163 305.5h1M250 305.5h12M163 306.5h1M246 306.5h13M164 307.5h1M241 307.5h14M164 308.5h1M236 308.5h16M164 309.5h1M231 309.5h17M227 310.5h17M165 311.5h1M222 311.5h17M165 312.5h1M217 312.5h17M164 313.5h2M213 313.5h17M162 314.5h1M208 314.5h17M162 315.5h2M203 315.5h17M166 316.5h5M195 316.5h21M170 317.5h2M181 317.5h30M170 318.5h36M171 319.5h30M172 320.5h19M172 321.5h5"/>
<path stroke="#2569e6" d="M134 120.5h1M137 121.5h3M142 122.5h2M146 123.5h3M151 124.5h2M155 125.5h3M160 126.5h3M164 127.5h3M169 128.5h3M173 129.5h3M177 130.5h4M182 131.5h3M186 132.5h4M191 133.5h4M195 134.5h92M343 134.5h25M289 135.5h57M367 135.5h41M409 136.5h40M452 137.5h37M494 138.5h36M535 139.5h33M572 140.5h47M769 140.5h70M919 140.5h8M633 141.5h138M830 141.5h38M906 141.5h21M855 142.5h36M894 142.5h23M878 143.5h26M154 220.5h1M154 221.5h1M153 222.5h3M154 223.5h2M155 224.5h2M155 225.5h2M156 226.5h1M156 227.5h2M156 228.5h2M154 229.5h1M156 229.5h2M154 230.5h1M157 230.5h2M154 231.5h1M157 231.5h2M154 232.5h1M157 232.5h2M154 233.5h1M158 233.5h1M154 234.5h1M158 234.5h2M154 235.5h1M158 235.5h3M154 236.5h1M159 236.5h3M159 237.5h3M160 238.5h3M160 239.5h4M155 240.5h1M161 240.5h4M155 241.5h1M162 241.5h4M155 242.5h1M163 242.5h3M155 243.5h1M163 243.5h4M155 244.5h1M164 244.5h3M155 245.5h1M164 245.5h4M155 246.5h1M165 246.5h3M165 247.5h4M166 248.5h3M166 249.5h4M167 250.5h3M167 251.5h4M156 252.5h1M168 252.5h3M156 253.5h1M168 253.5h4M156 254.5h1M169 254.5h3M156 255.5h1M169 255.5h4M156 256.5h1M169 256.5h6M156 257.5h1M170 257.5h11M156 258.5h1M170 258.5h18M171 259.5h24M171 260.5h32M172 261.5h40M177 262.5h44M185 263.5h45M157 264.5h1M192 264.5h47M157 265.5h1M200 265.5h49M157 266.5h1M209 266.5h46M157 267.5h1M218 267.5h43M157 268.5h1M227 268.5h40M157 269.5h1M236 269.5h37M245 270.5h34M253 271.5h32M259 272.5h33M265 273.5h34M271 274.5h35M158 275.5h1M277 275.5h35M158 276.5h1M283 276.5h32M158 277.5h1M291 277.5h25M158 278.5h1M300 278.5h18M158 279.5h1M309 279.5h11M311 280.5h4M317 280.5h3M157 281.5h1M312 281.5h8M312 282.5h8M310 283.5h8M307 284.5h8M304 285.5h9M301 286.5h9M157 287.5h1M299 287.5h8M157 288.5h1M296 288.5h9M293 289.5h9M157 290.5h1M290 290.5h9M287 291.5h10M284 292.5h10M281 293.5h10M277 294.5h11M273 295.5h12M270 296.5h12M159 297.5h1M266 297.5h12M263 298.5h12M259 299.5h12M160 300.5h1M255 300.5h13M160 301.5h1M252 301.5h12M161 302.5h2M248 302.5h13M162 303.5h2M243 303.5h14M238 304.5h16M164 305.5h1M233 305.5h17M164 306.5h1M229 306.5h17M224 307.5h17M165 308.5h1M219 308.5h17M165 309.5h1M214 309.5h17M165 310.5h1M210 310.5h17M166 311.5h1M205 311.5h17M166 312.5h1M200 312.5h17M166 313.5h1M185 313.5h28M163 314.5h4M170 314.5h38M164 315.5h39M171 316.5h24M172 317.5h9"/>
<path stroke="#2c78ea" d="M135 120.5h2M140 121.5h2M144 122.5h3M149 123.5h3M153 124.5h3M158 125.5h3M163 126.5h3M167 127.5h4M172 128.5h3M176 129.5h4M181 130.5h4M185 131.5h4M190 132.5h4M195 133.5h89M340 133.5h28M287 134.5h56M368 134.5h39M408 135.5h38M449 136.5h36M489 137.5h36M530 138.5h33M922 138.5h5M568 139.5h44M768 139.5h81M909 139.5h18M619 140.5h108M731 140.5h38M839 140.5h46M896 140.5h23M868 141.5h38M891 142.5h3M154 224.5h1M154 225.5h1M154 226.5h2M154 227.5h2M154 228.5h2M155 229.5h1M155 230.5h2M155 231.5h2M155 232.5h2M155 233.5h3M155 234.5h3M155 235.5h3M155 236.5h1M157 236.5h2M155 237.5h1M157 237.5h2M155 238.5h1M157 238.5h3M155 239.5h1M158 239.5h2M158 240.5h3M159 241.5h3M159 242.5h4M160 243.5h3M160 244.5h4M156 245.5h1M161 245.5h3M156 246.5h1M161 246.5h4M156 247.5h1M162 247.5h3M156 248.5h1M162 248.5h4M156 249.5h1M163 249.5h3M156 250.5h1M163 250.5h4M156 251.5h1M164 251.5h3M164 252.5h4M165 253.5h3M165 254.5h4M165 255.5h4M165 256.5h4M157 257.5h1M164 257.5h6M157 258.5h1M163 258.5h7M157 259.5h1M164 259.5h7M157 260.5h1M164 260.5h7M157 261.5h1M164 261.5h8M157 262.5h1M165 262.5h12M157 263.5h1M167 263.5h18M168 264.5h24M170 265.5h30M178 266.5h31M186 267.5h32M194 268.5h33M158 269.5h1M202 269.5h34M158 270.5h1M213 270.5h32M158 271.5h1M224 271.5h29M158 272.5h1M234 272.5h25M158 273.5h1M244 273.5h21M158 274.5h1M252 274.5h19M258 275.5h19M264 276.5h19M270 277.5h21M276 278.5h24M283 279.5h26M291 280.5h20M315 280.5h2M300 281.5h12M301 282.5h11M298 283.5h12M296 284.5h11M293 285.5h11M291 286.5h10M288 287.5h11M285 288.5h11M282 289.5h11M279 290.5h11M276 291.5h11M158 292.5h1M276 292.5h8M273 293.5h8M159 294.5h1M269 294.5h8M159 295.5h1M265 295.5h8M159 296.5h1M262 296.5h8M258 297.5h8M254 298.5h9M160 299.5h1M250 299.5h9M246 300.5h9M161 301.5h1M242 301.5h10M163 302.5h2M236 302.5h12M164 303.5h1M231 303.5h12M164 304.5h1M225 304.5h13M165 305.5h1M219 305.5h14M165 306.5h1M214 306.5h15M165 307.5h1M208 307.5h16M203 308.5h16M166 309.5h1M192 309.5h22M166 310.5h1M175 310.5h35M167 311.5h38M167 312.5h33M167 313.5h18M167 314.5h3"/>
<path stroke="#3488ee" d="M134 119.5h1M137 120.5h3M142 121.5h3M147 122.5h3M152 123.5h3M156 124.5h3M161 125.5h3M166 126.5h3M171 127.5h3M175 128.5h4M180 129.5h4M185 130.5h4M189 131.5h5M194 132.5h86M338 132.5h31M284 133.5h56M368 133.5h38M407 134.5h37M446 135.5h36M485 136.5h35M924 136.5h3M525 137.5h33M911 137.5h16M563 138.5h42M766 138.5h102M898 138.5h24M612 139.5h112M732 139.5h36M849 139.5h60M727 140.5h4M885 140.5h11M156 236.5h1M156 237.5h1M156 238.5h1M156 239.5h2M156 240.5h2M156 241.5h3M156 242.5h3M156 243.5h4M156 244.5h4M157 245.5h4M158 246.5h3M158 247.5h4M159 248.5h3M157 249.5h1M159 249.5h4M157 250.5h1M159 250.5h4M157 251.5h1M160 251.5h4M157 252.5h1M160 252.5h4M157 253.5h1M160 253.5h5M157 254.5h1M160 254.5h5M157 255.5h1M160 255.5h5M157 256.5h1M161 256.5h4M161 257.5h3M161 258.5h2M162 259.5h2M162 260.5h2M162 261.5h2M158 262.5h1M163 262.5h2M158 263.5h1M163 263.5h4M158 264.5h1M164 264.5h4M158 265.5h1M165 265.5h5M158 266.5h1M166 266.5h12M158 267.5h1M167 267.5h19M158 268.5h1M167 268.5h27M171 269.5h31M179 270.5h34M187 271.5h37M196 272.5h38M206 273.5h38M159 274.5h1M219 274.5h33M159 275.5h1M231 275.5h27M159 276.5h1M243 276.5h21M159 277.5h1M250 277.5h20M159 278.5h1M257 278.5h19M159 279.5h1M263 279.5h20M159 280.5h1M268 280.5h23M158 281.5h1M275 281.5h25M157 282.5h1M283 282.5h18M289 283.5h9M157 284.5h2M286 284.5h10M284 285.5h9M281 286.5h10M278 287.5h10M276 288.5h9M275 289.5h7M275 290.5h4M158 291.5h1M272 291.5h4M268 292.5h8M264 293.5h9M260 294.5h9M257 295.5h8M253 296.5h9M249 297.5h9M160 298.5h1M245 298.5h9M240 299.5h10M233 300.5h13M162 301.5h3M227 301.5h15M165 302.5h1M220 302.5h16M165 303.5h1M213 303.5h18M165 304.5h1M206 304.5h19M199 305.5h20M166 306.5h1M181 306.5h33M166 307.5h42M166 308.5h37M167 309.5h25M167 310.5h8"/>
<path stroke="#3c98f2" d="M135 119.5h3M140 120.5h3M145 121.5h3M150 122.5h3M155 123.5h3M159 124.5h4M164 125.5h4M169 126.5h4M174 127.5h4M179 128.5h4M184 129.5h4M189 130.5h4M194 131.5h76M335 131.5h34M280 132.5h58M369 132.5h36M406 133.5h36M444 134.5h34M482 135.5h33M914 135.5h13M520 136.5h33M901 136.5h23M558 137.5h40M765 137.5h146M605 138.5h113M733 138.5h33M868 138.5h30M724 139.5h8M157 246.5h1M157 247.5h1M157 248.5h2M158 249.5h1M158 250.5h1M158 251.5h2M158 252.5h2M158 253.5h2M158 254.5h2M158 255.5h2M158 256.5h3M158 257.5h3M158 258.5h3M158 259.5h1M160 259.5h2M158 260.5h1M160 260.5h2M158 261.5h1M160 261.5h2M161 262.5h2M161 263.5h2M161 264.5h3M162 265.5h3M162 266.5h4M163 267.5h4M159 268.5h1M164 268.5h3M159 269.5h1M164 269.5h7M159 270.5h1M165 270.5h14M159 271.5h1M166 271.5h21M159 272.5h1M167 272.5h29M159 273.5h1M171 273.5h35M180 274.5h39M189 275.5h42M198 276.5h45M211 277.5h39M227 278.5h30M241 279.5h22M249 280.5h19M256 281.5h19M262 282.5h21M157 283.5h1M267 283.5h22M274 284.5h12M158 285.5h1M275 285.5h9M158 286.5h1M274 286.5h7M274 287.5h4M273 288.5h3M157 289.5h1M271 289.5h4M267 290.5h8M263 291.5h9M259 292.5h9M159 293.5h1M255 293.5h9M251 294.5h9M247 295.5h10M160 296.5h1M243 296.5h10M160 297.5h1M238 297.5h11M230 298.5h15M221 299.5h19M161 300.5h2M212 300.5h21M165 301.5h1M204 301.5h23M189 302.5h31M166 303.5h1M168 303.5h45M166 304.5h40M166 305.5h33M167 306.5h14"/>
<path stroke="#44a8f6" d="M134 118.5h1M138 119.5h2M143 120.5h2M148 121.5h3M153 122.5h3M158 123.5h3M163 124.5h3M168 125.5h3M173 126.5h4M178 127.5h4M183 128.5h4M188 129.5h4M193 130.5h51M333 130.5h36M270 131.5h65M369 131.5h36M405 132.5h35M442 133.5h33M916 133.5h11M478 134.5h33M903 134.5h24M515 135.5h33M801 135.5h67M869 135.5h1M876 135.5h2M879 135.5h35M553 136.5h39M764 136.5h137M598 137.5h112M733 137.5h32M718 138.5h15M159 259.5h1M159 260.5h1M159 261.5h1M159 262.5h2M159 263.5h2M159 264.5h2M159 265.5h3M159 266.5h3M159 267.5h4M161 268.5h3M161 269.5h3M162 270.5h3M162 271.5h4M163 272.5h4M164 273.5h7M160 274.5h1M165 274.5h15M160 275.5h1M166 275.5h23M160 276.5h1M167 276.5h31M160 277.5h1M172 277.5h39M160 278.5h1M181 278.5h46M160 279.5h1M191 279.5h50M160 280.5h1M200 280.5h49M159 281.5h1M220 281.5h36M158 282.5h1M240 282.5h22M247 283.5h20M254 284.5h20M261 285.5h14M262 286.5h4M268 286.5h6M158 287.5h1M263 287.5h3M270 287.5h4M158 288.5h1M263 288.5h10M158 289.5h1M262 289.5h9M158 290.5h1M258 290.5h9M254 291.5h9M250 292.5h9M246 293.5h9M242 294.5h9M160 295.5h1M234 295.5h13M223 296.5h20M211 297.5h27M161 298.5h1M200 298.5h30M161 299.5h1M175 299.5h46M163 300.5h49M166 301.5h38M166 302.5h23M167 303.5h1"/>
<path stroke="#4fb8f6" d="M135 118.5h3M140 119.5h3M145 120.5h3M151 121.5h3M156 122.5h3M161 123.5h4M166 124.5h4M171 125.5h4M177 126.5h4M182 127.5h4M187 128.5h5M192 129.5h7M330 129.5h39M244 130.5h89M369 130.5h35M405 131.5h33M919 131.5h8M440 132.5h32M906 132.5h21M475 133.5h31M893 133.5h23M511 134.5h32M798 134.5h105M548 135.5h37M763 135.5h38M868 135.5h1M870 135.5h6M878 135.5h1M592 136.5h107M734 136.5h30M710 137.5h23M160 268.5h1M160 269.5h1M160 270.5h2M160 271.5h2M160 272.5h3M160 273.5h4M161 274.5h4M161 275.5h5M161 276.5h6M162 277.5h10M162 278.5h19M163 279.5h28M164 280.5h36M165 281.5h55M165 282.5h75M184 283.5h63M208 284.5h46M236 285.5h25M244 286.5h18M266 286.5h2M245 287.5h1M248 287.5h15M266 287.5h4M251 288.5h12M246 289.5h16M242 290.5h16M236 291.5h18M159 292.5h1M226 292.5h24M215 293.5h31M160 294.5h1M203 294.5h39M181 295.5h53M161 296.5h62M161 297.5h50M162 298.5h38M162 299.5h13"/>
<path stroke="#5dc8f3" d="M134 117.5h1M138 118.5h2M143 119.5h3M148 120.5h4M154 121.5h3M159 122.5h4M165 123.5h3M170 124.5h4M175 125.5h5M181 126.5h4M186 127.5h5M192 128.5h6M327 128.5h43M199 129.5h131M369 129.5h34M922 129.5h5M404 130.5h32M908 130.5h19M438 131.5h31M895 131.5h24M472 132.5h31M866 132.5h40M506 133.5h31M795 133.5h98M543 134.5h37M762 134.5h36M585 135.5h95M734 135.5h29M699 136.5h35M161 277.5h1M161 278.5h1M161 279.5h2M161 280.5h3M160 281.5h5M159 282.5h6M158 283.5h26M159 284.5h49M159 285.5h77M159 286.5h85M159 287.5h3M163 287.5h82M246 287.5h2M159 288.5h1M164 288.5h87M181 289.5h65M159 290.5h83M159 291.5h77M160 292.5h66M160 293.5h55M161 294.5h42M161 295.5h20"/>
<path stroke="#6bd8f0" d="M135 117.5h3M140 118.5h3M146 119.5h3M152 120.5h3M157 121.5h4M163 122.5h4M168 123.5h5M174 124.5h4M180 125.5h4M185 126.5h5M191 127.5h5M325 127.5h45M924 127.5h3M198 128.5h129M370 128.5h32M911 128.5h16M403 129.5h32M897 129.5h25M436 130.5h31M882 130.5h26M469 131.5h30M837 131.5h58M503 132.5h29M792 132.5h74M537 133.5h37M762 133.5h33M580 134.5h59M735 134.5h27M680 135.5h54M162 287.5h1M160 288.5h4M159 289.5h22"/>
<path stroke="#79e8ed" d="M134 116.5h1M138 117.5h3M143 118.5h4M149 119.5h4M155 120.5h4M161 121.5h4M167 122.5h4M173 123.5h4M178 124.5h5M184 125.5h5M190 126.5h5M322 126.5h48M913 126.5h14M196 127.5h129M370 127.5h32M900 127.5h24M402 128.5h31M886 128.5h25M435 129.5h29M867 129.5h30M467 130.5h29M826 130.5h56M499 131.5h28M790 131.5h47M532 132.5h37M761 132.5h31M574 133.5h40M735 133.5h27M639 134.5h96"/>
<path stroke="#7ceed1" d="M135 116.5h3M141 117.5h3M147 118.5h3M153 119.5h3M159 120.5h3M165 121.5h3M171 122.5h3M177 123.5h3M183 124.5h3M189 125.5h3M915 125.5h12M195 126.5h127M370 126.5h17M902 126.5h11M402 127.5h17M889 127.5h11M433 128.5h18M876 128.5h10M464 129.5h19M834 129.5h33M496 130.5h19M799 130.5h27M527 131.5h26M768 131.5h22M569 132.5h29M743 132.5h18M614 133.5h121"/>
<path stroke="#74e8c3" d="M138 116.5h3M144 117.5h3M150 118.5h3M156 119.5h3M162 120.5h3M168 121.5h3M174 122.5h3M180 123.5h3M186 124.5h3M916 124.5h11M192 125.5h3M326 125.5h46M903 125.5h12M387 126.5h17M891 126.5h11M419 127.5h18M878 127.5h11M451 128.5h19M842 128.5h34M483 129.5h19M807 129.5h27M515 130.5h22M775 130.5h24M553 131.5h28M750 131.5h18M598 132.5h145"/>
<path stroke="#6ce4b5" d="M134 115.5h3M141 116.5h3M147 117.5h3M153 118.5h3M159 119.5h3M165 120.5h3M171 121.5h3M177 122.5h3M183 123.5h3M917 123.5h10M189 124.5h4M905 124.5h11M195 125.5h131M372 125.5h17M893 125.5h10M404 126.5h19M881 126.5h10M437 127.5h19M851 127.5h27M470 128.5h19M814 128.5h28M502 129.5h21M782 129.5h25M537 130.5h28M757 130.5h18M581 131.5h29M732 131.5h18"/>
<path stroke="#64dea7" d="M134 53.5h2M134 54.5h1M134 55.5h1M134 56.5h1M134 57.5h1M134 58.5h1M134 59.5h1M134 60.5h1M137 115.5h3M144 116.5h3M150 117.5h3M156 118.5h3M162 119.5h3M168 120.5h3M174 121.5h3M180 122.5h3M918 122.5h9M186 123.5h4M906 123.5h11M193 124.5h3M329 124.5h44M895 124.5h10M389 125.5h18M883 125.5h10M423 126.5h18M860 126.5h21M456 127.5h20M821 127.5h30M489 128.5h21M790 128.5h24M523 129.5h25M763 129.5h19M565 130.5h29M739 130.5h18M610 131.5h122"/>
<path stroke="#5ada9a" d="M136 53.5h2M135 54.5h2M135 55.5h2M135 56.5h2M135 57.5h2M135 58.5h2M135 59.5h2M135 60.5h2M134 61.5h3M134 62.5h3M134 63.5h1M134 114.5h3M140 115.5h3M147 116.5h3M153 117.5h3M159 118.5h3M165 119.5h3M171 120.5h3M177 121.5h4M919 121.5h8M183 122.5h4M908 122.5h10M190 123.5h3M897 123.5h9M196 124.5h133M373 124.5h19M885 124.5h10M407 125.5h19M869 125.5h14M441 126.5h20M827 126.5h33M476 127.5h20M797 127.5h24M510 128.5h21M770 128.5h20M548 129.5h29M746 129.5h17M594 130.5h145"/>
<path stroke="#4fd68f" d="M138 53.5h2M137 54.5h2M137 55.5h2M137 56.5h2M137 57.5h2M137 58.5h2M137 59.5h2M137 60.5h2M137 61.5h2M135 63.5h1M137 114.5h3M143 115.5h4M150 116.5h3M156 117.5h3M162 118.5h3M168 119.5h3M174 120.5h4M920 120.5h7M181 121.5h3M909 121.5h10M187 122.5h3M898 122.5h10M193 123.5h3M330 123.5h45M888 123.5h9M392 124.5h19M877 124.5h8M426 125.5h20M834 125.5h35M461 126.5h21M804 126.5h23M496 127.5h22M776 127.5h21M531 128.5h29M753 128.5h17M577 129.5h29M718 129.5h28"/>
<path stroke="#43d183" d="M140 53.5h2M139 54.5h2M139 55.5h2M139 56.5h2M139 57.5h2M139 58.5h2M139 59.5h2M139 60.5h1M139 61.5h1M137 62.5h1M134 64.5h1M134 113.5h3M140 114.5h3M147 115.5h3M153 116.5h3M159 117.5h3M165 118.5h3M171 119.5h3M920 119.5h7M178 120.5h3M910 120.5h10M184 121.5h3M900 121.5h9M190 122.5h3M889 122.5h9M196 123.5h134M375 123.5h19M879 123.5h9M411 124.5h20M843 124.5h34M446 125.5h21M811 125.5h23M482 126.5h22M783 126.5h21M518 127.5h25M759 127.5h17M560 128.5h30M736 128.5h17M606 129.5h112"/>
<path stroke="#38cd78" d="M142 53.5h1M141 54.5h2M141 55.5h2M141 56.5h2M141 57.5h2M141 58.5h1M141 59.5h1M140 60.5h2M140 61.5h1M138 62.5h1M136 63.5h1M137 113.5h3M143 114.5h3M150 115.5h3M156 116.5h3M162 117.5h3M168 118.5h3M921 118.5h6M174 119.5h4M911 119.5h9M181 120.5h3M901 120.5h9M187 121.5h3M891 121.5h9M193 122.5h3M332 122.5h45M881 122.5h8M394 123.5h20M853 123.5h26M431 124.5h21M817 124.5h26M467 125.5h22M790 125.5h21M504 126.5h22M766 126.5h17M543 127.5h30M743 127.5h16M590 128.5h28M632 128.5h104"/>
<path stroke="#2dc96d" d="M143 53.5h1M143 54.5h1M143 55.5h1M143 56.5h1M143 57.5h1M142 58.5h2M142 59.5h2M142 60.5h2M141 61.5h1M139 62.5h1M135 64.5h1M134 112.5h3M140 113.5h3M146 114.5h4M153 115.5h3M159 116.5h3M165 117.5h3M922 117.5h5M171 118.5h4M912 118.5h9M178 119.5h3M902 119.5h9M184 120.5h3M893 120.5h8M190 121.5h3M883 121.5h8M196 122.5h136M377 122.5h20M862 122.5h19M414 123.5h21M822 123.5h31M452 124.5h22M797 124.5h20M489 125.5h23M772 125.5h18M526 126.5h30M749 126.5h17M573 127.5h29M700 127.5h43M618 128.5h14"/>
<path stroke="#21c461" d="M144 53.5h1M144 54.5h1M144 55.5h1M144 56.5h1M144 57.5h1M144 58.5h1M144 59.5h1M144 60.5h1M142 61.5h1M140 62.5h1M137 63.5h2M137 112.5h3M143 113.5h3M150 114.5h3M156 115.5h3M162 116.5h3M923 116.5h4M168 117.5h4M913 117.5h9M175 118.5h3M904 118.5h8M181 119.5h3M894 119.5h8M187 120.5h3M885 120.5h8M193 121.5h38M332 121.5h47M872 121.5h11M397 122.5h21M827 122.5h35M435 123.5h23M803 123.5h19M474 124.5h23M778 124.5h19M512 125.5h25M756 125.5h16M556 126.5h30M733 126.5h16M602 127.5h98"/>
<path stroke="#1bc85b" d="M145 53.5h2M145 54.5h2M145 55.5h2M145 56.5h2M145 57.5h2M145 58.5h2M145 59.5h2M145 60.5h1M143 61.5h2M141 62.5h2M139 63.5h1M136 64.5h1M134 111.5h3M140 112.5h3M146 113.5h4M153 114.5h3M159 115.5h3M923 115.5h4M165 116.5h3M914 116.5h9M172 117.5h3M905 117.5h8M178 118.5h3M896 118.5h8M184 119.5h3M886 119.5h8M190 120.5h4M877 120.5h8M231 121.5h101M379 121.5h21M834 121.5h38M418 122.5h23M808 122.5h19M458 123.5h23M784 123.5h19M497 124.5h24M762 124.5h16M537 125.5h32M740 125.5h16M586 126.5h27M644 126.5h89"/>
<path stroke="#16cc56" d="M147 53.5h1M294 53.5h82M147 54.5h1M295 54.5h79M147 55.5h1M296 55.5h75M147 56.5h1M147 57.5h1M147 58.5h1M147 59.5h1M146 60.5h1M145 61.5h1M143 62.5h1M140 63.5h2M137 64.5h1M134 65.5h2M137 111.5h3M143 112.5h3M150 113.5h3M156 114.5h3M924 114.5h3M162 115.5h3M915 115.5h8M168 116.5h4M906 116.5h8M175 117.5h3M897 117.5h8M181 118.5h3M888 118.5h8M187 119.5h4M879 119.5h7M194 120.5h52M333 120.5h49M844 120.5h33M400 121.5h23M814 121.5h20M441 122.5h23M790 122.5h18M481 123.5h24M768 123.5h16M521 124.5h29M746 124.5h16M569 125.5h29M692 125.5h48M613 126.5h31"/>
<path stroke="#11d151" d="M148 53.5h1M285 53.5h9M376 53.5h8M148 54.5h1M282 54.5h13M374 54.5h11M148 55.5h1M272 55.5h24M371 55.5h15M148 56.5h1M269 56.5h120M148 57.5h1M269 57.5h129M148 58.5h1M148 59.5h1M147 60.5h1M146 61.5h2M144 62.5h2M142 63.5h2M138 64.5h2M134 110.5h3M140 111.5h3M146 112.5h4M153 113.5h3M924 113.5h3M159 114.5h3M915 114.5h9M165 115.5h4M907 115.5h8M172 116.5h3M898 116.5h8M178 117.5h3M890 117.5h7M184 118.5h4M881 118.5h7M191 119.5h3M854 119.5h25M246 120.5h87M382 120.5h22M819 120.5h25M423 121.5h23M796 121.5h18M464 122.5h25M774 122.5h16M505 123.5h26M752 123.5h16M550 124.5h32M730 124.5h16M598 125.5h94"/>
<path stroke="#0cd54c" d="M149 53.5h1M276 53.5h9M384 53.5h9M149 54.5h1M269 54.5h13M385 54.5h11M149 55.5h1M268 55.5h4M386 55.5h15M149 56.5h1M268 56.5h1M389 56.5h13M149 57.5h1M268 57.5h1M398 57.5h4M149 58.5h1M268 58.5h134M149 59.5h1M325 59.5h75M148 60.5h1M148 61.5h1M146 62.5h2M144 63.5h2M140 64.5h2M136 65.5h1M137 110.5h3M143 111.5h3M150 112.5h3M925 112.5h2M156 113.5h3M916 113.5h8M162 114.5h3M908 114.5h7M169 115.5h3M899 115.5h8M175 116.5h3M891 116.5h7M181 117.5h4M883 117.5h7M188 118.5h3M865 118.5h16M194 119.5h60M334 119.5h50M823 119.5h31M404 120.5h24M801 120.5h18M446 121.5h25M779 121.5h17M489 122.5h26M758 122.5h16M531 123.5h33M737 123.5h15M582 124.5h27M651 124.5h79"/>
<path stroke="#07d947" d="M150 53.5h2M267 53.5h9M393 53.5h9M150 54.5h2M266 54.5h3M396 54.5h6M150 55.5h1M267 55.5h1M401 55.5h2M150 56.5h1M267 56.5h1M402 56.5h1M150 57.5h1M267 57.5h1M402 57.5h2M150 58.5h1M267 58.5h1M402 58.5h2M150 59.5h1M274 59.5h51M400 59.5h3M149 60.5h1M314 60.5h87M149 61.5h1M148 62.5h2M146 63.5h3M142 64.5h3M137 65.5h3M134 109.5h3M140 110.5h3M146 111.5h3M925 111.5h2M153 112.5h3M917 112.5h8M159 113.5h3M909 113.5h7M165 114.5h4M900 114.5h8M172 115.5h3M892 115.5h7M178 116.5h4M884 116.5h7M185 117.5h3M875 117.5h8M191 118.5h3M828 118.5h37M254 119.5h80M384 119.5h24M806 119.5h17M428 120.5h25M785 120.5h16M471 121.5h27M764 121.5h15M515 122.5h29M743 122.5h15M564 123.5h30M688 123.5h49M609 124.5h42"/>
<path stroke="#02de42" d="M152 53.5h1M262 53.5h5M402 53.5h6M152 54.5h1M262 54.5h4M402 54.5h5M151 55.5h2M262 55.5h5M403 55.5h4M151 56.5h1M262 56.5h5M403 56.5h3M151 57.5h1M263 57.5h4M404 57.5h2M151 58.5h1M264 58.5h3M404 58.5h2M265 59.5h9M403 59.5h2M150 60.5h1M279 60.5h35M401 60.5h3M150 61.5h1M310 61.5h92M150 62.5h1M149 63.5h1M145 64.5h4M140 65.5h3M134 66.5h1M137 109.5h3M143 110.5h3M925 110.5h2M149 111.5h4M917 111.5h8M156 112.5h3M909 112.5h8M162 113.5h4M902 113.5h7M169 114.5h3M894 114.5h6M175 115.5h3M886 115.5h6M182 116.5h3M878 116.5h6M188 117.5h3M835 117.5h40M194 118.5h65M334 118.5h53M811 118.5h17M408 119.5h25M790 119.5h16M453 120.5h26M770 120.5h15M498 121.5h27M749 121.5h15M544 122.5h34M720 122.5h23M594 123.5h94"/>
<path stroke="#15e631" d="M153 53.5h2M260 53.5h2M408 53.5h4M153 54.5h2M260 54.5h2M407 54.5h3M153 55.5h1M260 55.5h2M407 55.5h2M152 56.5h1M261 56.5h1M406 56.5h2M152 57.5h1M262 57.5h1M406 57.5h1M262 58.5h2M151 59.5h1M262 59.5h3M405 59.5h1M151 60.5h1M276 60.5h3M404 60.5h1M305 61.5h5M149 64.5h1M135 66.5h1M134 108.5h3M140 109.5h3M146 110.5h4M920 110.5h5M153 111.5h3M912 111.5h5M159 112.5h3M904 112.5h5M166 113.5h3M896 113.5h6M172 114.5h3M889 114.5h5M178 115.5h4M881 115.5h5M185 116.5h3M860 116.5h18M191 117.5h4M823 117.5h12M259 118.5h75M387 118.5h21M803 118.5h8M433 119.5h20M782 119.5h8M479 120.5h20M761 120.5h9M525 121.5h22M740 121.5h9M578 122.5h18M678 122.5h42"/>
<path stroke="#1fe233" d="M155 53.5h2M259 53.5h1M412 53.5h5M155 54.5h1M259 54.5h1M410 54.5h1M154 55.5h1M409 55.5h1M153 56.5h1M408 56.5h1M152 58.5h1M406 58.5h1M272 60.5h4M405 60.5h1M301 61.5h4M402 61.5h1M327 62.5h73M150 63.5h1M143 65.5h1M137 108.5h3M143 109.5h3M922 109.5h5M150 110.5h3M914 110.5h6M156 111.5h3M907 111.5h5M162 112.5h4M899 112.5h5M169 113.5h3M892 113.5h4M175 114.5h4M884 114.5h5M182 115.5h4M877 115.5h4M188 116.5h4M841 116.5h19M195 117.5h189M815 117.5h8M408 118.5h20M794 118.5h9M453 119.5h20M773 119.5h9M499 120.5h19M752 120.5h9M547 121.5h23M731 121.5h9M596 122.5h19M635 122.5h43"/>
<path stroke="#29de35" d="M157 53.5h1M258 53.5h1M417 53.5h7M156 54.5h1M411 54.5h4M155 55.5h1M410 55.5h1M154 56.5h1M260 56.5h1M409 56.5h1M153 57.5h1M261 57.5h1M407 57.5h1M152 59.5h1M406 59.5h1M269 60.5h3M151 61.5h1M297 61.5h4M323 62.5h4M400 62.5h1M136 66.5h1M134 107.5h3M140 108.5h3M924 108.5h3M146 109.5h4M917 109.5h5M153 110.5h3M909 110.5h5M159 111.5h4M902 111.5h5M166 112.5h3M895 112.5h4M172 113.5h4M887 113.5h5M179 114.5h4M880 114.5h4M186 115.5h3M860 115.5h17M192 116.5h4M827 116.5h14M384 117.5h21M806 117.5h9M428 118.5h20M785 118.5h9M473 119.5h19M764 119.5h9M518 120.5h20M743 120.5h9M570 121.5h20M692 121.5h39M615 122.5h20"/>
<path stroke="#33da37" d="M158 53.5h2M257 53.5h1M424 53.5h6M258 54.5h1M415 54.5h7M259 55.5h1M411 55.5h2M155 56.5h1M410 56.5h1M154 57.5h1M408 57.5h1M153 58.5h1M261 58.5h1M407 58.5h1M153 59.5h1M152 60.5h1M266 60.5h3M294 61.5h3M403 61.5h1M151 62.5h1M319 62.5h4M144 65.5h1M137 107.5h3M926 107.5h1M143 108.5h3M919 108.5h5M150 109.5h3M912 109.5h5M156 110.5h4M905 110.5h4M163 111.5h3M897 111.5h5M169 112.5h4M890 112.5h5M176 113.5h4M883 113.5h4M183 114.5h3M874 114.5h6M189 115.5h4M845 115.5h15M196 116.5h186M818 116.5h9M405 117.5h19M797 117.5h9M448 118.5h19M776 118.5h9M492 119.5h18M755 119.5h9M538 120.5h23M734 120.5h9M590 121.5h19M649 121.5h43"/>
<path stroke="#3ed63c" d="M160 53.5h1M255 53.5h2M430 53.5h7M157 54.5h2M422 54.5h8M156 55.5h1M413 55.5h8M259 56.5h1M411 56.5h1M155 57.5h1M260 57.5h1M409 57.5h1M154 58.5h1M408 58.5h1M407 59.5h1M263 60.5h3M406 60.5h1M152 61.5h1M290 61.5h4M404 61.5h1M315 62.5h4M401 62.5h1M137 66.5h1M134 106.5h2M140 107.5h3M921 107.5h5M146 108.5h4M914 108.5h5M153 109.5h4M907 109.5h5M160 110.5h3M900 110.5h5M166 111.5h4M893 111.5h4M173 112.5h4M886 112.5h4M180 113.5h3M879 113.5h4M186 114.5h4M860 114.5h14M193 115.5h121M831 115.5h14M382 116.5h19M810 116.5h8M424 117.5h18M789 117.5h8M467 118.5h18M767 118.5h9M510 119.5h18M746 119.5h9M561 120.5h23M707 120.5h27M609 121.5h40"/>
<path stroke="#48d242" d="M161 53.5h2M253 53.5h2M437 53.5h7M159 54.5h2M256 54.5h2M430 54.5h7M157 55.5h2M258 55.5h1M421 55.5h8M156 56.5h1M412 56.5h7M410 57.5h1M260 58.5h1M409 58.5h1M154 59.5h1M261 59.5h1M408 59.5h1M153 60.5h1M262 60.5h1M407 60.5h1M287 61.5h3M405 61.5h2M310 62.5h5M402 62.5h1M150 64.5h1M145 65.5h1M138 66.5h1M136 106.5h4M923 106.5h4M143 107.5h4M916 107.5h5M150 108.5h3M909 108.5h5M157 109.5h3M902 109.5h5M163 110.5h4M896 110.5h4M170 111.5h3M889 111.5h4M177 112.5h3M882 112.5h4M183 113.5h4M871 113.5h8M190 114.5h4M848 114.5h12M314 115.5h65M822 115.5h9M401 116.5h19M801 116.5h9M442 117.5h19M780 117.5h9M485 118.5h18M759 118.5h8M528 119.5h24M737 119.5h9M584 120.5h19M663 120.5h44"/>
<path stroke="#54ce4a" d="M163 53.5h2M252 53.5h1M444 53.5h7M161 54.5h2M254 54.5h2M437 54.5h8M159 55.5h2M257 55.5h1M429 55.5h8M157 56.5h1M258 56.5h1M419 56.5h9M156 57.5h1M259 57.5h1M411 57.5h6M155 58.5h1M410 58.5h1M409 59.5h1M154 60.5h1M153 61.5h1M284 61.5h3M307 62.5h3M151 63.5h1M134 105.5h2M925 105.5h2M140 106.5h3M918 106.5h5M147 107.5h3M911 107.5h5M153 108.5h4M905 108.5h4M160 109.5h4M898 109.5h4M167 110.5h3M891 110.5h5M173 111.5h4M885 111.5h4M180 112.5h4M878 112.5h4M187 113.5h4M860 113.5h11M194 114.5h153M837 114.5h11M379 115.5h19M813 115.5h9M420 116.5h18M792 116.5h9M461 117.5h18M771 117.5h9M503 118.5h18M750 118.5h9M552 119.5h25M722 119.5h15M603 120.5h60"/>
<path stroke="#5eca50" d="M165 53.5h2M250 53.5h2M451 53.5h7M163 54.5h2M252 54.5h2M445 54.5h7M161 55.5h2M255 55.5h2M437 55.5h8M158 56.5h3M428 56.5h9M157 57.5h1M417 57.5h10M156 58.5h1M411 58.5h2M155 59.5h1M410 59.5h1M408 60.5h1M281 61.5h3M407 61.5h1M152 62.5h1M303 62.5h4M403 62.5h2M325 63.5h72M139 66.5h1M926 104.5h1M136 105.5h4M920 105.5h5M143 106.5h4M913 106.5h5M150 107.5h4M907 107.5h4M157 108.5h3M900 108.5h5M164 109.5h3M894 109.5h4M170 110.5h4M887 110.5h4M177 111.5h4M881 111.5h4M184 112.5h4M870 112.5h8M191 113.5h3M230 113.5h69M849 113.5h11M347 114.5h31M826 114.5h11M398 115.5h18M804 115.5h9M438 116.5h17M783 116.5h9M479 117.5h18M762 117.5h9M521 118.5h21M741 118.5h9M577 119.5h19M678 119.5h44"/>
<path stroke="#68ca56" d="M167 53.5h2M248 53.5h2M458 53.5h6M165 54.5h2M250 54.5h2M452 54.5h7M163 55.5h2M253 55.5h2M445 55.5h8M161 56.5h2M256 56.5h2M437 56.5h9M158 57.5h3M258 57.5h1M427 57.5h10M157 58.5h1M259 58.5h1M413 58.5h12M156 59.5h1M411 59.5h1M155 60.5h1M261 60.5h1M409 60.5h1M154 61.5h1M278 61.5h3M408 61.5h1M153 62.5h1M300 62.5h3M405 62.5h2M152 63.5h1M321 63.5h4M397 63.5h4M146 65.5h1M134 104.5h2M922 104.5h4M140 105.5h3M915 105.5h5M147 106.5h3M909 106.5h4M154 107.5h3M903 107.5h4M160 108.5h4M896 108.5h4M167 109.5h4M890 109.5h4M174 110.5h4M883 110.5h4M181 111.5h4M877 111.5h4M188 112.5h4M859 112.5h11M194 113.5h36M299 113.5h54M841 113.5h8M378 114.5h17M817 114.5h9M416 115.5h17M796 115.5h8M455 116.5h18M774 116.5h9M497 117.5h17M753 117.5h9M542 118.5h26M732 118.5h9M596 119.5h19M633 119.5h45"/>
<path stroke="#70cc5a" d="M169 53.5h2M247 53.5h1M464 53.5h7M167 54.5h2M249 54.5h1M459 54.5h8M165 55.5h3M251 55.5h2M453 55.5h9M163 56.5h3M254 56.5h2M446 56.5h9M161 57.5h2M437 57.5h10M158 58.5h2M425 58.5h12M157 59.5h1M259 59.5h2M412 59.5h11M156 60.5h1M410 60.5h2M155 61.5h1M275 61.5h3M409 61.5h1M297 62.5h3M407 62.5h1M317 63.5h4M401 63.5h2M140 66.5h1M924 103.5h3M136 104.5h4M917 104.5h5M143 105.5h4M911 105.5h4M150 106.5h4M905 106.5h4M157 107.5h4M898 107.5h5M164 108.5h4M892 108.5h4M171 109.5h4M886 109.5h4M178 110.5h4M880 110.5h3M185 111.5h3M868 111.5h9M192 112.5h135M851 112.5h8M353 113.5h23M829 113.5h12M395 114.5h18M808 114.5h9M433 115.5h17M787 115.5h9M473 116.5h18M765 116.5h9M514 117.5h18M744 117.5h9M568 118.5h22M693 118.5h39M615 119.5h18"/>
<path stroke="#78d05e" d="M171 53.5h1M245 53.5h2M471 53.5h6M169 54.5h2M247 54.5h2M467 54.5h7M168 55.5h2M249 55.5h2M462 55.5h7M166 56.5h2M251 56.5h3M455 56.5h9M163 57.5h3M255 57.5h3M447 57.5h10M160 58.5h3M258 58.5h1M437 58.5h11M158 59.5h2M423 59.5h14M157 60.5h1M412 60.5h9M156 61.5h1M273 61.5h2M410 61.5h1M154 62.5h1M294 62.5h3M408 62.5h1M314 63.5h3M151 64.5h1M147 65.5h1M134 67.5h1M925 102.5h2M134 103.5h2M919 103.5h5M140 104.5h3M913 104.5h4M147 105.5h3M907 105.5h4M154 106.5h3M901 106.5h4M161 107.5h3M895 107.5h3M168 108.5h3M888 108.5h4M175 109.5h3M882 109.5h4M182 110.5h3M876 110.5h4M188 111.5h4M268 111.5h21M859 111.5h9M327 112.5h27M843 112.5h8M376 113.5h17M821 113.5h8M413 114.5h16M799 114.5h9M450 115.5h17M778 115.5h9M491 116.5h17M756 116.5h9M532 117.5h26M735 117.5h9M590 118.5h19M648 118.5h45"/>
<path stroke="#80d262" d="M172 53.5h2M243 53.5h2M477 53.5h7M171 54.5h2M245 54.5h2M474 54.5h7M170 55.5h2M246 55.5h3M469 55.5h9M168 56.5h2M249 56.5h2M464 56.5h9M166 57.5h2M252 57.5h3M457 57.5h11M163 58.5h3M257 58.5h1M448 58.5h13M160 59.5h3M258 59.5h1M437 59.5h13M158 60.5h1M260 60.5h1M421 60.5h15M157 61.5h1M270 61.5h3M411 61.5h4M155 62.5h2M292 62.5h2M409 62.5h2M153 63.5h1M311 63.5h3M403 63.5h2M141 66.5h1M921 102.5h4M136 103.5h4M915 103.5h4M143 104.5h4M909 104.5h4M150 105.5h4M903 105.5h4M157 106.5h4M897 106.5h4M164 107.5h4M891 107.5h4M171 108.5h4M885 108.5h3M178 109.5h4M879 109.5h3M185 110.5h4M867 110.5h9M192 111.5h76M289 111.5h47M851 111.5h8M354 112.5h20M834 112.5h9M393 113.5h16M812 113.5h9M429 114.5h16M790 114.5h9M467 115.5h18M769 115.5h9M508 116.5h16M747 116.5h9M558 117.5h25M709 117.5h26M609 118.5h39"/>
<path stroke="#88d766" d="M174 53.5h2M242 53.5h1M484 53.5h7M173 54.5h2M243 54.5h2M481 54.5h8M172 55.5h2M244 55.5h2M478 55.5h8M170 56.5h3M246 56.5h3M473 56.5h10M168 57.5h4M249 57.5h3M468 57.5h11M166 58.5h3M253 58.5h4M461 58.5h12M163 59.5h3M450 59.5h14M159 60.5h4M436 60.5h17M268 61.5h2M415 61.5h20M289 62.5h3M411 62.5h1M154 63.5h1M308 63.5h3M405 63.5h5M135 67.5h1M922 101.5h5M134 102.5h2M917 102.5h4M140 103.5h3M911 103.5h4M147 104.5h4M905 104.5h4M154 105.5h4M899 105.5h4M161 106.5h4M893 106.5h4M168 107.5h4M887 107.5h4M175 108.5h4M881 108.5h4M182 109.5h4M874 109.5h5M189 110.5h4M218 110.5h104M859 110.5h8M336 111.5h20M844 111.5h7M374 112.5h16M824 112.5h10M409 113.5h17M803 113.5h9M445 114.5h17M781 114.5h9M485 115.5h16M760 115.5h9M524 116.5h23M738 116.5h9M583 117.5h20M663 117.5h46"/>
<path stroke="#90dc69" d="M176 53.5h2M240 53.5h2M491 53.5h6M175 54.5h2M241 54.5h2M489 54.5h6M174 55.5h3M241 55.5h3M486 55.5h7M173 56.5h2M243 56.5h3M483 56.5h8M172 57.5h2M245 57.5h4M479 57.5h10M169 58.5h3M249 58.5h4M473 58.5h12M166 59.5h4M255 59.5h3M464 59.5h16M163 60.5h4M258 60.5h2M453 60.5h17M158 61.5h4M266 61.5h2M435 61.5h22M157 62.5h1M287 62.5h2M412 62.5h23M155 63.5h1M305 63.5h3M410 63.5h2M152 64.5h1M323 64.5h47M148 65.5h1M142 66.5h1M924 100.5h3M918 101.5h4M136 102.5h4M912 102.5h5M143 103.5h4M907 103.5h4M151 104.5h3M901 104.5h4M158 105.5h3M895 105.5h4M165 106.5h4M889 106.5h4M172 107.5h4M884 107.5h3M179 108.5h4M878 108.5h3M186 109.5h4M281 109.5h1M866 109.5h8M193 110.5h25M322 110.5h19M852 110.5h7M356 111.5h16M837 111.5h7M390 112.5h17M815 112.5h9M426 113.5h15M794 113.5h9M462 114.5h17M772 114.5h9M501 115.5h16M751 115.5h9M547 116.5h28M725 116.5h13M603 117.5h60"/>
<path stroke="#98e16c" d="M178 53.5h2M238 53.5h2M497 53.5h6M177 54.5h2M238 54.5h3M495 54.5h6M177 55.5h2M239 55.5h2M493 55.5h7M175 56.5h3M240 56.5h3M491 56.5h7M174 57.5h4M241 57.5h4M489 57.5h7M172 58.5h4M245 58.5h4M485 58.5h9M170 59.5h4M251 59.5h4M480 59.5h11M167 60.5h4M470 60.5h18M162 61.5h5M264 61.5h2M457 61.5h26M158 62.5h4M284 62.5h3M435 62.5h29M156 63.5h2M302 63.5h3M412 63.5h21M153 64.5h1M320 64.5h3M370 64.5h32M136 67.5h1M926 99.5h1M920 100.5h4M134 101.5h2M914 101.5h4M140 102.5h3M909 102.5h3M147 103.5h4M903 103.5h4M154 104.5h4M897 104.5h4M161 105.5h4M892 105.5h3M169 106.5h3M886 106.5h3M176 107.5h4M880 107.5h4M183 108.5h4M872 108.5h6M190 109.5h4M201 109.5h80M282 109.5h47M859 109.5h7M341 110.5h15M846 110.5h6M372 111.5h16M828 111.5h9M407 112.5h15M806 112.5h9M441 113.5h16M785 113.5h9M479 114.5h16M763 114.5h9M517 115.5h19M741 115.5h10M575 116.5h21M678 116.5h47"/>
<path stroke="#a0e66f" d="M180 53.5h1M236 53.5h2M503 53.5h7M179 54.5h2M236 54.5h2M501 54.5h7M179 55.5h1M236 55.5h3M500 55.5h6M178 56.5h2M237 56.5h3M498 56.5h6M178 57.5h2M238 57.5h3M496 57.5h6M176 58.5h3M239 58.5h6M494 58.5h6M174 59.5h4M243 59.5h8M491 59.5h7M171 60.5h6M253 60.5h5M488 60.5h8M167 61.5h6M262 61.5h2M483 61.5h11M162 62.5h5M282 62.5h2M464 62.5h27M158 63.5h3M300 63.5h2M433 63.5h55M154 64.5h1M317 64.5h3M402 64.5h26M137 67.5h1M921 99.5h5M916 100.5h4M136 101.5h4M910 101.5h4M143 102.5h4M905 102.5h4M151 103.5h3M899 103.5h4M158 104.5h4M894 104.5h3M165 105.5h4M888 105.5h4M172 106.5h4M883 106.5h3M180 107.5h4M877 107.5h3M187 108.5h4M242 108.5h70M865 108.5h7M194 109.5h7M329 109.5h15M853 109.5h6M356 110.5h15M840 110.5h6M388 111.5h16M819 111.5h9M422 112.5h15M797 112.5h9M457 113.5h16M776 113.5h9M495 114.5h16M754 114.5h9M536 115.5h29M732 115.5h9M596 116.5h20M632 116.5h46"/>
<path stroke="#beef5d" d="M181 53.5h4M234 53.5h2M510 53.5h6M181 54.5h3M234 54.5h2M508 54.5h2M180 55.5h4M235 55.5h1M506 55.5h2M180 56.5h3M235 56.5h2M504 56.5h2M180 57.5h3M235 57.5h3M502 57.5h2M179 58.5h3M235 58.5h4M500 58.5h1M178 59.5h1M240 59.5h3M498 59.5h1M177 60.5h1M250 60.5h3M496 60.5h1M173 61.5h2M260 61.5h2M494 61.5h1M167 62.5h1M277 62.5h5M491 62.5h2M161 63.5h1M296 63.5h4M488 63.5h1M155 64.5h2M313 64.5h4M428 64.5h18M149 65.5h2M143 66.5h2M138 67.5h2M924 97.5h3M919 98.5h8M915 99.5h6M134 100.5h5M910 100.5h6M140 101.5h6M905 101.5h5M147 102.5h6M900 102.5h5M154 103.5h6M895 103.5h4M162 104.5h6M890 104.5h4M169 105.5h7M885 105.5h3M176 106.5h8M879 106.5h4M184 107.5h7M240 107.5h49M870 107.5h7M191 108.5h51M312 108.5h28M858 108.5h7M344 109.5h22M846 109.5h7M371 110.5h26M831 110.5h9M404 111.5h24M810 111.5h9M437 112.5h23M788 112.5h9M473 113.5h22M766 113.5h10M511 114.5h18M744 114.5h10M565 115.5h26M697 115.5h35M616 116.5h16"/>
<path stroke="#caed57" d="M185 53.5h3M232 53.5h2M516 53.5h11M184 54.5h3M233 54.5h1M510 54.5h5M184 55.5h3M233 55.5h2M508 55.5h2M183 56.5h3M233 56.5h2M506 56.5h2M183 57.5h3M233 57.5h2M504 57.5h1M182 58.5h3M234 58.5h1M501 58.5h2M238 59.5h2M499 59.5h2M178 60.5h1M248 60.5h2M497 60.5h2M175 61.5h1M258 61.5h2M495 61.5h1M168 62.5h2M273 62.5h4M493 62.5h1M162 63.5h2M291 63.5h5M489 63.5h1M157 64.5h1M309 64.5h4M446 64.5h30M151 65.5h2M145 66.5h2M140 67.5h2M134 68.5h3M926 95.5h1M922 96.5h5M917 97.5h7M913 98.5h6M134 99.5h5M909 99.5h6M139 100.5h6M905 100.5h5M146 101.5h6M901 101.5h4M153 102.5h6M896 102.5h4M160 103.5h6M891 103.5h4M168 104.5h7M886 104.5h4M176 105.5h8M881 105.5h4M184 106.5h8M211 106.5h34M246 106.5h1M248 106.5h3M252 106.5h1M875 106.5h4M191 107.5h49M289 107.5h47M863 107.5h7M340 108.5h22M852 108.5h6M366 109.5h26M840 109.5h6M397 110.5h24M822 110.5h9M428 111.5h22M800 111.5h10M460 112.5h21M778 112.5h10M495 113.5h18M756 113.5h10M529 114.5h32M734 114.5h10M591 115.5h21M646 115.5h51"/>
<path stroke="#d6e951" d="M188 53.5h3M230 53.5h2M527 53.5h11M187 54.5h4M231 54.5h2M515 54.5h12M187 55.5h3M231 55.5h2M510 55.5h5M186 56.5h3M231 56.5h2M508 56.5h2M186 57.5h3M231 57.5h2M505 57.5h2M185 58.5h3M232 58.5h2M503 58.5h2M179 59.5h1M183 59.5h5M236 59.5h2M501 59.5h1M245 60.5h3M499 60.5h1M176 61.5h2M255 61.5h3M496 61.5h2M170 62.5h1M268 62.5h5M494 62.5h1M164 63.5h1M287 63.5h4M490 63.5h2M158 64.5h1M305 64.5h4M476 64.5h11M153 65.5h1M322 65.5h49M147 66.5h2M142 67.5h2M137 68.5h2M924 94.5h3M920 95.5h6M916 96.5h6M912 97.5h5M134 98.5h4M908 98.5h5M139 99.5h6M905 99.5h4M145 100.5h6M901 100.5h4M152 101.5h6M898 101.5h3M159 102.5h6M893 102.5h3M166 103.5h8M888 103.5h3M175 104.5h9M883 104.5h3M184 105.5h9M203 105.5h41M877 105.5h4M192 106.5h19M245 106.5h1M247 106.5h1M251 106.5h1M253 106.5h79M868 106.5h7M336 107.5h23M857 107.5h6M362 108.5h25M846 108.5h6M392 109.5h22M834 109.5h6M421 110.5h20M813 110.5h9M450 111.5h20M791 111.5h9M481 112.5h18M768 112.5h10M513 113.5h15M746 113.5h10M561 114.5h27M713 114.5h21M612 115.5h34"/>
<path stroke="#e2e34b" d="M191 53.5h4M228 53.5h2M538 53.5h9M191 54.5h3M228 54.5h3M527 54.5h11M190 55.5h3M229 55.5h2M515 55.5h12M189 56.5h3M229 56.5h2M510 56.5h4M189 57.5h3M229 57.5h2M507 57.5h3M188 58.5h3M229 58.5h3M505 58.5h2M180 59.5h3M188 59.5h2M235 59.5h1M502 59.5h2M179 60.5h1M242 60.5h3M500 60.5h2M178 61.5h1M253 61.5h2M498 61.5h1M171 62.5h1M264 62.5h4M495 62.5h1M165 63.5h1M283 63.5h4M492 63.5h1M159 64.5h1M301 64.5h4M487 64.5h1M154 65.5h1M318 65.5h4M371 65.5h56M149 66.5h1M144 67.5h2M139 68.5h1M134 69.5h2M925 92.5h2M922 93.5h5M918 94.5h6M915 95.5h5M911 96.5h5M134 97.5h4M908 97.5h4M138 98.5h6M905 98.5h3M145 99.5h5M902 99.5h3M151 100.5h5M898 100.5h3M158 101.5h5M894 101.5h4M165 102.5h8M890 102.5h3M174 103.5h10M885 103.5h3M184 104.5h10M196 104.5h48M880 104.5h3M193 105.5h10M244 105.5h84M872 105.5h5M332 106.5h23M862 106.5h6M359 107.5h24M851 107.5h6M387 108.5h21M841 108.5h5M414 109.5h20M826 109.5h8M441 110.5h19M803 110.5h10M470 111.5h17M781 111.5h10M499 112.5h15M758 112.5h10M528 113.5h29M736 113.5h10M588 114.5h21M664 114.5h49"/>
<path stroke="#ecdc44" d="M195 53.5h6M222 53.5h6M547 53.5h4M194 54.5h5M223 54.5h5M538 54.5h9M193 55.5h5M225 55.5h4M527 55.5h12M192 56.5h4M226 56.5h3M514 56.5h13M192 57.5h3M226 57.5h3M510 57.5h4M191 58.5h3M227 58.5h2M507 58.5h3M190 59.5h3M234 59.5h1M504 59.5h3M240 60.5h2M502 60.5h1M250 61.5h3M499 61.5h2M172 62.5h2M261 62.5h3M496 62.5h2M166 63.5h1M279 63.5h4M493 63.5h2M160 64.5h1M296 64.5h5M488 64.5h2M155 65.5h1M314 65.5h4M427 65.5h20M150 66.5h2M146 67.5h1M140 68.5h2M136 69.5h2M926 90.5h1M923 91.5h4M920 92.5h5M916 93.5h6M913 94.5h5M910 95.5h5M134 96.5h4M907 96.5h4M138 97.5h5M905 97.5h3M144 98.5h5M902 98.5h3M150 99.5h5M899 99.5h3M156 100.5h6M895 100.5h3M163 101.5h9M891 101.5h3M173 102.5h11M886 102.5h4M184 103.5h60M882 103.5h3M194 104.5h2M244 104.5h79M876 104.5h4M328 105.5h23M866 105.5h6M355 106.5h24M856 106.5h6M383 107.5h20M846 107.5h5M408 108.5h19M835 108.5h6M434 109.5h17M816 109.5h10M460 110.5h17M794 110.5h9M487 111.5h15M771 111.5h10M514 112.5h13M748 112.5h10M557 113.5h27M721 113.5h15M609 114.5h55"/>
<path stroke="#f4d43c" d="M201 53.5h7M215 53.5h7M551 53.5h5M199 54.5h8M217 54.5h6M547 54.5h5M198 55.5h7M218 55.5h7M539 55.5h8M196 56.5h7M220 56.5h6M527 56.5h13M195 57.5h6M221 57.5h5M514 57.5h13M194 58.5h6M222 58.5h5M510 58.5h3M193 59.5h5M224 59.5h10M507 59.5h2M182 60.5h6M237 60.5h3M503 60.5h3M247 61.5h3M501 61.5h2M174 62.5h2M259 62.5h2M498 62.5h1M167 63.5h2M274 63.5h5M495 63.5h1M161 64.5h1M292 64.5h4M490 64.5h2M156 65.5h1M310 65.5h4M447 65.5h29M152 66.5h1M147 67.5h2M142 68.5h2M138 69.5h1M134 70.5h1M925 89.5h2M921 90.5h5M918 91.5h5M915 92.5h5M912 93.5h4M910 94.5h3M134 95.5h3M907 95.5h3M138 96.5h5M904 96.5h3M143 97.5h5M902 97.5h3M149 98.5h5M899 98.5h3M155 99.5h6M896 99.5h3M162 100.5h9M892 100.5h3M172 101.5h12M888 101.5h3M184 102.5h60M884 102.5h2M244 103.5h42M878 103.5h4M323 104.5h24M869 104.5h7M351 105.5h25M860 105.5h6M379 106.5h19M851 106.5h5M403 107.5h18M841 107.5h5M427 108.5h17M830 108.5h5M451 109.5h16M807 109.5h9M477 110.5h14M784 110.5h10M502 111.5h13M760 111.5h11M527 112.5h27M737 112.5h11M584 113.5h21M691 113.5h30"/>
<path stroke="#facd34" d="M208 53.5h7M556 53.5h4M207 54.5h10M552 54.5h5M205 55.5h13M547 55.5h6M203 56.5h7M214 56.5h6M540 56.5h8M201 57.5h7M215 57.5h6M527 57.5h13M200 58.5h7M216 58.5h6M513 58.5h15M198 59.5h7M218 59.5h6M509 59.5h3M180 60.5h2M188 60.5h3M235 60.5h2M506 60.5h3M179 61.5h1M245 61.5h2M503 61.5h2M176 62.5h1M256 62.5h3M499 62.5h3M169 63.5h1M270 63.5h4M496 63.5h2M162 64.5h2M288 64.5h4M492 64.5h2M157 65.5h1M306 65.5h4M476 65.5h12M153 66.5h1M324 66.5h14M149 67.5h1M144 68.5h2M139 69.5h2M135 70.5h2M925 87.5h2M923 88.5h4M920 89.5h5M917 90.5h4M914 91.5h4M912 92.5h3M909 93.5h3M134 94.5h3M907 94.5h3M137 95.5h5M904 95.5h3M143 96.5h4M902 96.5h2M148 97.5h5M900 97.5h2M154 98.5h5M897 98.5h2M161 99.5h8M893 99.5h3M171 100.5h14M889 100.5h3M184 101.5h60M885 101.5h3M244 102.5h37M880 102.5h4M286 103.5h56M873 103.5h5M347 104.5h26M864 104.5h5M376 105.5h18M855 105.5h5M398 106.5h18M846 106.5h5M421 107.5h16M836 107.5h5M444 108.5h15M820 108.5h10M467 109.5h15M797 109.5h10M491 110.5h13M773 110.5h11M515 111.5h12M750 111.5h10M554 112.5h27M725 112.5h12M605 113.5h86"/>
<path stroke="#fdc72c" d="M560 53.5h5M557 54.5h5M553 55.5h5M210 56.5h4M548 56.5h6M208 57.5h7M540 57.5h8M207 58.5h9M528 58.5h13M205 59.5h13M512 59.5h16M191 60.5h3M234 60.5h1M509 60.5h3M180 61.5h1M242 61.5h3M505 61.5h4M177 62.5h2M253 62.5h3M502 62.5h3M170 63.5h2M266 63.5h4M498 63.5h2M164 64.5h1M283 64.5h5M494 64.5h2M158 65.5h1M302 65.5h4M488 65.5h2M154 66.5h1M320 66.5h4M338 66.5h89M150 67.5h1M146 68.5h1M141 69.5h2M137 70.5h2M134 71.5h1M926 85.5h1M924 86.5h3M921 87.5h4M918 88.5h5M915 89.5h5M913 90.5h4M910 91.5h4M908 92.5h4M134 93.5h3M906 93.5h3M137 94.5h5M904 94.5h3M142 95.5h5M902 95.5h2M147 96.5h5M899 96.5h3M153 97.5h5M897 97.5h3M159 98.5h7M894 98.5h3M169 99.5h16M890 99.5h3M185 100.5h59M886 100.5h3M244 101.5h31M882 101.5h3M281 102.5h57M876 102.5h4M342 103.5h27M867 103.5h6M373 104.5h17M859 104.5h5M394 105.5h17M850 105.5h5M416 106.5h15M841 106.5h5M437 107.5h15M831 107.5h5M459 108.5h14M810 108.5h10M482 109.5h13M786 109.5h11M504 110.5h12M763 110.5h10M527 111.5h23M739 111.5h11M581 112.5h21M709 112.5h16"/>
<path stroke="#ffc226" d="M565 53.5h4M562 54.5h5M558 55.5h5M554 56.5h5M548 57.5h7M541 58.5h9M528 59.5h14M194 60.5h7M226 60.5h8M512 60.5h16M181 61.5h7M238 61.5h4M509 61.5h3M179 62.5h1M250 62.5h3M505 62.5h3M172 63.5h2M262 63.5h4M500 63.5h3M165 64.5h1M279 64.5h4M496 64.5h2M159 65.5h1M297 65.5h5M490 65.5h2M155 66.5h1M316 66.5h4M427 66.5h21M151 67.5h1M147 68.5h1M143 69.5h1M139 70.5h1M135 71.5h1M926 83.5h1M924 84.5h3M922 85.5h4M919 86.5h5M917 87.5h4M914 88.5h4M912 89.5h3M910 90.5h3M908 91.5h2M134 92.5h2M906 92.5h2M137 93.5h4M903 93.5h3M142 94.5h4M902 94.5h2M147 95.5h4M899 95.5h3M152 96.5h5M898 96.5h1M158 97.5h6M895 97.5h2M166 98.5h19M212 98.5h6M891 98.5h3M185 99.5h59M888 99.5h2M244 100.5h27M884 100.5h2M275 101.5h58M878 101.5h4M338 102.5h26M871 102.5h5M369 103.5h18M863 103.5h4M390 104.5h16M854 104.5h5M411 105.5h15M846 105.5h4M431 106.5h15M837 106.5h4M452 107.5h14M823 107.5h8M473 108.5h13M800 108.5h10M495 109.5h11M776 109.5h10M516 110.5h10M752 110.5h11M550 111.5h27M728 111.5h11M602 112.5h23M633 112.5h76"/>
<path stroke="#ffbc22" d="M569 53.5h4M567 54.5h4M563 55.5h5M559 56.5h6M555 57.5h6M550 58.5h6M542 59.5h8M201 60.5h7M217 60.5h1M219 60.5h7M528 60.5h15M188 61.5h4M235 61.5h3M512 61.5h17M247 62.5h3M508 62.5h4M174 63.5h1M260 63.5h2M503 63.5h4M166 64.5h2M275 64.5h4M498 64.5h3M160 65.5h1M293 65.5h4M492 65.5h3M156 66.5h1M312 66.5h4M448 66.5h28M152 67.5h1M148 68.5h2M144 69.5h2M140 70.5h2M136 71.5h2M925 82.5h2M923 83.5h3M920 84.5h4M918 85.5h4M915 86.5h4M912 87.5h5M911 88.5h3M909 89.5h3M907 90.5h3M134 91.5h2M905 91.5h3M136 92.5h5M903 92.5h3M141 93.5h5M901 93.5h2M146 94.5h4M900 94.5h2M151 95.5h4M898 95.5h1M157 96.5h5M896 96.5h2M164 97.5h21M207 97.5h14M892 97.5h3M185 98.5h27M218 98.5h26M889 98.5h2M244 99.5h24M885 99.5h3M271 100.5h19M301 100.5h27M881 100.5h3M333 101.5h27M874 101.5h4M364 102.5h20M866 102.5h5M387 103.5h16M858 103.5h5M406 104.5h15M850 104.5h4M426 105.5h14M841 105.5h5M446 106.5h13M833 106.5h4M466 107.5h12M813 107.5h10M486 108.5h12M789 108.5h11M506 109.5h11M765 109.5h11M526 110.5h21M741 110.5h11M577 111.5h21M715 111.5h13M625 112.5h8"/>
<path stroke="#ffb81e" d="M573 53.5h2M571 54.5h3M568 55.5h4M565 56.5h5M561 57.5h6M556 58.5h6M550 59.5h7M208 60.5h9M218 60.5h1M543 60.5h9M192 61.5h5M234 61.5h1M529 61.5h15M180 62.5h1M244 62.5h3M512 62.5h17M175 63.5h2M257 63.5h3M507 63.5h4M168 64.5h1M272 64.5h3M501 64.5h4M161 65.5h1M288 65.5h5M495 65.5h3M157 66.5h1M308 66.5h4M476 66.5h14M153 67.5h1M150 68.5h1M146 69.5h1M142 70.5h1M138 71.5h2M134 72.5h2M925 80.5h2M923 81.5h4M921 82.5h4M919 83.5h4M916 84.5h4M914 85.5h4M912 86.5h3M910 87.5h2M908 88.5h3M906 89.5h3M134 90.5h2M905 90.5h2M136 91.5h5M903 91.5h2M141 92.5h4M901 92.5h2M146 93.5h4M899 93.5h2M150 94.5h4M898 94.5h2M155 95.5h6M896 95.5h2M162 96.5h25M201 96.5h23M893 96.5h3M185 97.5h22M221 97.5h23M890 97.5h2M244 98.5h22M886 98.5h3M268 99.5h17M316 99.5h6M883 99.5h2M290 100.5h11M328 100.5h27M877 100.5h4M360 101.5h21M869 101.5h5M384 102.5h15M861 102.5h5M403 103.5h14M853 103.5h5M421 104.5h14M845 104.5h5M440 105.5h13M838 105.5h3M459 106.5h12M827 106.5h6M478 107.5h11M803 107.5h10M498 108.5h10M779 108.5h10M517 109.5h9M754 109.5h11M547 110.5h27M730 110.5h11M598 111.5h21M673 111.5h42"/>
<path stroke="#ffb21a" d="M575 53.5h3M574 54.5h3M572 55.5h3M570 56.5h4M567 57.5h5M562 58.5h7M557 59.5h7M552 60.5h7M197 61.5h8M228 61.5h6M544 61.5h9M181 62.5h7M241 62.5h3M529 62.5h16M177 63.5h2M254 63.5h3M511 63.5h19M169 64.5h2M268 64.5h4M505 64.5h6M162 65.5h2M284 65.5h4M498 65.5h5M158 66.5h1M303 66.5h5M490 66.5h4M154 67.5h1M323 67.5h103M151 68.5h1M147 69.5h1M143 70.5h1M140 71.5h1M136 72.5h1M926 78.5h1M924 79.5h3M922 80.5h3M920 81.5h3M918 82.5h3M915 83.5h4M913 84.5h3M911 85.5h3M909 86.5h3M908 87.5h2M906 88.5h2M134 89.5h2M904 89.5h2M136 90.5h5M903 90.5h2M141 91.5h4M901 91.5h2M145 92.5h4M899 92.5h2M150 93.5h4M898 93.5h1M154 94.5h6M896 94.5h2M161 95.5h30M197 95.5h29M894 95.5h2M187 96.5h14M224 96.5h20M890 96.5h3M244 97.5h19M887 97.5h3M266 98.5h16M884 98.5h2M285 99.5h31M322 99.5h28M879 99.5h4M355 100.5h23M872 100.5h5M381 101.5h14M864 101.5h5M399 102.5h14M857 102.5h4M417 103.5h13M849 103.5h4M435 104.5h12M842 104.5h3M453 105.5h12M834 105.5h4M471 106.5h11M817 106.5h10M489 107.5h11M792 107.5h11M508 108.5h9M768 108.5h11M526 109.5h19M743 109.5h11M574 110.5h21M719 110.5h11M619 111.5h54"/>
<path stroke="#ffad17" d="M578 53.5h3M924 53.5h3M577 54.5h3M925 54.5h2M575 55.5h4M926 55.5h1M574 56.5h4M572 57.5h4M569 58.5h5M564 59.5h7M559 60.5h7M205 61.5h7M213 61.5h1M215 61.5h1M222 61.5h6M553 61.5h8M188 62.5h5M237 62.5h4M545 62.5h10M179 63.5h1M251 63.5h3M530 63.5h16M171 64.5h2M264 64.5h4M511 64.5h19M164 65.5h1M280 65.5h4M503 65.5h7M298 66.5h5M494 66.5h4M155 67.5h1M318 67.5h5M426 67.5h23M152 68.5h1M148 69.5h1M144 70.5h2M141 71.5h1M137 72.5h2M134 73.5h2M925 77.5h2M923 78.5h3M921 79.5h3M918 80.5h4M916 81.5h4M914 82.5h4M912 83.5h3M910 84.5h3M908 85.5h3M907 86.5h2M905 87.5h3M134 88.5h2M904 88.5h2M136 89.5h4M902 89.5h2M141 90.5h3M901 90.5h2M145 91.5h4M899 91.5h2M149 92.5h4M898 92.5h1M154 93.5h5M896 93.5h2M160 94.5h67M895 94.5h1M191 95.5h6M226 95.5h18M891 95.5h3M244 96.5h18M888 96.5h2M263 97.5h16M885 97.5h2M282 98.5h63M881 98.5h3M350 99.5h26M875 99.5h4M378 100.5h14M867 100.5h5M395 101.5h14M860 101.5h4M413 102.5h12M853 102.5h4M430 103.5h12M845 103.5h4M447 104.5h12M838 104.5h4M465 105.5h11M830 105.5h4M482 106.5h10M806 106.5h11M500 107.5h9M782 107.5h10M517 108.5h9M757 108.5h11M545 109.5h25M732 109.5h11M595 110.5h20M708 110.5h11"/>
<path stroke="#ffa815" d="M581 53.5h3M921 53.5h3M580 54.5h3M922 54.5h3M579 55.5h2M922 55.5h4M578 56.5h2M923 56.5h4M576 57.5h3M924 57.5h3M574 58.5h4M925 58.5h2M571 59.5h5M926 59.5h1M566 60.5h7M212 61.5h1M214 61.5h1M216 61.5h6M561 61.5h8M193 62.5h7M234 62.5h3M555 62.5h8M180 63.5h2M247 63.5h4M546 63.5h10M173 64.5h2M261 64.5h3M530 64.5h16M165 65.5h2M277 65.5h3M510 65.5h21M159 66.5h1M294 66.5h4M498 66.5h9M156 67.5h1M314 67.5h4M449 67.5h27M149 69.5h1M146 70.5h1M142 71.5h2M139 72.5h1M136 73.5h1M925 75.5h2M923 76.5h4M921 77.5h4M919 78.5h4M917 79.5h4M915 80.5h3M913 81.5h3M911 82.5h3M909 83.5h3M907 84.5h3M906 85.5h2M905 86.5h2M134 87.5h2M903 87.5h2M136 88.5h4M902 88.5h2M140 89.5h4M900 89.5h2M144 90.5h4M899 90.5h2M149 91.5h3M897 91.5h2M153 92.5h4M896 92.5h2M159 93.5h5M176 93.5h53M895 93.5h1M227 94.5h17M892 94.5h3M244 95.5h16M889 95.5h2M262 96.5h14M886 96.5h2M279 97.5h12M294 97.5h46M883 97.5h2M345 98.5h29M877 98.5h4M376 99.5h14M870 99.5h5M392 100.5h13M863 100.5h4M409 101.5h12M856 101.5h4M425 102.5h12M849 102.5h4M442 103.5h11M842 103.5h3M459 104.5h10M834 104.5h4M476 105.5h10M821 105.5h9M492 106.5h10M796 106.5h10M509 107.5h9M771 107.5h11M526 108.5h16M746 108.5h11M570 109.5h21M722 109.5h10M615 110.5h93"/>
<path stroke="#ffa313" d="M584 53.5h2M918 53.5h3M583 54.5h2M918 54.5h4M581 55.5h3M919 55.5h3M580 56.5h3M919 56.5h4M579 57.5h3M919 57.5h5M578 58.5h3M920 58.5h5M576 59.5h4M921 59.5h5M573 60.5h6M921 60.5h6M569 61.5h8M922 61.5h5M200 62.5h8M229 62.5h5M563 62.5h10M925 62.5h2M182 63.5h6M243 63.5h4M556 63.5h10M175 64.5h2M258 64.5h3M546 64.5h13M167 65.5h1M273 65.5h4M531 65.5h17M160 66.5h1M289 66.5h5M507 66.5h24M157 67.5h1M309 67.5h5M476 67.5h23M153 68.5h1M150 69.5h1M147 70.5h1M144 71.5h1M140 72.5h2M137 73.5h2M926 73.5h1M134 74.5h1M924 74.5h3M922 75.5h3M920 76.5h3M918 77.5h3M916 78.5h3M914 79.5h3M911 80.5h4M910 81.5h3M908 82.5h3M907 83.5h2M905 84.5h2M904 85.5h2M134 86.5h2M903 86.5h2M136 87.5h4M901 87.5h2M140 88.5h4M900 88.5h2M144 89.5h4M899 89.5h1M148 90.5h4M897 90.5h2M152 91.5h4M896 91.5h1M157 92.5h6M179 92.5h51M895 92.5h1M164 93.5h12M229 93.5h15M893 93.5h2M244 94.5h15M890 94.5h2M260 95.5h14M887 95.5h2M276 96.5h12M303 96.5h31M884 96.5h2M291 97.5h3M340 97.5h31M880 97.5h3M374 98.5h13M873 98.5h4M390 99.5h12M866 99.5h4M405 100.5h13M859 100.5h4M421 101.5h12M852 101.5h4M437 102.5h11M845 102.5h4M453 103.5h11M838 103.5h4M469 104.5h10M831 104.5h3M486 105.5h9M810 105.5h11M502 106.5h8M785 106.5h11M518 107.5h8M759 107.5h12M542 108.5h25M734 108.5h12M591 109.5h21M712 109.5h10"/>
<path stroke="#ff9e11" d="M586 53.5h3M915 53.5h3M585 54.5h3M914 54.5h4M584 55.5h3M914 55.5h5M583 56.5h3M914 56.5h5M582 57.5h3M914 57.5h5M581 58.5h3M914 58.5h6M580 59.5h3M915 59.5h6M579 60.5h2M916 60.5h5M577 61.5h3M916 61.5h6M208 62.5h9M224 62.5h5M573 62.5h6M917 62.5h8M188 63.5h8M239 63.5h4M566 63.5h11M918 63.5h9M177 64.5h1M255 64.5h3M559 64.5h12M918 64.5h9M168 65.5h2M270 65.5h3M548 65.5h13M923 65.5h4M161 66.5h1M285 66.5h4M531 66.5h19M304 67.5h5M499 67.5h33M154 68.5h1M151 69.5h1M148 70.5h1M145 71.5h1M926 71.5h1M142 72.5h1M924 72.5h3M139 73.5h1M922 73.5h4M135 74.5h2M920 74.5h4M918 75.5h4M916 76.5h4M914 77.5h4M912 78.5h4M910 79.5h4M909 80.5h2M907 81.5h3M906 82.5h2M905 83.5h2M904 84.5h1M134 85.5h2M902 85.5h2M136 86.5h4M901 86.5h2M140 87.5h4M900 87.5h1M144 88.5h3M898 88.5h2M148 89.5h3M897 89.5h2M152 90.5h3M213 90.5h4M896 90.5h1M156 91.5h6M181 91.5h50M895 91.5h1M163 92.5h16M230 92.5h14M893 92.5h2M244 93.5h14M890 93.5h3M259 94.5h13M888 94.5h2M274 95.5h11M312 95.5h15M885 95.5h2M288 96.5h15M334 96.5h33M882 96.5h2M371 97.5h13M875 97.5h5M387 98.5h12M869 98.5h4M402 99.5h12M862 99.5h4M418 100.5h11M855 100.5h4M433 101.5h11M848 101.5h4M448 102.5h11M842 102.5h3M464 103.5h10M835 103.5h3M479 104.5h9M824 104.5h7M495 105.5h8M799 105.5h11M510 106.5h8M773 106.5h12M526 107.5h14M748 107.5h11M567 108.5h21M724 108.5h10M612 109.5h100"/>
<path stroke="#f68f0f" d="M589 53.5h5M910 53.5h5M588 54.5h4M910 54.5h4M587 55.5h3M910 55.5h4M586 56.5h2M909 56.5h5M585 57.5h1M909 57.5h5M584 58.5h1M909 58.5h5M583 59.5h1M908 59.5h7M581 60.5h2M909 60.5h7M580 61.5h2M909 61.5h7M217 62.5h7M579 62.5h1M910 62.5h7M196 63.5h43M577 63.5h2M910 63.5h8M178 64.5h77M571 64.5h6M914 64.5h4M170 65.5h35M240 65.5h30M561 65.5h6M921 65.5h2M162 66.5h26M261 66.5h24M550 66.5h7M158 67.5h19M280 67.5h24M532 67.5h8M155 68.5h14M304 68.5h170M152 69.5h9M149 70.5h9M146 71.5h8M143 72.5h8M140 73.5h7M921 73.5h1M137 74.5h6M919 74.5h1M134 75.5h5M917 75.5h1M134 76.5h1M915 76.5h1M913 77.5h1M911 78.5h1M909 79.5h1M907 80.5h2M906 81.5h1M905 82.5h1M903 83.5h2M134 84.5h5M902 84.5h2M136 85.5h8M901 85.5h1M140 86.5h9M900 86.5h1M144 87.5h9M898 87.5h2M147 88.5h12M897 88.5h1M151 89.5h76M896 89.5h1M155 90.5h58M217 90.5h25M894 90.5h2M162 91.5h19M231 91.5h25M893 91.5h2M244 92.5h26M890 92.5h3M258 93.5h26M887 93.5h3M272 94.5h81M885 94.5h3M285 95.5h27M327 95.5h52M881 95.5h4M367 96.5h27M875 96.5h7M384 97.5h25M869 97.5h6M399 98.5h25M862 98.5h7M414 99.5h25M856 99.5h6M429 100.5h25M849 100.5h6M444 101.5h24M843 101.5h5M459 102.5h22M837 102.5h5M474 103.5h21M830 103.5h5M488 104.5h19M808 104.5h16M503 105.5h16M785 105.5h14M518 106.5h23M760 106.5h13M540 107.5h42M735 107.5h13M588 108.5h31M713 108.5h11"/>
<path stroke="#f0860c" d="M594 53.5h8M906 53.5h4M592 54.5h4M906 54.5h4M590 55.5h2M905 55.5h5M588 56.5h2M906 56.5h3M586 57.5h2M906 57.5h3M585 58.5h2M907 58.5h2M584 59.5h1M907 59.5h1M583 60.5h1M908 60.5h1M582 61.5h1M908 61.5h1M580 62.5h2M909 62.5h1M579 63.5h1M577 64.5h2M910 64.5h4M205 65.5h35M567 65.5h6M919 65.5h2M188 66.5h73M557 66.5h6M926 66.5h1M177 67.5h34M242 67.5h38M540 67.5h10M169 68.5h27M273 68.5h31M474 68.5h56M161 69.5h22M304 69.5h124M158 70.5h17M154 71.5h13M925 71.5h1M151 72.5h10M923 72.5h1M147 73.5h10M920 73.5h1M143 74.5h10M918 74.5h1M139 75.5h9M916 75.5h1M135 76.5h8M913 76.5h2M134 77.5h4M911 77.5h2M909 78.5h2M907 79.5h2M906 80.5h1M905 81.5h1M134 82.5h4M903 82.5h2M134 83.5h11M902 83.5h1M139 84.5h12M901 84.5h1M144 85.5h12M899 85.5h2M149 86.5h14M898 86.5h2M153 87.5h70M897 87.5h1M159 88.5h80M895 88.5h2M227 89.5h27M894 89.5h2M242 90.5h27M892 90.5h2M256 91.5h28M890 91.5h3M270 92.5h72M887 92.5h3M284 93.5h89M884 93.5h3M353 94.5h36M881 94.5h4M379 95.5h25M875 95.5h6M394 96.5h25M869 96.5h6M409 97.5h25M863 97.5h6M424 98.5h25M857 98.5h5M439 99.5h25M850 99.5h6M454 100.5h22M844 100.5h5M468 101.5h20M838 101.5h5M481 102.5h18M832 102.5h5M495 103.5h15M815 103.5h15M507 104.5h12M795 104.5h13M519 105.5h23M772 105.5h13M541 106.5h36M748 106.5h12M582 107.5h28M724 107.5h11M619 108.5h94"/>
<path stroke="#ec7d0a" d="M602 53.5h8M903 53.5h3M596 54.5h8M904 54.5h2M592 55.5h6M904 55.5h1M590 56.5h3M905 56.5h1M588 57.5h3M905 57.5h1M587 58.5h2M906 58.5h1M585 59.5h2M584 60.5h2M907 60.5h1M583 61.5h2M582 62.5h1M908 62.5h1M580 63.5h2M909 63.5h1M579 64.5h1M909 64.5h1M573 65.5h6M915 65.5h4M563 66.5h6M924 66.5h2M211 67.5h31M550 67.5h8M196 68.5h77M530 68.5h9M183 69.5h34M251 69.5h53M428 69.5h43M175 70.5h27M302 70.5h60M167 71.5h24M924 71.5h1M161 72.5h20M922 72.5h1M157 73.5h16M919 73.5h1M153 74.5h13M917 74.5h1M148 75.5h12M914 75.5h2M143 76.5h12M912 76.5h1M138 77.5h12M910 77.5h1M134 78.5h10M907 78.5h2M134 79.5h2M906 79.5h1M134 80.5h2M905 80.5h1M134 81.5h12M903 81.5h2M138 82.5h15M902 82.5h1M145 83.5h16M901 83.5h1M151 84.5h23M899 84.5h2M156 85.5h62M898 85.5h1M163 86.5h72M896 86.5h2M223 87.5h28M895 87.5h2M239 88.5h28M894 88.5h1M254 89.5h29M892 89.5h2M269 90.5h64M890 90.5h2M284 91.5h80M887 91.5h3M342 92.5h41M884 92.5h3M373 93.5h26M881 93.5h3M389 94.5h25M875 94.5h6M404 95.5h25M869 95.5h6M419 96.5h25M863 96.5h6M434 97.5h25M857 97.5h6M449 98.5h22M851 98.5h6M464 99.5h18M845 99.5h5M476 100.5h17M839 100.5h5M488 101.5h15M833 101.5h5M499 102.5h12M821 102.5h11M510 103.5h10M802 103.5h13M519 104.5h23M782 104.5h13M542 105.5h31M759 105.5h13M577 106.5h26M736 106.5h12M610 107.5h40M711 107.5h13"/>
<path stroke="#e67307" d="M610 53.5h7M899 53.5h4M604 54.5h8M902 54.5h2M598 55.5h8M903 55.5h1M593 56.5h7M904 56.5h1M591 57.5h3M589 58.5h3M905 58.5h1M587 59.5h3M906 59.5h1M586 60.5h2M906 60.5h1M585 61.5h1M907 61.5h1M583 62.5h1M907 62.5h1M582 63.5h1M908 63.5h1M580 64.5h2M908 64.5h1M579 65.5h1M909 65.5h1M912 65.5h3M569 66.5h7M921 66.5h3M558 67.5h6M539 68.5h11M217 69.5h34M471 69.5h55M202 70.5h100M362 70.5h68M926 70.5h1M191 71.5h34M292 71.5h1M294 71.5h1M296 71.5h44M923 71.5h1M181 72.5h27M920 72.5h2M173 73.5h23M918 73.5h1M166 74.5h21M915 74.5h2M160 75.5h19M912 75.5h2M155 76.5h17M910 76.5h2M150 77.5h15M908 77.5h2M144 78.5h15M906 78.5h1M136 79.5h16M905 79.5h1M136 80.5h21M903 80.5h2M146 81.5h20M902 81.5h1M153 82.5h27M900 82.5h2M161 83.5h42M899 83.5h2M174 84.5h57M898 84.5h1M218 85.5h31M896 85.5h2M235 86.5h31M895 86.5h1M251 87.5h31M893 87.5h2M267 88.5h57M892 88.5h2M283 89.5h70M889 89.5h3M333 90.5h44M887 90.5h3M364 91.5h29M884 91.5h3M383 92.5h26M880 92.5h4M399 93.5h25M875 93.5h6M414 94.5h25M869 94.5h6M429 95.5h26M864 95.5h5M444 96.5h24M858 96.5h5M459 97.5h18M852 97.5h5M471 98.5h17M846 98.5h5M482 99.5h15M840 99.5h5M493 100.5h13M835 100.5h4M503 101.5h10M826 101.5h7M511 102.5h10M809 102.5h12M520 103.5h22M792 103.5h10M542 104.5h28M770 104.5h12M573 105.5h24M747 105.5h12M603 106.5h20M723 106.5h13M650 107.5h61"/>
<path stroke="#e26a05" d="M617 53.5h8M895 53.5h4M612 54.5h8M898 54.5h4M606 55.5h8M900 55.5h3M600 56.5h8M903 56.5h1M594 57.5h8M904 57.5h1M592 58.5h4M904 58.5h1M590 59.5h2M905 59.5h1M588 60.5h2M905 60.5h1M586 61.5h2M906 61.5h1M584 62.5h3M583 63.5h2M907 63.5h1M582 64.5h1M580 65.5h1M908 65.5h1M910 65.5h2M576 66.5h4M918 66.5h3M564 67.5h7M550 68.5h8M526 69.5h12M430 70.5h39M925 70.5h1M225 71.5h67M293 71.5h1M295 71.5h1M340 71.5h43M922 71.5h1M208 72.5h120M919 72.5h1M196 73.5h35M916 73.5h2M187 74.5h26M913 74.5h2M179 75.5h22M911 75.5h1M172 76.5h20M908 76.5h2M165 77.5h19M906 77.5h2M159 78.5h18M905 78.5h1M152 79.5h20M903 79.5h2M157 80.5h26M902 80.5h1M166 81.5h33M900 81.5h2M180 82.5h46M899 82.5h1M203 83.5h42M897 83.5h2M231 84.5h32M896 84.5h2M249 85.5h32M894 85.5h2M266 86.5h49M893 86.5h2M282 87.5h62M891 87.5h2M324 88.5h47M889 88.5h3M353 89.5h35M887 89.5h2M377 90.5h27M884 90.5h3M393 91.5h26M880 91.5h4M409 92.5h25M875 92.5h5M424 93.5h26M869 93.5h6M439 94.5h25M864 94.5h5M455 95.5h19M858 95.5h6M468 96.5h15M853 96.5h5M477 97.5h14M847 97.5h5M488 98.5h13M841 98.5h5M497 99.5h10M836 99.5h4M506 100.5h8M830 100.5h5M513 101.5h9M814 101.5h12M521 102.5h21M798 102.5h11M542 103.5h25M780 103.5h12M570 104.5h22M758 104.5h12M597 105.5h19M736 105.5h11M623 106.5h50M708 106.5h15"/>
<path stroke="#dc6002" d="M625 53.5h8M890 53.5h5M620 54.5h8M893 54.5h5M614 55.5h9M896 55.5h4M608 56.5h9M899 56.5h4M602 57.5h9M902 57.5h2M596 58.5h9M903 58.5h1M592 59.5h6M904 59.5h1M590 60.5h3M588 61.5h3M905 61.5h1M587 62.5h2M906 62.5h1M585 63.5h2M906 63.5h1M583 64.5h2M907 64.5h1M581 65.5h2M907 65.5h1M580 66.5h1M913 66.5h5M571 67.5h9M558 68.5h8M538 69.5h12M469 70.5h53M924 70.5h1M383 71.5h50M920 71.5h2M328 72.5h34M918 72.5h1M231 73.5h80M312 73.5h1M914 73.5h2M213 74.5h43M257 74.5h1M911 74.5h2M201 75.5h32M909 75.5h2M192 76.5h25M906 76.5h2M184 77.5h22M905 77.5h1M177 78.5h19M903 78.5h2M172 79.5h25M902 79.5h1M183 80.5h38M900 80.5h2M199 81.5h43M899 81.5h1M226 82.5h35M897 82.5h2M245 83.5h35M896 83.5h1M263 84.5h42M894 84.5h2M281 85.5h54M893 85.5h1M315 86.5h46M891 86.5h2M344 87.5h38M889 87.5h2M371 88.5h27M886 88.5h3M388 89.5h26M883 89.5h4M404 90.5h25M880 90.5h4M419 91.5h26M875 91.5h5M434 92.5h26M869 92.5h6M450 93.5h20M864 93.5h5M464 94.5h15M859 94.5h5M474 95.5h13M853 95.5h5M483 96.5h13M848 96.5h5M491 97.5h12M842 97.5h5M501 98.5h8M837 98.5h4M507 99.5h8M831 99.5h5M514 100.5h8M819 100.5h11M522 101.5h21M804 101.5h10M542 102.5h23M790 102.5h8M567 103.5h21M768 103.5h12M592 104.5h18M747 104.5h11M616 105.5h25M723 105.5h13M673 106.5h35"/>
<path stroke="#d95700" d="M633 53.5h7M886 53.5h4M628 54.5h8M889 54.5h4M623 55.5h8M892 55.5h4M617 56.5h9M895 56.5h4M611 57.5h9M898 57.5h4M605 58.5h9M900 58.5h3M598 59.5h9M903 59.5h1M593 60.5h7M904 60.5h1M591 61.5h2M904 61.5h1M589 62.5h2M905 62.5h1M587 63.5h2M905 63.5h1M585 64.5h2M906 64.5h1M583 65.5h2M581 66.5h2M907 66.5h6M580 67.5h1M923 67.5h4M566 68.5h8M550 69.5h9M522 70.5h15M923 70.5h1M433 71.5h35M919 71.5h1M362 72.5h31M915 72.5h3M311 73.5h1M313 73.5h37M912 73.5h2M256 74.5h1M258 74.5h51M909 74.5h2M233 75.5h39M907 75.5h2M217 76.5h33M905 76.5h1M206 77.5h28M903 77.5h2M196 78.5h25M901 78.5h2M197 79.5h40M900 79.5h2M221 80.5h38M899 80.5h1M242 81.5h36M897 81.5h2M261 82.5h40M895 82.5h2M280 83.5h48M894 83.5h2M305 84.5h47M892 84.5h2M335 85.5h40M891 85.5h2M361 86.5h31M889 86.5h2M382 87.5h27M886 87.5h3M398 88.5h26M883 88.5h3M414 89.5h26M880 89.5h3M429 90.5h26M875 90.5h5M445 91.5h23M869 91.5h6M460 92.5h15M864 92.5h5M470 93.5h13M859 93.5h5M479 94.5h12M854 94.5h5M487 95.5h12M849 95.5h4M496 96.5h9M843 96.5h5M503 97.5h8M838 97.5h4M509 98.5h7M833 98.5h4M515 99.5h8M823 99.5h8M522 100.5h21M809 100.5h10M543 101.5h21M796 101.5h8M565 102.5h20M778 102.5h12M588 103.5h17M757 103.5h11M610 104.5h15M736 104.5h11M641 105.5h82"/>
<path stroke="#e15104" d="M640 53.5h8M881 53.5h5M636 54.5h8M884 54.5h5M631 55.5h8M887 55.5h5M626 56.5h8M890 56.5h5M620 57.5h9M893 57.5h5M614 58.5h9M896 58.5h4M607 59.5h10M899 59.5h4M600 60.5h10M902 60.5h2M593 61.5h10M591 62.5h4M904 62.5h1M589 63.5h3M587 64.5h3M905 64.5h1M585 65.5h3M906 65.5h1M583 66.5h2M906 66.5h1M581 67.5h2M914 67.5h9M574 68.5h7M559 69.5h9M926 69.5h1M537 70.5h12M921 70.5h2M468 71.5h50M917 71.5h2M393 72.5h41M913 72.5h2M350 73.5h25M910 73.5h2M309 74.5h31M907 74.5h2M272 75.5h36M905 75.5h2M250 76.5h31M903 76.5h2M234 77.5h28M901 77.5h2M221 78.5h35M900 78.5h1M237 79.5h40M899 79.5h1M259 80.5h40M897 80.5h2M278 81.5h45M895 81.5h2M301 82.5h43M894 82.5h1M328 83.5h40M892 83.5h2M352 84.5h34M890 84.5h2M375 85.5h28M888 85.5h3M392 86.5h27M886 86.5h3M409 87.5h26M883 87.5h3M424 88.5h27M879 88.5h4M440 89.5h25M874 89.5h6M455 90.5h17M870 90.5h5M468 91.5h12M864 91.5h5M475 92.5h12M860 92.5h4M483 93.5h11M854 93.5h5M491 94.5h11M850 94.5h4M499 95.5h8M844 95.5h5M505 96.5h6M839 96.5h4M511 97.5h6M834 97.5h4M516 98.5h8M827 98.5h6M523 99.5h20M814 99.5h9M543 100.5h19M801 100.5h8M564 101.5h18M788 101.5h8M585 102.5h15M767 102.5h11M605 103.5h14M747 103.5h10M625 104.5h34M722 104.5h14"/>
<path stroke="#ea4a07" d="M648 53.5h8M876 53.5h5M644 54.5h8M880 54.5h4M639 55.5h9M883 55.5h4M634 56.5h9M886 56.5h4M629 57.5h9M889 57.5h4M623 58.5h10M892 58.5h4M617 59.5h10M895 59.5h4M610 60.5h10M898 60.5h4M603 61.5h10M900 61.5h4M595 62.5h11M903 62.5h1M592 63.5h6M904 63.5h1M590 64.5h3M904 64.5h1M588 65.5h3M905 65.5h1M585 66.5h3M905 66.5h1M583 67.5h2M906 67.5h8M581 68.5h1M568 69.5h11M924 69.5h2M549 70.5h11M919 70.5h2M518 71.5h17M914 71.5h3M434 72.5h34M911 72.5h2M375 73.5h24M908 73.5h2M340 74.5h22M905 74.5h2M308 75.5h25M903 75.5h2M281 76.5h27M901 76.5h2M262 77.5h25M900 77.5h1M256 78.5h41M898 78.5h2M277 79.5h40M897 79.5h2M299 80.5h39M895 80.5h2M323 81.5h36M893 81.5h2M344 82.5h36M892 82.5h2M368 83.5h30M890 83.5h2M386 84.5h28M888 84.5h2M403 85.5h27M886 85.5h2M419 86.5h26M883 86.5h3M435 87.5h26M879 87.5h4M451 88.5h19M874 88.5h5M465 89.5h12M870 89.5h4M472 90.5h12M865 90.5h5M480 91.5h11M860 91.5h4M487 92.5h11M855 92.5h5M494 93.5h10M850 93.5h4M502 94.5h6M845 94.5h5M507 95.5h6M840 95.5h4M511 96.5h6M835 96.5h4M517 97.5h8M830 97.5h4M524 98.5h19M818 98.5h9M543 99.5h18M806 99.5h8M562 100.5h17M794 100.5h7M582 101.5h15M776 101.5h12M600 102.5h14M756 102.5h11M619 103.5h20M736 103.5h11M659 104.5h63"/>
<path stroke="#f1410a" d="M656 53.5h7M871 53.5h5M652 54.5h8M874 54.5h6M648 55.5h8M877 55.5h6M643 56.5h9M881 56.5h5M638 57.5h10M884 57.5h5M633 58.5h9M887 58.5h5M627 59.5h10M890 59.5h5M620 60.5h10M893 60.5h5M613 61.5h11M897 61.5h3M606 62.5h10M899 62.5h4M598 63.5h10M902 63.5h2M593 64.5h8M591 65.5h2M904 65.5h1M588 66.5h3M585 67.5h3M905 67.5h1M582 68.5h3M579 69.5h3M922 69.5h2M560 70.5h12M916 70.5h3M535 71.5h14M912 71.5h2M468 72.5h44M909 72.5h2M399 73.5h37M905 73.5h3M362 74.5h21M903 74.5h2M333 75.5h20M901 75.5h2M308 76.5h20M900 76.5h1M287 77.5h26M899 77.5h1M297 78.5h35M897 78.5h1M317 79.5h35M895 79.5h2M338 80.5h35M893 80.5h2M359 81.5h33M891 81.5h2M380 82.5h29M890 82.5h2M398 83.5h26M888 83.5h2M414 84.5h26M885 84.5h3M430 85.5h26M882 85.5h4M445 86.5h23M879 86.5h4M461 87.5h13M874 87.5h5M470 88.5h11M870 88.5h4M477 89.5h10M865 89.5h5M484 90.5h10M860 90.5h5M491 91.5h9M855 91.5h5M498 92.5h8M851 92.5h4M504 93.5h6M846 93.5h4M508 94.5h5M841 94.5h4M513 95.5h4M836 95.5h4M517 96.5h10M831 96.5h4M525 97.5h19M821 97.5h9M543 98.5h17M810 98.5h8M561 99.5h16M798 99.5h8M579 100.5h14M785 100.5h9M597 101.5h13M766 101.5h10M614 102.5h12M746 102.5h10M639 103.5h30M721 103.5h15"/>
<path stroke="#f7370e" d="M663 53.5h8M867 53.5h4M660 54.5h6M869 54.5h5M656 55.5h7M871 55.5h6M652 56.5h9M875 56.5h6M648 57.5h9M879 57.5h5M642 58.5h10M882 58.5h5M637 59.5h10M885 59.5h5M630 60.5h11M889 60.5h4M624 61.5h11M892 61.5h5M616 62.5h12M895 62.5h4M608 63.5h12M898 63.5h4M601 64.5h11M900 64.5h4M593 65.5h10M903 65.5h1M591 66.5h4M904 66.5h1M588 67.5h4M904 67.5h1M585 68.5h3M905 68.5h21M582 69.5h3M919 69.5h3M572 70.5h9M913 70.5h3M549 71.5h13M909 71.5h3M512 72.5h21M906 72.5h3M436 73.5h31M904 73.5h1M383 74.5h21M901 74.5h2M353 75.5h18M900 75.5h1M328 76.5h18M898 76.5h2M313 77.5h32M897 77.5h2M332 78.5h33M895 78.5h2M352 79.5h33M893 79.5h2M373 80.5h30M891 80.5h2M392 81.5h27M890 81.5h1M409 82.5h26M887 82.5h3M424 83.5h27M885 83.5h3M440 84.5h25M882 84.5h3M456 85.5h16M879 85.5h3M468 86.5h10M874 86.5h5M474 87.5h10M869 87.5h5M481 88.5h9M865 88.5h5M487 89.5h10M860 89.5h5M494 90.5h9M856 90.5h4M500 91.5h7M851 91.5h4M506 92.5h5M847 92.5h4M510 93.5h4M842 93.5h4M513 94.5h5M837 94.5h4M517 95.5h11M833 95.5h3M527 96.5h17M824 96.5h7M544 97.5h15M813 97.5h8M560 98.5h15M803 98.5h7M577 99.5h13M792 99.5h6M593 100.5h13M775 100.5h10M610 101.5h11M756 101.5h10M626 102.5h26M737 102.5h9M669 103.5h52"/>
<path stroke="#fc2d10" d="M671 53.5h7M862 53.5h5M666 54.5h8M865 54.5h4M663 55.5h6M867 55.5h4M661 56.5h4M868 56.5h7M657 57.5h6M871 57.5h8M652 58.5h10M875 58.5h7M647 59.5h10M880 59.5h5M641 60.5h11M884 60.5h5M635 61.5h11M887 61.5h5M628 62.5h12M890 62.5h5M620 63.5h12M894 63.5h4M612 64.5h12M897 64.5h3M603 65.5h13M899 65.5h4M595 66.5h12M902 66.5h2M592 67.5h5M588 68.5h5M904 68.5h1M926 68.5h1M585 69.5h3M916 69.5h3M581 70.5h3M910 70.5h3M562 71.5h15M907 71.5h2M533 72.5h16M904 72.5h2M467 73.5h39M901 73.5h3M404 74.5h33M900 74.5h1M371 75.5h18M898 75.5h2M346 76.5h16M897 76.5h1M345 77.5h33M895 77.5h2M365 78.5h32M893 78.5h2M385 79.5h29M891 79.5h2M403 80.5h27M889 80.5h2M419 81.5h27M887 81.5h3M435 82.5h27M885 82.5h2M451 83.5h19M882 83.5h3M465 84.5h11M878 84.5h4M472 85.5h10M874 85.5h5M478 86.5h9M869 86.5h5M484 87.5h9M865 87.5h4M490 88.5h9M861 88.5h4M497 89.5h7M856 89.5h4M503 90.5h5M852 90.5h4M507 91.5h5M847 91.5h4M511 92.5h4M843 92.5h4M514 93.5h4M838 93.5h4M518 94.5h11M834 94.5h3M528 95.5h16M827 95.5h6M544 96.5h14M817 96.5h7M559 97.5h14M806 97.5h7M575 98.5h13M796 98.5h7M590 99.5h13M783 99.5h9M606 100.5h11M765 100.5h10M621 101.5h17M746 101.5h10M652 102.5h24M718 102.5h19"/>
<path stroke="#fe2310" d="M678 53.5h8M857 53.5h5M674 54.5h7M860 54.5h5M669 55.5h7M863 55.5h4M665 56.5h7M866 56.5h2M663 57.5h5M867 57.5h4M662 58.5h3M868 58.5h7M657 59.5h7M871 59.5h9M652 60.5h10M876 60.5h8M646 61.5h13M882 61.5h5M640 62.5h12M885 62.5h5M632 63.5h13M889 63.5h5M624 64.5h14M892 64.5h5M616 65.5h14M895 65.5h4M607 66.5h14M898 66.5h4M597 67.5h14M900 67.5h4M593 68.5h8M903 68.5h1M588 69.5h5M904 69.5h12M584 70.5h5M908 70.5h2M577 71.5h7M904 71.5h3M549 72.5h17M902 72.5h2M506 73.5h24M900 73.5h1M437 74.5h29M898 74.5h2M389 75.5h20M897 75.5h1M362 76.5h28M895 76.5h2M378 77.5h30M893 77.5h2M397 78.5h28M891 78.5h2M414 79.5h27M889 79.5h2M430 80.5h27M887 80.5h2M446 81.5h22M885 81.5h2M462 82.5h12M882 82.5h3M470 83.5h9M878 83.5h4M476 84.5h9M874 84.5h4M482 85.5h8M869 85.5h5M487 86.5h9M865 86.5h4M493 87.5h8M861 87.5h4M499 88.5h7M856 88.5h5M504 89.5h5M852 89.5h4M508 90.5h4M848 90.5h4M512 91.5h4M844 91.5h3M515 92.5h4M839 92.5h4M518 93.5h12M835 93.5h3M529 94.5h15M829 94.5h5M544 95.5h14M820 95.5h7M558 96.5h14M810 96.5h7M573 97.5h13M800 97.5h6M588 98.5h11M790 98.5h6M603 99.5h10M773 99.5h10M617 100.5h10M755 100.5h10M638 101.5h23M737 101.5h9M676 102.5h42"/>
<path stroke="#ff1910" d="M686 53.5h8M852 53.5h5M681 54.5h7M855 54.5h5M676 55.5h7M858 55.5h5M672 56.5h7M861 56.5h5M668 57.5h7M863 57.5h4M665 58.5h6M865 58.5h3M664 59.5h3M866 59.5h5M662 60.5h3M868 60.5h8M659 61.5h5M871 61.5h11M652 62.5h11M877 62.5h8M645 63.5h15M883 63.5h6M638 64.5h15M887 64.5h5M630 65.5h14M890 65.5h5M621 66.5h14M894 66.5h4M611 67.5h15M897 67.5h3M601 68.5h14M899 68.5h4M593 69.5h11M902 69.5h2M589 70.5h5M905 70.5h3M584 71.5h5M902 71.5h2M566 72.5h16M899 72.5h3M530 73.5h19M898 73.5h2M466 74.5h14M897 74.5h1M409 75.5h29M895 75.5h2M390 76.5h29M893 76.5h2M408 77.5h28M891 77.5h2M425 78.5h27M889 78.5h2M441 79.5h25M887 79.5h2M457 80.5h15M884 80.5h3M468 81.5h9M882 81.5h3M474 82.5h8M878 82.5h4M479 83.5h9M874 83.5h4M485 84.5h8M869 84.5h5M490 85.5h8M865 85.5h4M496 86.5h7M861 86.5h4M501 87.5h6M857 87.5h4M506 88.5h4M853 88.5h3M509 89.5h4M848 89.5h4M512 90.5h4M844 90.5h4M516 91.5h3M840 91.5h4M519 92.5h12M836 92.5h3M530 93.5h14M831 93.5h4M544 94.5h13M822 94.5h7M558 95.5h13M813 95.5h7M572 96.5h12M804 96.5h6M586 97.5h11M794 97.5h6M599 98.5h11M782 98.5h8M613 99.5h10M764 99.5h9M627 100.5h21M746 100.5h9M661 101.5h20M709 101.5h28"/>
<path stroke="#ff0f10" d="M694 53.5h7M847 53.5h5M688 54.5h8M850 54.5h5M683 55.5h8M853 55.5h5M679 56.5h6M856 56.5h5M675 57.5h6M859 57.5h4M671 58.5h6M861 58.5h4M667 59.5h7M864 59.5h2M665 60.5h5M865 60.5h3M664 61.5h3M866 61.5h5M663 62.5h2M868 62.5h9M660 63.5h4M871 63.5h12M653 64.5h10M881 64.5h6M644 65.5h18M885 65.5h5M635 66.5h18M889 66.5h5M626 67.5h17M892 67.5h5M615 68.5h17M896 68.5h3M604 69.5h17M898 69.5h4M594 70.5h15M900 70.5h5M589 71.5h8M899 71.5h3M582 72.5h6M898 72.5h1M549 73.5h24M897 73.5h1M480 74.5h45M895 74.5h2M438 75.5h28M893 75.5h2M419 76.5h28M891 76.5h2M436 77.5h27M888 77.5h3M452 78.5h18M886 78.5h3M466 79.5h9M884 79.5h3M472 80.5h8M881 80.5h3M477 81.5h8M877 81.5h5M482 82.5h8M873 82.5h5M488 83.5h7M869 83.5h5M493 84.5h7M865 84.5h4M498 85.5h7M861 85.5h4M503 86.5h5M857 86.5h4M507 87.5h4M853 87.5h4M510 88.5h4M849 88.5h4M513 89.5h4M845 89.5h3M516 90.5h4M841 90.5h3M519 91.5h13M837 91.5h3M531 92.5h13M833 92.5h3M544 93.5h13M825 93.5h6M557 94.5h12M816 94.5h6M571 95.5h11M807 95.5h6M584 96.5h10M798 96.5h6M597 97.5h10M789 97.5h5M610 98.5h9M772 98.5h10M623 99.5h14M754 99.5h10M648 100.5h19M737 100.5h9M681 101.5h28"/>
<path stroke="#ff0510" d="M701 53.5h8M842 53.5h5M696 54.5h8M845 54.5h5M691 55.5h7M848 55.5h5M685 56.5h8M851 56.5h5M681 57.5h7M854 57.5h5M677 58.5h6M857 58.5h4M674 59.5h6M859 59.5h5M670 60.5h6M862 60.5h3M667 61.5h5M863 61.5h3M665 62.5h4M864 62.5h4M664 63.5h3M866 63.5h5M663 64.5h3M868 64.5h13M662 65.5h3M870 65.5h15M653 66.5h10M883 66.5h6M643 67.5h19M887 67.5h5M632 68.5h21M890 68.5h6M621 69.5h19M894 69.5h4M609 70.5h18M896 70.5h4M597 71.5h17M896 71.5h3M588 72.5h13M896 72.5h2M573 73.5h15M895 73.5h2M525 74.5h23M893 74.5h2M466 75.5h12M890 75.5h3M447 76.5h21M888 76.5h3M463 77.5h10M886 77.5h2M470 78.5h8M884 78.5h2M475 79.5h8M881 79.5h3M480 80.5h8M877 80.5h4M485 81.5h8M873 81.5h4M490 82.5h8M869 82.5h4M495 83.5h7M865 83.5h4M500 84.5h6M861 84.5h4M505 85.5h4M857 85.5h4M508 86.5h4M853 86.5h4M511 87.5h4M849 87.5h4M514 88.5h3M845 88.5h4M517 89.5h3M841 89.5h4M520 90.5h12M837 90.5h4M532 91.5h12M833 91.5h4M544 92.5h12M827 92.5h6M557 93.5h11M819 93.5h6M569 94.5h11M810 94.5h6M582 95.5h10M801 95.5h6M594 96.5h10M793 96.5h5M607 97.5h9M780 97.5h9M619 98.5h9M763 98.5h9M637 99.5h19M746 99.5h8M667 100.5h70"/>
<path stroke="#e60121" d="M709 53.5h13M832 53.5h10M704 54.5h11M840 54.5h5M698 55.5h10M844 55.5h4M693 56.5h9M847 56.5h4M688 57.5h8M850 57.5h4M683 58.5h7M853 58.5h4M680 59.5h5M856 59.5h3M676 60.5h5M860 60.5h2M672 61.5h5M861 61.5h2M669 62.5h4M862 62.5h2M667 63.5h4M864 63.5h2M666 64.5h4M864 64.5h4M665 65.5h4M865 65.5h5M663 66.5h5M878 66.5h5M662 67.5h6M884 67.5h3M653 68.5h3M887 68.5h3M640 69.5h4M890 69.5h4M627 70.5h4M893 70.5h3M614 71.5h4M894 71.5h2M601 72.5h5M893 72.5h3M588 73.5h5M892 73.5h3M548 74.5h36M890 74.5h3M478 75.5h85M888 75.5h2M468 76.5h46M886 76.5h2M473 77.5h11M883 77.5h3M478 78.5h10M881 78.5h3M483 79.5h10M877 79.5h4M488 80.5h10M874 80.5h3M493 81.5h10M870 81.5h3M498 82.5h9M866 82.5h3M502 83.5h9M862 83.5h3M506 84.5h8M858 84.5h3M509 85.5h8M854 85.5h3M512 86.5h8M850 86.5h3M515 87.5h10M846 87.5h3M517 88.5h18M841 88.5h4M520 89.5h24M837 89.5h4M532 90.5h22M833 90.5h4M544 91.5h21M827 91.5h6M556 92.5h20M819 92.5h8M568 93.5h14M810 93.5h9M580 94.5h11M802 94.5h8M592 95.5h11M793 95.5h8M604 96.5h12M780 96.5h13M616 97.5h14M762 97.5h18M628 98.5h31M744 98.5h19M656 99.5h90"/>
<path stroke="#e20424" d="M722 53.5h15M819 53.5h13M715 54.5h15M826 54.5h14M708 55.5h14M834 55.5h10M702 56.5h12M842 56.5h5M696 57.5h11M846 57.5h4M690 58.5h10M849 58.5h4M685 59.5h9M853 59.5h3M681 60.5h6M856 60.5h4M677 61.5h6M860 61.5h1M673 62.5h5M861 62.5h1M671 63.5h2M863 63.5h1M670 64.5h1M669 65.5h1M864 65.5h1M668 66.5h1M872 66.5h6M668 67.5h1M881 67.5h3M656 68.5h4M885 68.5h2M644 69.5h4M888 69.5h2M631 70.5h3M890 70.5h3M618 71.5h4M892 71.5h2M606 72.5h4M890 72.5h3M593 73.5h5M889 73.5h3M584 74.5h2M887 74.5h3M563 75.5h21M885 75.5h3M514 76.5h58M883 76.5h3M484 77.5h49M880 77.5h3M488 78.5h11M878 78.5h3M493 79.5h11M874 79.5h3M498 80.5h10M871 80.5h3M503 81.5h9M867 81.5h3M507 82.5h8M863 82.5h3M511 83.5h8M859 83.5h3M514 84.5h9M854 84.5h4M517 85.5h13M850 85.5h4M520 86.5h17M846 86.5h4M525 87.5h19M841 87.5h5M535 88.5h17M837 88.5h4M544 89.5h18M833 89.5h4M554 90.5h18M826 90.5h7M565 91.5h17M818 91.5h9M576 92.5h7M811 92.5h8M582 93.5h8M803 93.5h7M591 94.5h12M793 94.5h9M603 95.5h13M779 95.5h14M616 96.5h15M761 96.5h19M630 97.5h33M742 97.5h20M659 98.5h85"/>
<path stroke="#dd0727" d="M737 53.5h15M805 53.5h14M730 54.5h16M811 54.5h15M722 55.5h17M818 55.5h16M714 56.5h17M827 56.5h15M707 57.5h16M838 57.5h8M700 58.5h13M844 58.5h5M694 59.5h12M848 59.5h5M687 60.5h11M852 60.5h4M683 61.5h7M855 61.5h5M678 62.5h7M673 63.5h6M862 63.5h1M671 64.5h3M863 64.5h1M670 65.5h1M669 66.5h1M866 66.5h6M669 67.5h1M877 67.5h4M660 68.5h5M883 68.5h2M648 69.5h3M886 69.5h2M634 70.5h3M888 70.5h2M622 71.5h4M890 71.5h2M610 72.5h4M888 72.5h2M598 73.5h5M886 73.5h3M586 74.5h5M885 74.5h2M584 75.5h1M883 75.5h2M572 76.5h12M880 76.5h3M533 77.5h42M878 77.5h2M499 78.5h52M874 78.5h4M504 79.5h10M871 79.5h3M508 80.5h10M868 80.5h3M512 81.5h10M864 81.5h3M515 82.5h11M859 82.5h4M519 83.5h13M854 83.5h5M523 84.5h15M850 84.5h4M530 85.5h14M846 85.5h4M537 86.5h14M841 86.5h5M544 87.5h16M837 87.5h4M552 88.5h17M832 88.5h5M562 89.5h17M826 89.5h7M572 90.5h11M818 90.5h8M582 91.5h2M811 91.5h7M583 92.5h5M804 92.5h7M590 93.5h12M794 93.5h9M603 94.5h14M779 94.5h14M616 95.5h17M760 95.5h19M631 96.5h37M741 96.5h20M663 97.5h79"/>
<path stroke="#d90a2a" d="M752 53.5h14M792 53.5h13M746 54.5h16M797 54.5h14M739 55.5h17M802 55.5h16M731 56.5h19M809 56.5h18M723 57.5h19M817 57.5h21M713 58.5h20M828 58.5h16M706 59.5h17M841 59.5h7M698 60.5h14M847 60.5h5M690 61.5h13M852 61.5h3M685 62.5h10M859 62.5h2M679 63.5h7M861 63.5h1M674 64.5h6M862 64.5h1M671 65.5h3M863 65.5h1M670 66.5h1M864 66.5h2M670 67.5h1M872 67.5h5M665 68.5h4M880 68.5h3M651 69.5h4M884 69.5h2M637 70.5h3M886 70.5h2M626 71.5h3M888 71.5h2M614 72.5h4M886 72.5h2M603 73.5h4M884 73.5h2M591 74.5h5M882 74.5h3M585 75.5h1M880 75.5h3M584 76.5h1M878 76.5h2M575 77.5h10M875 77.5h3M551 78.5h28M872 78.5h2M514 79.5h44M869 79.5h2M518 80.5h11M865 80.5h3M522 81.5h12M860 81.5h4M526 82.5h13M855 82.5h4M532 83.5h12M851 83.5h3M538 84.5h12M846 84.5h4M544 85.5h14M841 85.5h5M551 86.5h16M836 86.5h5M560 87.5h16M832 87.5h5M569 88.5h13M825 88.5h7M579 89.5h4M818 89.5h8M583 90.5h1M811 90.5h7M584 91.5h3M804 91.5h7M588 92.5h14M795 92.5h9M602 93.5h15M779 93.5h15M617 94.5h18M759 94.5h20M633 95.5h41M739 95.5h21M668 96.5h73"/>
<path stroke="#d50d2d" d="M766 53.5h26M762 54.5h16M782 54.5h15M756 55.5h17M786 55.5h16M750 56.5h18M791 56.5h18M742 57.5h20M797 57.5h20M733 58.5h22M805 58.5h23M723 59.5h23M816 59.5h25M712 60.5h24M832 60.5h15M703 61.5h20M845 61.5h7M695 62.5h16M851 62.5h8M686 63.5h15M860 63.5h1M680 64.5h10M861 64.5h1M674 65.5h8M862 65.5h1M671 66.5h4M863 66.5h1M671 67.5h1M868 67.5h4M669 68.5h1M876 68.5h4M655 69.5h5M881 69.5h3M640 70.5h4M884 70.5h2M629 71.5h3M885 71.5h3M618 72.5h4M884 72.5h2M607 73.5h4M882 73.5h2M596 74.5h4M880 74.5h2M586 75.5h4M878 75.5h2M585 76.5h1M875 76.5h3M872 77.5h3M579 78.5h6M869 78.5h3M558 79.5h23M866 79.5h3M529 80.5h34M861 80.5h4M534 81.5h10M856 81.5h4M539 82.5h11M851 82.5h4M544 83.5h12M846 83.5h5M550 84.5h14M841 84.5h5M558 85.5h15M836 85.5h5M567 86.5h15M831 86.5h5M576 87.5h7M825 87.5h7M582 88.5h2M818 88.5h7M583 89.5h2M811 89.5h7M584 90.5h2M805 90.5h6M587 91.5h14M795 91.5h9M602 92.5h15M778 92.5h17M617 93.5h19M758 93.5h21M635 94.5h46M737 94.5h22M674 95.5h65"/>
<path stroke="#d01030" d="M778 54.5h4M773 55.5h13M768 56.5h23M762 57.5h35M755 58.5h23M783 58.5h22M746 59.5h25M789 59.5h27M736 60.5h27M797 60.5h35M723 61.5h30M812 61.5h33M711 62.5h28M840 62.5h11M701 63.5h23M851 63.5h9M690 64.5h19M860 64.5h1M682 65.5h14M861 65.5h1M675 66.5h11M862 66.5h1M672 67.5h3M863 67.5h5M670 68.5h2M873 68.5h3M660 69.5h6M879 69.5h2M644 70.5h5M882 70.5h2M632 71.5h3M883 71.5h2M622 72.5h3M882 72.5h2M611 73.5h4M880 73.5h2M600 74.5h4M878 74.5h2M590 75.5h4M875 75.5h3M586 76.5h1M873 76.5h2M585 77.5h1M870 77.5h2M867 78.5h2M581 79.5h4M862 79.5h4M563 80.5h20M857 80.5h4M544 81.5h23M851 81.5h5M550 82.5h12M846 82.5h5M556 83.5h14M841 83.5h5M564 84.5h15M836 84.5h5M573 85.5h10M831 85.5h5M582 86.5h2M824 86.5h7M583 87.5h2M818 87.5h7M584 88.5h1M812 88.5h6M585 89.5h1M805 89.5h6M586 90.5h15M796 90.5h9M601 91.5h17M778 91.5h17M617 92.5h21M756 92.5h22M636 93.5h67M735 93.5h23M681 94.5h56"/>
<path stroke="#d41e37" d="M778 58.5h5M771 59.5h18M763 60.5h34M753 61.5h59M739 62.5h40M783 62.5h57M724 63.5h41M801 63.5h50M709 64.5h38M850 64.5h10M696 65.5h28M860 65.5h1M686 66.5h20M675 67.5h15M672 68.5h5M869 68.5h4M666 69.5h5M876 69.5h3M649 70.5h5M880 70.5h2M635 71.5h3M881 71.5h2M625 72.5h3M879 72.5h3M615 73.5h3M878 73.5h2M604 74.5h4M875 74.5h3M594 75.5h4M873 75.5h2M587 76.5h2M870 76.5h3M586 77.5h1M867 77.5h3M585 78.5h1M863 78.5h4M585 79.5h1M858 79.5h4M583 80.5h2M852 80.5h5M567 81.5h17M847 81.5h4M562 82.5h14M841 82.5h5M570 83.5h13M836 83.5h5M579 84.5h4M830 84.5h6M583 85.5h1M824 85.5h7M584 86.5h1M818 86.5h6M585 87.5h1M812 87.5h6M585 88.5h2M806 88.5h6M586 89.5h14M798 89.5h7M601 90.5h18M777 90.5h19M618 91.5h21M755 91.5h23M638 92.5h81M732 92.5h24M703 93.5h32"/>
<path stroke="#da2c3e" d="M779 62.5h4M765 63.5h36M747 64.5h103M724 65.5h126M859 65.5h1M706 66.5h77M861 66.5h1M690 67.5h35M862 67.5h1M677 68.5h23M866 68.5h3M671 69.5h9M873 69.5h3M654 70.5h6M878 70.5h2M638 71.5h2M879 71.5h2M628 72.5h3M877 72.5h2M618 73.5h3M875 73.5h3M608 74.5h4M873 74.5h2M598 75.5h4M870 75.5h3M589 76.5h4M868 76.5h2M587 77.5h1M865 77.5h2M586 78.5h2M859 78.5h4M586 79.5h2M853 79.5h5M585 80.5h3M847 80.5h5M584 81.5h4M841 81.5h6M576 82.5h12M835 82.5h6M583 83.5h5M829 83.5h7M583 84.5h5M824 84.5h6M584 85.5h4M818 85.5h6M585 86.5h3M812 86.5h6M586 87.5h2M806 87.5h6M587 88.5h11M800 88.5h6M600 89.5h19M777 89.5h21M619 90.5h21M753 90.5h24M639 91.5h116M719 92.5h13"/>
<path stroke="#de3c46" d="M850 65.5h9M783 66.5h26M860 66.5h1M725 67.5h15M861 67.5h1M700 68.5h12M862 68.5h4M680 69.5h13M870 69.5h3M660 70.5h16M876 70.5h2M640 71.5h35M877 71.5h2M631 72.5h31M875 72.5h2M621 73.5h29M873 73.5h2M612 74.5h27M871 74.5h2M602 75.5h30M868 75.5h2M593 76.5h33M866 76.5h2M588 77.5h32M860 77.5h5M588 78.5h27M854 78.5h5M588 79.5h23M847 79.5h6M588 80.5h20M841 80.5h6M588 81.5h17M835 81.5h6M588 82.5h15M831 82.5h4M588 83.5h18M824 83.5h5M588 84.5h22M818 84.5h6M588 85.5h27M811 85.5h7M588 86.5h34M804 86.5h8M588 87.5h44M793 87.5h13M598 88.5h55M772 88.5h28M619 89.5h57M751 89.5h26M640 90.5h88M730 90.5h23"/>
<path stroke="#e44a4d" d="M809 66.5h51M740 67.5h24M860 67.5h1M712 68.5h9M861 68.5h1M693 69.5h10M868 69.5h2M676 70.5h11M873 70.5h3M675 71.5h2M876 71.5h1M662 72.5h14M874 72.5h1M650 73.5h24M871 73.5h2M639 74.5h24M869 74.5h2M632 75.5h22M866 75.5h2M626 76.5h20M861 76.5h5M620 77.5h19M855 77.5h5M615 78.5h18M848 78.5h6M611 79.5h17M841 79.5h6M608 80.5h16M835 80.5h6M605 81.5h15M832 81.5h3M603 82.5h15M825 82.5h6M606 83.5h17M818 83.5h6M610 84.5h19M810 84.5h8M615 85.5h22M803 85.5h8M622 86.5h34M788 86.5h16M632 87.5h43M769 87.5h24M653 88.5h24M750 88.5h22M676 89.5h50M731 89.5h20M728 90.5h2"/>
<path stroke="#e85a55" d="M764 67.5h27M832 67.5h28M721 68.5h6M860 68.5h1M703 69.5h8M862 69.5h6M687 70.5h9M871 70.5h2M677 71.5h6M874 71.5h2M676 72.5h1M872 72.5h2M674 73.5h2M869 73.5h2M663 74.5h13M867 74.5h2M654 75.5h19M863 75.5h3M646 76.5h18M856 76.5h5M639 77.5h17M849 77.5h6M633 78.5h17M842 78.5h6M628 79.5h16M835 79.5h6M624 80.5h15M832 80.5h3M620 81.5h14M826 81.5h6M618 82.5h16M818 82.5h7M623 83.5h18M809 83.5h9M629 84.5h28M800 84.5h10M637 85.5h38M783 85.5h20M656 86.5h20M766 86.5h22M675 87.5h2M749 87.5h20M677 88.5h46M731 88.5h19M726 89.5h5"/>
<path stroke="#ee685c" d="M791 67.5h29M831 67.5h1M727 68.5h15M858 68.5h2M711 69.5h7M860 69.5h2M696 70.5h8M868 70.5h3M683 71.5h8M872 71.5h2M677 72.5h2M870 72.5h2M676 73.5h2M868 73.5h1M676 74.5h1M865 74.5h2M673 75.5h3M857 75.5h6M664 76.5h11M849 76.5h7M656 77.5h16M842 77.5h7M650 78.5h15M834 78.5h8M644 79.5h14M832 79.5h3M639 80.5h14M828 80.5h4M634 81.5h13M817 81.5h9M634 82.5h24M807 82.5h11M641 83.5h34M795 83.5h14M657 84.5h19M779 84.5h21M675 85.5h2M763 85.5h20M676 86.5h2M747 86.5h19M677 87.5h43M731 87.5h18M723 88.5h8"/>
<path stroke="#f27864" d="M820 67.5h11M742 68.5h28M831 68.5h27M718 69.5h5M859 69.5h1M704 70.5h7M866 70.5h2M691 71.5h8M870 71.5h2M679 72.5h10M868 72.5h2M678 73.5h6M866 73.5h2M677 74.5h2M858 74.5h7M676 75.5h2M851 75.5h6M675 76.5h2M842 76.5h7M672 77.5h4M834 77.5h8M665 78.5h10M832 78.5h2M658 79.5h13M830 79.5h2M653 80.5h12M817 80.5h11M647 81.5h27M805 81.5h12M658 82.5h18M791 82.5h16M675 83.5h2M776 83.5h19M676 84.5h2M761 84.5h18M677 85.5h4M746 85.5h17M678 86.5h37M731 86.5h16M720 87.5h11"/>
<path stroke="#f6886c" d="M770 68.5h61M723 69.5h25M832 69.5h27M711 70.5h12M860 70.5h6M699 71.5h13M868 71.5h2M689 72.5h12M866 72.5h2M684 73.5h13M860 73.5h6M679 74.5h17M852 74.5h6M678 75.5h18M843 75.5h8M677 76.5h14M834 76.5h8M676 77.5h12M832 77.5h2M675 78.5h9M830 78.5h2M671 79.5h10M819 79.5h11M665 80.5h17M806 80.5h11M674 81.5h13M793 81.5h12M676 82.5h17M778 82.5h13M677 83.5h20M762 83.5h14M678 84.5h20M747 84.5h14M681 85.5h38M731 85.5h15M715 86.5h16"/>
<path stroke="#f99874" d="M748 69.5h84M723 70.5h37M768 70.5h26M832 70.5h28M712 71.5h15M867 71.5h1M701 72.5h15M862 72.5h4M697 73.5h8M853 73.5h7M696 74.5h4M843 74.5h9M696 75.5h3M834 75.5h9M691 76.5h7M830 76.5h4M688 77.5h10M829 77.5h3M684 78.5h13M824 78.5h6M681 79.5h16M813 79.5h6M682 80.5h15M802 80.5h4M687 81.5h11M791 81.5h2M693 82.5h6M771 82.5h7M697 83.5h2M750 83.5h12M698 84.5h2M706 84.5h41M719 85.5h12"/>
<path stroke="#fda87c" d="M760 70.5h8M794 70.5h38M727 71.5h76M865 71.5h2M716 72.5h68M854 72.5h8M705 73.5h62M844 73.5h9M700 74.5h83M833 74.5h10M699 75.5h89M824 75.5h10M698 76.5h94M815 76.5h15M698 77.5h98M807 77.5h22M697 78.5h127M697 79.5h116M697 80.5h105M698 81.5h93M699 82.5h72M699 83.5h51M700 84.5h6"/>
<path stroke="#fec48a" d="M803 71.5h62M784 72.5h70M767 73.5h77M783 74.5h50M788 75.5h36M792 76.5h23M796 77.5h11"/>
</g>
<defs><clipPath id="cp"><polygon points="134.0,53.0 927.0,53.0 927.4,392.4 894.2,471.7 861.8,515.3 829.3,545.6 795.0,545.6 763.7,535.2 730.0,563.6 694.0,563.6 664.0,558.8 630.8,490.8 597.6,427.7 565.2,386.2 542.4,433.0 511.8,492.6 468.5,566.5 432.5,607.3 398.0,611.0 364.4,595.8 317.5,582.6 240.0,565.6 200.3,554.2 165.7,420.0 134.0,147.0"/></clipPath><clipPath id="cp2"><rect x="134" y="53" width="793" height="564"/></clipPath></defs>
<g clip-path="url(#cp)">
<path d="M134.0 66.5L160.0 62.5L190.0 59.5L330.0 59.5L530.0 61.5L730.0 63.5L927.0 64.0M134.0 126.0L198.0 144.0L227.0 146.6L300.0 146.6M333.0 147.4L530.0 147.4L560.0 147.0L730.0 146.5L780.0 145.3L826.0 145.0M870.0 145.0L927.0 145.0M134.0 130.0L160.0 147.0L188.6 163.2L237.4 164.2L292.0 168.0L300.0 169.0M333.0 173.0L530.0 173.4L730.0 173.6L826.0 173.2M868.0 173.0L927.0 173.0M145.0 190.0L166.0 205.0L195.0 210.0L292.0 211.0M328.0 215.0L338.0 215.3L530.0 215.3L730.0 214.6L825.0 213.9M862.0 214.5L927.0 214.5M148.6 209.0L166.0 291.0L202.0 295.0L264.8 288.0L276.0 288.0M312.0 284.0L330.0 282.3L388.6 276.4L427.7 274.5L530.0 273.7L614.0 269.4L730.0 265.4L807.0 264.3M844.0 266.0L855.0 266.4L927.0 269.8M168.0 379.8L212.0 374.0L253.0 368.0L260.0 367.5M295.0 364.5L306.0 363.8L330.0 362.7L394.5 356.4L455.0 354.0L530.0 353.4L561.3 343.0L639.4 342.0L725.3 331.3L730.0 329.7L780.8 324.0L790.0 324.0M825.0 324.0L833.5 324.0L927.0 331.3" fill="none" stroke="#858585" stroke-width="1" stroke-dasharray="10 4 1 4" shape-rendering="crispEdges"/>
<path d="M134.0 66.6L150.0 64.6L153.4 53.0M261.8 53.0L262.5 60.0L286.0 60.7L325.0 62.0L330.0 62.3L352.0 62.3M380.0 62.3L400.0 62.3L405.0 60.0L408.0 53.0M134.0 68.1L170.0 62.0L178.0 60.7L181.7 53.0M236.4 53.0L236.4 58.8L262.0 61.5L286.0 62.7L325.0 65.0L421.0 64.6M463.0 64.0L486.0 64.0L494.0 61.7L510.7 53.0M134.0 75.4L161.0 66.6L181.0 64.2M221.0 62.3L247.0 64.0L286.0 66.6L325.0 68.5L424.7 68.5M476.5 68.0L513.6 68.0L530.0 67.6L555.0 66.2L578.0 63.7L589.6 53.0M711.6 53.0L686.0 57.8L668.0 62.7L667.7 67.2L647.0 69.0L614.0 71.5L581.0 74.0L553.0 74.4M502.0 75.4L481.0 75.4L466.0 76.0L505.8 84.2L521.4 90.0L530.0 90.3L627.7 98.5M681.4 100.4L730.0 100.4L788.6 97.0L831.5 92.0L882.0 79.3L896.0 73.0M896.0 70.0L882.0 66.2L865.0 65.2L862.8 60.7L841.0 53.0M781.0 74.0L767.0 73.4L812.0 71.0L864.8 71.5L827.7 75.0M134.0 85.0L155.4 90.6L165.0 92.0L216.0 90.4L292.0 96.0L319.5 95.3M371.0 96.6L530.0 107.3L575.0 108.2M627.7 109.4L705.8 109.4L730.0 108.2L829.6 104.3M882.0 96.5L893.6 92.4L908.8 80.3L927.0 71.2M914.8 53.0L911.3 63.6L927.0 66.2M134.0 100.7L194.5 109.0L216.0 108.7L282.0 108.2L322.0 108.6M364.0 110.3L447.0 112.8L530.0 115.0L578.8 115.7M620.8 116.6L730.0 115.6L830.0 111.0L840.0 110.5M876.5 107.6L927.0 98.5M134.0 108.6L196.4 118.3L322.0 118.7M364.0 118.0L530.0 121.6L578.0 122.5M620.8 123.5L730.0 122.4L830.0 117.6L840.0 117.4M876.0 116.7L927.0 110.3M134.0 116.4L196.4 126.7L322.0 126.5M364.0 126.3L530.0 131.6L578.0 132.7M619.0 133.6L730.0 133.7L778.8 131.8L833.5 130.3M875.5 129.3L927.0 125.5M134.0 124.2L198.4 141.8L322.0 142.7M364.0 142.5L530.0 145.4L577.0 146.8M619.0 147.4L730.0 149.3L802.3 148.4L833.5 150.4M875.5 154.3L892.0 157.2L927.0 154.3M134.0 125.5L198.4 143.5L322.0 144.2M364.0 144.0L530.0 147.0L577.0 150.2M619.0 152.3L730.0 154.7L802.3 154.3L833.5 156.3M875.5 161.0L892.0 164.0L927.0 162.0M134.0 129.0L198.4 145.7L227.7 150.5L243.3 152.9L274.5 153.5L303.8 151.1L331.0 150.4M364.0 150.0L408.0 150.7L530.0 158.4L578.8 161.5M619.8 163.4L730.0 164.5L778.8 165.0L834.5 169.5M876.5 174.4L893.0 181.3L927.0 180.3M927.0 207.4L893.0 206.0L862.8 215.8M812.0 217.0L788.6 217.2L730.0 215.2L689.2 211.3L667.7 200.2M627.7 196.6L604.2 173.6L582.7 173.2L530.0 169.8L423.8 166.0M382.7 166.0L332.0 170.8L355.4 179.6L366.0 183.7L404.2 212.0L432.5 238.4L447.2 264.7M424.7 292.5L394.5 316.4L365.0 336.9L330.0 351.5L274.5 365.2L271.6 372.0L268.7 401.3M262.5 432.0L261.8 452.2L267.7 457.5L298.5 466.0L323.4 468.3L382.0 469.2L430.0 469.2L456.0 467.7M497.4 464.8L524.4 468.4M152.5 146.6L166.0 144.7L178.8 159.3L166.0 162.3L152.5 146.6M138.0 152.0L151.5 166.2M186.6 181.2L208.0 181.2L225.7 179.5L239.4 180.0L296.0 189.6L330.0 199.3L365.0 217.9L383.7 235.4M410.0 265.0L414.4 271.2L395.4 290.0L378.8 305.0L365.0 316.4L330.0 336.0L239.4 360.0M198.4 369.0L166.0 373.0L163.0 358.0L154.2 300.0L142.6 200.0L138.0 152.0M143.5 177.8L166.0 199.7L223.7 206.5M264.8 210.4L330.0 223.7L365.0 244.2L389.6 271.6L372.0 290.0L354.4 305.0L340.7 313.4M303.8 329.6L266.7 339.8L202.0 354.8L166.0 356.8L164.5 350.0L155.8 300.0L146.0 215.0L143.5 177.8M147.0 188.5L166.0 210.0L196.4 215.3L235.5 215.5M281.4 223.0L330.0 235.4L365.0 258.0L378.8 272.5L361.0 290.0L340.7 305.0L330.0 310.5L298.0 323.0M259.0 334.5L200.3 346.6L166.5 348.6L166.0 343.0L157.3 300.0L148.0 220.0L147.0 188.5M927.0 245.5L914.6 244.0M882.3 246.5L864.8 249.0L788.6 249.4L730.0 247.4L688.2 245.5L658.0 247.4M627.7 250.4L562.2 253.3L530.0 263.4L493.0 290.0L464.8 310.5L429.6 329.0M400.3 342.3L353.4 360.0L365.0 378.9L399.3 400.4L496.0 411.0L505.8 410.0M534.0 409.0L541.7 417.0L541.7 434.0M927.0 359.2L899.0 374.3M868.7 374.3L862.8 373.3L827.7 361.6L773.0 324.5L730.0 318.2L692.0 317.2L661.8 320.2M631.6 328.4L562.2 342.0L561.3 344.0L565.2 386.0M239.3 565.0L239.3 534.3L300.0 510.2L364.4 499.0L416.0 503.4M457.7 499.0L497.4 488.0L511.8 490.5M317.5 582.0L317.5 545.0L364.4 531.3L423.4 537.7M465.0 528.7L495.6 513.5L495.6 521.5M351.2 592.3L351.2 551.0L364.4 546.6L418.0 552.8M449.4 557.5L449.4 590.0" fill="none" stroke="#000" stroke-width="1" shape-rendering="crispEdges"/>
</g><g clip-path="url(#cp2)">
<g font-family="Liberation Sans, sans-serif" font-weight="bold" font-size="10" letter-spacing="0.35" text-anchor="middle">
<text transform="translate(317.5,149) rotate(0)" y="3.6" fill="#848484" stroke="#848484" stroke-width="0.3">36.53</text>
<text transform="translate(851.6,147.2) rotate(0)" y="3.6" fill="#848484" stroke="#848484" stroke-width="0.3">36.53</text>
<text transform="translate(316.5,172) rotate(0)" y="3.6" fill="#848484" stroke="#848484" stroke-width="0.3">36.71</text>
<text transform="translate(850,177.2) rotate(0)" y="3.6" fill="#848484" stroke="#848484" stroke-width="0.3">36.71</text>
<text transform="translate(310,216.5) rotate(0)" y="3.6" fill="#848484" stroke="#848484" stroke-width="0.3">36.85</text>
<text transform="translate(843.3,216.9) rotate(0)" y="3.6" fill="#848484" stroke="#848484" stroke-width="0.3">36.85</text>
<text transform="translate(293,290.5) rotate(0)" y="3.6" fill="#848484" stroke="#848484" stroke-width="0.3">36.95</text>
<text transform="translate(825.2,268) rotate(0)" y="3.6" fill="#848484" stroke="#848484" stroke-width="0.3">36.95</text>
<text transform="translate(277,369) rotate(0)" y="3.6" fill="#848484" stroke="#848484" stroke-width="0.3">37.02</text>
<text transform="translate(807,327.2) rotate(0)" y="3.6" fill="#848484" stroke="#848484" stroke-width="0.3">37.02</text>
<text transform="translate(197,66.5) rotate(-6)" y="3.6" fill="#000" stroke="#000" stroke-width="0.35">10000</text>
<text transform="translate(366.5,65) rotate(0)" y="3.6" fill="#000" stroke="#000" stroke-width="0.35">6000</text>
<text transform="translate(444,67.5) rotate(0)" y="3.6" fill="#000" stroke="#000" stroke-width="0.35">8000</text>
<text transform="translate(452,72.5) rotate(0)" y="3.6" fill="#000" stroke="#000" stroke-width="0.35">10000</text>
<text transform="translate(530,79) rotate(3)" y="3.6" fill="#000" stroke="#000" stroke-width="0.35">12000</text>
<text transform="translate(897,71.5) rotate(-90)" y="3.6" fill="#000" stroke="#000" stroke-width="0.35">12000</text>
<text transform="translate(803,78.8) rotate(0)" y="3.6" fill="#000" stroke="#000" stroke-width="0.35">14000</text>
<text transform="translate(657.5,103.5) rotate(3)" y="3.6" fill="#000" stroke="#000" stroke-width="0.35">12000</text>
<text transform="translate(347.5,101) rotate(0)" y="3.6" fill="#000" stroke="#000" stroke-width="0.35">10000</text>
<text transform="translate(345.5,113.2) rotate(0)" y="3.6" fill="#000" stroke="#000" stroke-width="0.35">8000</text>
<text transform="translate(345.5,122) rotate(0)" y="3.6" fill="#000" stroke="#000" stroke-width="0.35">6000</text>
<text transform="translate(345.5,130) rotate(0)" y="3.6" fill="#000" stroke="#000" stroke-width="0.35">4000</text>
<text transform="translate(345.5,145.3) rotate(0)" y="3.6" fill="#000" stroke="#000" stroke-width="0.35">2000</text>
<text transform="translate(345.5,147.8) rotate(0)" y="3.6" fill="#000" stroke="#000" stroke-width="0.35">1800</text>
<text transform="translate(346.5,154.5) rotate(0)" y="3.6" fill="#000" stroke="#000" stroke-width="0.35">1400</text>
<text transform="translate(603.3,113.7) rotate(0)" y="3.6" fill="#000" stroke="#000" stroke-width="0.35">10000</text>
<text transform="translate(601,120.5) rotate(0)" y="3.6" fill="#000" stroke="#000" stroke-width="0.35">8000</text>
<text transform="translate(601,125.6) rotate(0)" y="3.6" fill="#000" stroke="#000" stroke-width="0.35">6000</text>
<text transform="translate(600.8,136) rotate(0)" y="3.6" fill="#000" stroke="#000" stroke-width="0.35">4000</text>
<text transform="translate(600.8,150.5) rotate(0)" y="3.6" fill="#000" stroke="#000" stroke-width="0.35">2000</text>
<text transform="translate(600.8,155) rotate(0)" y="3.6" fill="#000" stroke="#000" stroke-width="0.35">1800</text>
<text transform="translate(601.7,166) rotate(0)" y="3.6" fill="#000" stroke="#000" stroke-width="0.35">1400</text>
<text transform="translate(858.3,103.3) rotate(-8)" y="3.6" fill="#000" stroke="#000" stroke-width="0.35">10000</text>
<text transform="translate(858.5,112.5) rotate(-5)" y="3.6" fill="#000" stroke="#000" stroke-width="0.35">8000</text>
<text transform="translate(858.5,120) rotate(-3)" y="3.6" fill="#000" stroke="#000" stroke-width="0.35">6000</text>
<text transform="translate(856.4,134) rotate(0)" y="3.6" fill="#000" stroke="#000" stroke-width="0.35">4000</text>
<text transform="translate(855.4,156.3) rotate(3)" y="3.6" fill="#000" stroke="#000" stroke-width="0.35">2000</text>
<text transform="translate(856,163.2) rotate(3)" y="3.6" fill="#000" stroke="#000" stroke-width="0.35">1800</text>
<text transform="translate(857.9,175.3) rotate(12)" y="3.6" fill="#000" stroke="#000" stroke-width="0.35">1400</text>
<text transform="translate(402.8,169) rotate(0)" y="3.6" fill="#000" stroke="#000" stroke-width="0.35">1000</text>
<text transform="translate(648.7,202.5) rotate(5)" y="3.6" fill="#000" stroke="#000" stroke-width="0.35">1000</text>
<text transform="translate(644.3,252.8) rotate(-3)" y="3.6" fill="#000" stroke="#000" stroke-width="0.35">600</text>
<text transform="translate(900.4,249) rotate(0)" y="3.6" fill="#000" stroke="#000" stroke-width="0.35">600</text>
<text transform="translate(169.5,181.3) rotate(35)" y="3.6" fill="#000" stroke="#000" stroke-width="0.35">1400</text>
<text transform="translate(245.8,213) rotate(5)" y="3.6" fill="#000" stroke="#000" stroke-width="0.35">1800</text>
<text transform="translate(263.3,223.2) rotate(12)" y="3.6" fill="#000" stroke="#000" stroke-width="0.35">2000</text>
<text transform="translate(397.8,253.4) rotate(55)" y="3.6" fill="#000" stroke="#000" stroke-width="0.35">1400</text>
<text transform="translate(440.3,280.3) rotate(-50)" y="3.6" fill="#000" stroke="#000" stroke-width="0.35">1000</text>
<text transform="translate(280.4,332) rotate(-17)" y="3.6" fill="#000" stroke="#000" stroke-width="0.35">2000</text>
<text transform="translate(326,324.5) rotate(-25)" y="3.6" fill="#000" stroke="#000" stroke-width="0.35">1800</text>
<text transform="translate(222.8,367.5) rotate(-12)" y="3.6" fill="#000" stroke="#000" stroke-width="0.35">1400</text>
<text transform="translate(417.4,337.4) rotate(-22)" y="3.6" fill="#000" stroke="#000" stroke-width="0.35">600</text>
<text transform="translate(270.5,420.5) rotate(-88)" y="3.6" fill="#000" stroke="#000" stroke-width="0.35">1000</text>
<text transform="translate(522.6,412.5) rotate(0)" y="3.6" fill="#000" stroke="#000" stroke-width="0.35">600</text>
<text transform="translate(480.3,469.7) rotate(-3)" y="3.6" fill="#000" stroke="#000" stroke-width="0.35">1000</text>
<text transform="translate(440.5,506) rotate(-8)" y="3.6" fill="#000" stroke="#000" stroke-width="0.35">1400</text>
<text transform="translate(447.8,535) rotate(-15)" y="3.6" fill="#000" stroke="#000" stroke-width="0.35">1800</text>
<text transform="translate(438.4,557.7) rotate(15)" y="3.6" fill="#000" stroke="#000" stroke-width="0.35">2000</text>
<text transform="translate(650,327.8) rotate(-12)" y="3.6" fill="#000" stroke="#000" stroke-width="0.35">200</text>
<text transform="translate(883.2,377.7) rotate(0)" y="3.6" fill="#000" stroke="#000" stroke-width="0.35">200</text>
<text transform="translate(157.8,306.5) rotate(83)" y="3.6" fill="#000" stroke="#000" stroke-width="0.35">2000</text>
<text transform="translate(158.8,308.5) rotate(83)" y="3.6" fill="#000" stroke="#000" stroke-width="0.35">1800</text>
<text transform="translate(161.7,344.7) rotate(83)" y="3.6" fill="#000" stroke="#000" stroke-width="0.35">1400</text>
</g></g>
<g shape-rendering="crispEdges" stroke="#000" stroke-width="1" fill="none">
<rect x="133.5" y="52.5" width="794" height="565"/>
</g>
<g font-family="Liberation Sans, sans-serif" fill="#000">
<text x="529" y="42.3" font-size="14.5" font-weight="bold" text-anchor="middle">Tracer 25+26 along WOCE A5</text>
<text x="529" y="655.8" font-size="14.5" font-weight="bold" text-anchor="middle">Longitude (°E)</text>
<text transform="translate(91.6,335.5) rotate(-90)" font-size="14.5" font-weight="bold" text-anchor="middle">Depth (m)</text>
<text x="129.3" y="57.5" font-size="12.6" text-anchor="end">0</text>
<text x="129.3" y="151.3" font-size="12.6" text-anchor="end">1000</text>
<text x="129.3" y="245.2" font-size="12.6" text-anchor="end">2000</text>
<text x="129.3" y="339.0" font-size="12.6" text-anchor="end">3000</text>
<text x="129.3" y="432.8" font-size="12.6" text-anchor="end">4000</text>
<text x="129.3" y="526.7" font-size="12.6" text-anchor="end">5000</text>
<text x="129.3" y="620.5" font-size="12.6" text-anchor="end">6000</text>
<text x="236.7" y="635.0" font-size="12.6" text-anchor="middle">-70</text>
<text x="373.5" y="635.0" font-size="12.6" text-anchor="middle">-60</text>
<text x="510.3" y="635.0" font-size="12.6" text-anchor="middle">-50</text>
<text x="647.1" y="635.0" font-size="12.6" text-anchor="middle">-40</text>
<text x="783.9" y="635.0" font-size="12.6" text-anchor="middle">-30</text>
<text x="920.7" y="635.0" font-size="12.6" text-anchor="middle">-20</text>
<text x="245.1" y="692.3" font-size="12.6" text-anchor="middle">2000</text>
<text x="357.2" y="692.3" font-size="12.6" text-anchor="middle">4000</text>
<text x="469.4" y="692.3" font-size="12.6" text-anchor="middle">6000</text>
<text x="581.6" y="692.3" font-size="12.6" text-anchor="middle">8000</text>
<text x="693.8" y="692.3" font-size="12.6" text-anchor="middle">10000</text>
<text x="805.9" y="692.3" font-size="12.6" text-anchor="middle">12000</text>
<text x="918.1" y="692.3" font-size="12.6" text-anchor="middle">14000</text>
</g>
<g shape-rendering="crispEdges">
<rect x="134" y="662" width="6" height="12" fill="#eec8f0"/>
<rect x="140" y="662" width="7" height="12" fill="#e8b0e8"/>
<rect x="147" y="662" width="7" height="12" fill="#e496e2"/>
<rect x="154" y="662" width="7" height="12" fill="#e07ddb"/>
<rect x="161" y="662" width="7" height="12" fill="#dc66d4"/>
<rect x="168" y="662" width="7" height="12" fill="#da50cc"/>
<rect x="175" y="662" width="7" height="12" fill="#d64bc6"/>
<rect x="182" y="662" width="7" height="12" fill="#d455c0"/>
<rect x="189" y="662" width="7" height="12" fill="#d062bc"/>
<rect x="196" y="662" width="7" height="12" fill="#ca74ba"/>
<rect x="203" y="662" width="7" height="12" fill="#c483bb"/>
<rect x="210" y="662" width="7" height="12" fill="#bc91c1"/>
<rect x="217" y="662" width="7" height="12" fill="#b098c9"/>
<rect x="224" y="662" width="7" height="12" fill="#a296d3"/>
<rect x="231" y="662" width="7" height="12" fill="#8f8cdc"/>
<rect x="238" y="662" width="7" height="12" fill="#7a79e4"/>
<rect x="245" y="662" width="7" height="12" fill="#5251f6"/>
<rect x="252" y="662" width="7" height="12" fill="#3e44fb"/>
<rect x="259" y="662" width="7" height="12" fill="#2c38ff"/>
<rect x="266" y="662" width="7" height="12" fill="#263cfc"/>
<rect x="273" y="662" width="7" height="12" fill="#223ff9"/>
<rect x="280" y="662" width="7" height="12" fill="#204bf1"/>
<rect x="287" y="662" width="7" height="12" fill="#205be7"/>
<rect x="294" y="662" width="7" height="12" fill="#2569e6"/>
<rect x="301" y="662" width="7" height="12" fill="#2c78ea"/>
<rect x="308" y="662" width="7" height="12" fill="#3488ee"/>
<rect x="315" y="662" width="7" height="12" fill="#3c98f2"/>
<rect x="322" y="662" width="7" height="12" fill="#44a8f6"/>
<rect x="329" y="662" width="7" height="12" fill="#4fb8f6"/>
<rect x="336" y="662" width="7" height="12" fill="#5dc8f3"/>
<rect x="343" y="662" width="7" height="12" fill="#6bd8f0"/>
<rect x="350" y="662" width="7" height="12" fill="#79e8ed"/>
<rect x="357" y="662" width="7" height="12" fill="#7ceed1"/>
<rect x="364" y="662" width="7" height="12" fill="#74e8c3"/>
<rect x="371" y="662" width="7" height="12" fill="#6ce4b5"/>
<rect x="378" y="662" width="7" height="12" fill="#64dea7"/>
<rect x="385" y="662" width="7" height="12" fill="#5ada9a"/>
<rect x="392" y="662" width="7" height="12" fill="#4fd68f"/>
<rect x="399" y="662" width="7" height="12" fill="#43d183"/>
<rect x="406" y="662" width="7" height="12" fill="#38cd78"/>
<rect x="413" y="662" width="7" height="12" fill="#2dc96d"/>
<rect x="420" y="662" width="7" height="12" fill="#21c461"/>
<rect x="427" y="662" width="7" height="12" fill="#1bc85b"/>
<rect x="434" y="662" width="7" height="12" fill="#16cc56"/>
<rect x="441" y="662" width="7" height="12" fill="#11d151"/>
<rect x="448" y="662" width="7" height="12" fill="#0cd54c"/>
<rect x="455" y="662" width="7" height="12" fill="#07d947"/>
<rect x="462" y="662" width="7" height="12" fill="#02de42"/>
<rect x="469" y="662" width="7" height="12" fill="#15e631"/>
<rect x="476" y="662" width="7" height="12" fill="#1fe233"/>
<rect x="483" y="662" width="7" height="12" fill="#29de35"/>
<rect x="490" y="662" width="7" height="12" fill="#33da37"/>
<rect x="497" y="662" width="7" height="12" fill="#3ed63c"/>
<rect x="504" y="662" width="7" height="12" fill="#48d242"/>
<rect x="511" y="662" width="7" height="12" fill="#54ce4a"/>
<rect x="518" y="662" width="7" height="12" fill="#5eca50"/>
<rect x="525" y="662" width="7" height="12" fill="#68ca56"/>
<rect x="532" y="662" width="7" height="12" fill="#70cc5a"/>
<rect x="539" y="662" width="7" height="12" fill="#78d05e"/>
<rect x="546" y="662" width="7" height="12" fill="#80d262"/>
<rect x="553" y="662" width="7" height="12" fill="#88d766"/>
<rect x="560" y="662" width="7" height="12" fill="#90dc69"/>
<rect x="567" y="662" width="7" height="12" fill="#98e16c"/>
<rect x="574" y="662" width="7" height="12" fill="#a0e66f"/>
<rect x="581" y="662" width="7" height="12" fill="#beef5d"/>
<rect x="588" y="662" width="7" height="12" fill="#caed57"/>
<rect x="595" y="662" width="7" height="12" fill="#d6e951"/>
<rect x="602" y="662" width="7" height="12" fill="#e2e34b"/>
<rect x="609" y="662" width="7" height="12" fill="#ecdc44"/>
<rect x="616" y="662" width="7" height="12" fill="#f4d43c"/>
<rect x="623" y="662" width="7" height="12" fill="#facd34"/>
<rect x="630" y="662" width="7" height="12" fill="#fdc72c"/>
<rect x="637" y="662" width="7" height="12" fill="#ffc226"/>
<rect x="644" y="662" width="7" height="12" fill="#ffbc22"/>
<rect x="651" y="662" width="7" height="12" fill="#ffb81e"/>
<rect x="658" y="662" width="7" height="12" fill="#ffb21a"/>
<rect x="665" y="662" width="7" height="12" fill="#ffad17"/>
<rect x="672" y="662" width="7" height="12" fill="#ffa815"/>
<rect x="679" y="662" width="7" height="12" fill="#ffa313"/>
<rect x="686" y="662" width="7" height="12" fill="#ff9e11"/>
<rect x="693" y="662" width="7" height="12" fill="#f68f0f"/>
<rect x="700" y="662" width="7" height="12" fill="#f0860c"/>
<rect x="707" y="662" width="7" height="12" fill="#ec7d0a"/>
<rect x="714" y="662" width="7" height="12" fill="#e67307"/>
<rect x="721" y="662" width="7" height="12" fill="#e26a05"/>
<rect x="728" y="662" width="7" height="12" fill="#dc6002"/>
<rect x="735" y="662" width="7" height="12" fill="#d95700"/>
<rect x="742" y="662" width="7" height="12" fill="#e15104"/>
<rect x="749" y="662" width="7" height="12" fill="#ea4a07"/>
<rect x="756" y="662" width="7" height="12" fill="#f1410a"/>
<rect x="763" y="662" width="7" height="12" fill="#f7370e"/>
<rect x="770" y="662" width="7" height="12" fill="#fc2d10"/>
<rect x="777" y="662" width="7" height="12" fill="#fe2310"/>
<rect x="784" y="662" width="7" height="12" fill="#ff1910"/>
<rect x="791" y="662" width="8" height="12" fill="#ff0f10"/>
<rect x="799" y="662" width="7" height="12" fill="#ff0510"/>
<rect x="806" y="662" width="7" height="12" fill="#e60121"/>
<rect x="813" y="662" width="7" height="12" fill="#e20424"/>
<rect x="820" y="662" width="7" height="12" fill="#dd0727"/>
<rect x="827" y="662" width="7" height="12" fill="#d90a2a"/>
<rect x="834" y="662" width="7" height="12" fill="#d50d2d"/>
<rect x="841" y="662" width="7" height="12" fill="#d01030"/>
<rect x="848" y="662" width="7" height="12" fill="#d41e37"/>
<rect x="855" y="662" width="7" height="12" fill="#da2c3e"/>
<rect x="862" y="662" width="7" height="12" fill="#de3c46"/>
<rect x="869" y="662" width="7" height="12" fill="#e44a4d"/>
<rect x="876" y="662" width="7" height="12" fill="#e85a55"/>
<rect x="883" y="662" width="7" height="12" fill="#ee685c"/>
<rect x="890" y="662" width="7" height="12" fill="#f27864"/>
<rect x="897" y="662" width="7" height="12" fill="#f6886c"/>
<rect x="904" y="662" width="7" height="12" fill="#f99874"/>
<rect x="911" y="662" width="7" height="12" fill="#fda87c"/>
<rect x="918" y="662" width="7" height="12" fill="#fec48a"/>
<rect x="925" y="662" width="3" height="12" fill="#fec48a"/>
<rect x="133.5" y="661.5" width="795" height="13" fill="none" stroke="#000"/>
<path d="M244.5 662v12M356.5 662v12M468.5 662v12M581.5 662v12M693.5 662v12M805.5 662v12M917.5 662v12" stroke="#000" fill="none"/>
</g></svg></body></html>
